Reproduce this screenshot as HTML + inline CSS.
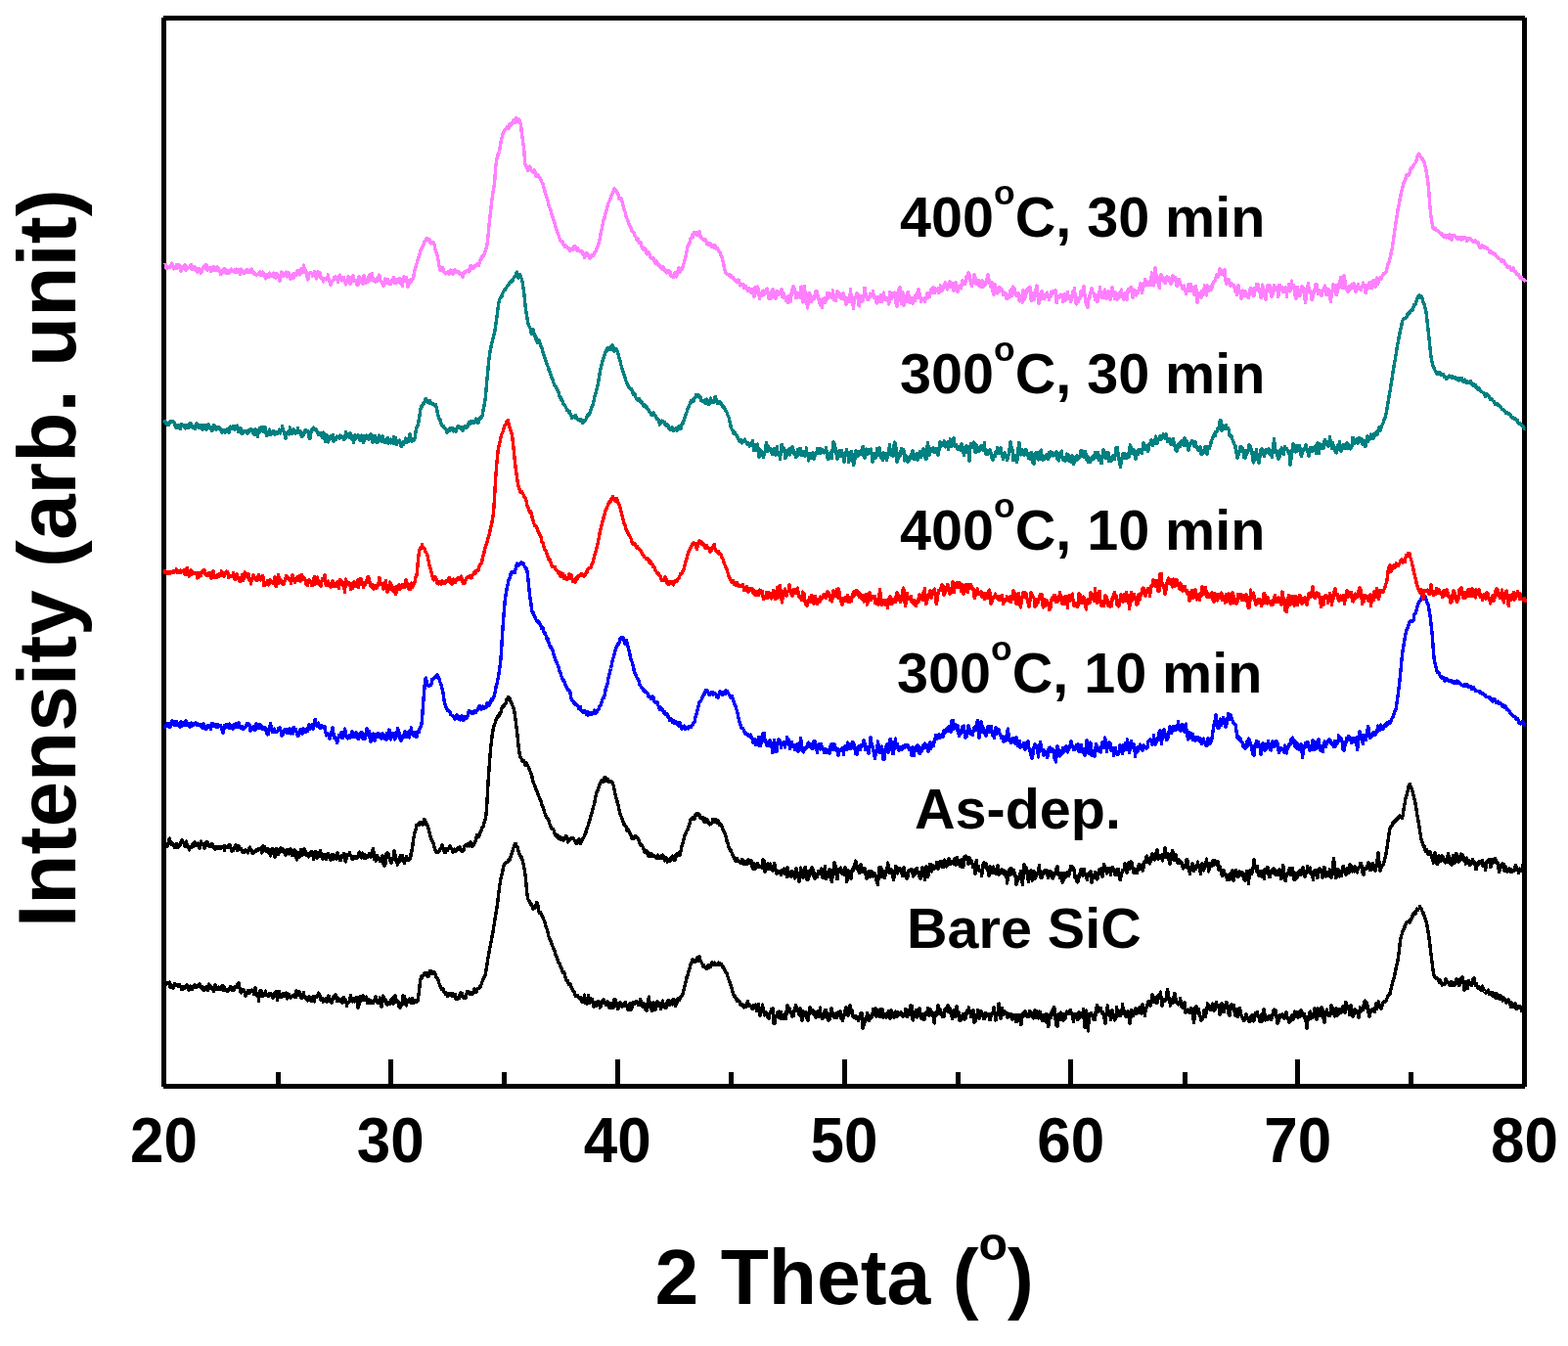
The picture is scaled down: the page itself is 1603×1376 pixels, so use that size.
<!DOCTYPE html>
<html lang="en"><head><meta charset="utf-8"><title>XRD patterns</title>
<style>html,body{margin:0;padding:0;background:#fff}body{width:1603px;height:1376px;overflow:hidden}svg{display:block}text{font-family:"Liberation Sans",Arial,Helvetica,sans-serif;font-weight:bold;fill:#000}</style></head><body>
<svg width="1603" height="1376" viewBox="0 0 1603 1376">
<rect x="0" y="0" width="1603" height="1376" fill="#fff"/>
<g fill="#000" shape-rendering="crispEdges">
<rect x="165" y="18" width="5" height="1093"/>
<rect x="1556" y="18" width="5" height="1093"/>
<rect x="167" y="16" width="1392" height="5"/>
<rect x="167" y="1108" width="1392" height="5"/>
<rect x="282" y="1096" width="5" height="13"/>
<rect x="397" y="1083" width="5" height="26"/>
<rect x="513" y="1096" width="5" height="13"/>
<rect x="629" y="1083" width="5" height="26"/>
<rect x="745" y="1096" width="5" height="13"/>
<rect x="861" y="1083" width="5" height="26"/>
<rect x="977" y="1096" width="5" height="13"/>
<rect x="1092" y="1083" width="5" height="26"/>
<rect x="1209" y="1096" width="5" height="13"/>
<rect x="1324" y="1083" width="5" height="26"/>
<rect x="1440" y="1096" width="5" height="13"/>
</g>
<g shape-rendering="crispEdges">
<polyline points="168,1008.5 168.5,1006.9 169,1004.4 169.5,1006.2 170,1006.3 170.5,1004.8 171,1004.3 171.5,1004.8 172,1004.6 172.5,1004.3 173,1004.5 173.5,1004.1 174,1009.1 174.5,1008.4 175,1006.7 175.5,1007.0 176,1009.4 176.5,1010.1 177,1010.1 177.5,1008.3 178,1007.8 178.5,1005.7 179,1007.3 179.5,1006.7 180,1007.4 180.5,1007.3 181,1007.4 181.5,1007.4 182,1008.4 182.5,1006.6 183,1007.9 183.5,1006.8 184,1007.6 184.5,1009.0 185,1009.5 185.5,1010.7 186,1011.8 186.5,1011.2 187,1010.1 187.5,1008.7 188,1010.1 188.5,1009.7 189,1010.0 189.5,1009.1 190,1008.8 190.5,1007.6 191,1006.9 191.5,1007.9 192,1008.3 192.5,1011.4 193,1012.4 193.5,1011.0 194,1011.4 194.5,1008.1 195,1011.6 195.5,1008.7 196,1008.5 196.5,1011.6 197,1010.3 197.5,1009.4 198,1009.6 198.5,1007.1 199,1006.5 199.5,1007.1 200,1009.1 200.5,1009.1 201,1008.0 201.5,1008.8 202,1008.1 202.5,1008.5 203,1008.1 203.5,1008.0 204,1005.5 204.5,1007.7 205,1008.2 205.5,1009.8 206,1009.5 206.5,1010.4 207,1008.5 207.5,1010.5 208,1012.1 208.5,1012.4 209,1009.4 209.5,1009.6 210,1010.8 210.5,1009.2 211,1011.2 211.5,1010.9 212,1012.1 212.5,1012.3 213,1008.5 213.5,1006.0 214,1006.4 214.5,1009.5 215,1009.2 215.5,1010.7 216,1008.5 216.5,1010.9 217,1009.9 217.5,1010.3 218,1009.7 218.5,1013.3 219,1011.3 219.5,1009.5 220,1007.0 220.5,1009.9 221,1011.3 221.5,1009.4 222,1009.7 222.5,1010.7 223,1011.7 223.5,1009.0 224,1010.8 224.5,1010.3 225,1011.3 225.5,1010.6 226,1009.5 226.5,1009.9 227,1008.3 227.5,1007.5 228,1012.0 228.5,1008.0 229,1009.7 229.5,1009.4 230,1012.7 230.5,1011.1 231,1011.2 231.5,1011.3 232,1012.2 232.5,1013.4 233,1013.7 233.5,1012.1 234,1011.6 234.5,1011.2 235,1009.4 235.5,1010.7 236,1008.2 236.5,1012.1 237,1012.5 237.5,1012.1 238,1012.0 238.5,1012.4 239,1012.3 239.5,1011.7 240,1009.1 240.5,1008.4 241,1009.8 241.5,1008.7 242,1009.0 242.5,1006.1 243,1005.6 243.5,1005.2 244,1004.8 244.5,1008.8 245,1010.0 245.5,1011.3 246,1014.3 246.5,1015.0 247,1013.6 247.5,1011.2 248,1011.2 248.5,1011.9 249,1013.6 249.5,1012.7 250,1014.1 250.5,1016.3 251,1017.9 251.5,1015.8 252,1015.4 252.5,1016.0 253,1013.9 253.5,1012.9 254,1015.1 254.5,1015.0 255,1015.5 255.5,1012.5 256,1014.0 256.5,1013.3 257,1013.2 257.5,1012.1 258,1013.0 258.5,1013.6 259,1013.6 259.5,1016.7 260,1012.1 260.5,1013.7 261,1009.7 261.5,1012.1 262,1015.4 262.5,1016.2 263,1018.8 263.5,1015.5 264,1017.2 264.5,1023.3 265,1017.4 265.5,1016.4 266,1012.6 266.5,1012.6 267,1013.3 267.5,1013.8 268,1016.1 268.5,1018.4 269,1015.9 269.5,1016.8 270,1017.2 270.5,1016.2 271,1016.3 271.5,1013.1 272,1017.7 272.5,1016.9 273,1017.1 273.5,1017.6 274,1018.0 274.5,1016.6 275,1018.3 275.5,1015.9 276,1016.8 276.5,1017.5 277,1016.8 277.5,1015.9 278,1017.4 278.5,1019.1 279,1017.8 279.5,1020.1 280,1017.4 280.5,1016.6 281,1015.3 281.5,1014.6 282,1013.3 282.5,1015.0 283,1017.3 283.5,1022.3 284,1019.5 284.5,1018.4 285,1013.1 285.5,1016.1 286,1015.8 286.5,1018.9 287,1019.2 287.5,1016.5 288,1019.5 288.5,1018.2 289,1015.4 289.5,1015.4 290,1017.8 290.5,1018.1 291,1018.1 291.5,1015.9 292,1016.4 292.5,1018.2 293,1015.1 293.5,1020.9 294,1019.1 294.5,1018.5 295,1016.5 295.5,1016.8 296,1018.4 296.5,1018.2 297,1020.4 297.5,1018.5 298,1019.4 298.5,1018.1 299,1018.7 299.5,1017.8 300,1018.2 300.5,1017.2 301,1019.3 301.5,1018.5 302,1016.8 302.5,1019.5 303,1012.5 303.5,1017.7 304,1017.3 304.5,1017.2 305,1016.0 305.5,1016.6 306,1013.5 306.5,1016.7 307,1016.2 307.5,1019.4 308,1020.5 308.5,1019.6 309,1020.3 309.5,1017.1 310,1017.1 310.5,1014.8 311,1018.3 311.5,1018.9 312,1018.8 312.5,1019.2 313,1021.7 313.5,1020.3 314,1022.5 314.5,1023.1 315,1021.3 315.5,1020.0 316,1019.1 316.5,1021.6 317,1022.5 317.5,1019.7 318,1021.9 318.5,1023.2 319,1022.1 319.5,1020.7 320,1022.2 320.5,1018.8 321,1019.8 321.5,1023.9 322,1020.0 322.5,1019.0 323,1019.0 323.5,1019.6 324,1018.7 324.5,1018.4 325,1017.5 325.5,1015.2 326,1017.5 326.5,1016.3 327,1018.2 327.5,1021.4 328,1022.0 328.5,1021.5 329,1020.3 329.5,1023.0 330,1020.6 330.5,1024.1 331,1023.8 331.5,1022.6 332,1022.9 332.5,1021.0 333,1020.6 333.5,1020.4 334,1024.2 334.5,1021.3 335,1022.7 335.5,1021.1 336,1018.1 336.5,1020.4 337,1023.2 337.5,1023.5 338,1022.6 338.5,1024.3 339,1024.9 339.5,1021.7 340,1020.9 340.5,1019.1 341,1021.1 341.5,1020.8 342,1020.4 342.5,1017.0 343,1016.6 343.5,1019.5 344,1019.7 344.5,1023.1 345,1020.6 345.5,1020.0 346,1023.4 346.5,1023.4 347,1023.8 347.5,1023.7 348,1023.5 348.5,1021.5 349,1021.8 349.5,1023.0 350,1025.7 350.5,1022.7 351,1020.1 351.5,1019.4 352,1023.1 352.5,1022.2 353,1021.4 353.5,1023.4 354,1023.5 354.5,1028.4 355,1026.4 355.5,1024.7 356,1025.5 356.5,1024.9 357,1023.8 357.5,1022.2 358,1020.2 358.5,1017.6 359,1020.1 359.5,1021.6 360,1022.2 360.5,1024.0 361,1020.6 361.5,1022.1 362,1021.9 362.5,1023.9 363,1023.8 363.5,1020.2 364,1021.2 364.5,1019.8 365,1023.0 365.5,1025.9 366,1030.0 366.5,1027.4 367,1027.4 367.5,1025.2 368,1019.2 368.5,1018.6 369,1019.8 369.5,1023.1 370,1021.5 370.5,1021.3 371,1017.8 371.5,1019.9 372,1022.3 372.5,1019.8 373,1019.4 373.5,1021.7 374,1019.3 374.5,1019.1 375,1022.8 375.5,1025.2 376,1022.5 376.5,1021.3 377,1023.0 377.5,1022.4 378,1024.7 378.5,1025.3 379,1025.4 379.5,1023.0 380,1024.2 380.5,1024.1 381,1024.4 381.5,1025.3 382,1022.9 382.5,1023.1 383,1021.6 383.5,1021.4 384,1018.6 384.5,1022.8 385,1024.3 385.5,1023.6 386,1025.4 386.5,1025.0 387,1023.4 387.5,1025.3 388,1022.5 388.5,1019.9 389,1020.9 389.5,1021.7 390,1029.0 390.5,1027.2 391,1022.7 391.5,1018.1 392,1019.0 392.5,1022.1 393,1023.4 393.5,1023.5 394,1021.3 394.5,1025.7 395,1023.9 395.5,1024.9 396,1027.3 396.5,1025.9 397,1025.9 397.5,1026.5 398,1025.1 398.5,1024.7 399,1025.9 399.5,1022.0 400,1022.0 400.5,1022.7 401,1023.5 401.5,1020.2 402,1026.1 402.5,1023.9 403,1021.6 403.5,1019.8 404,1017.6 404.5,1020.8 405,1021.4 405.5,1024.3 406,1024.2 406.5,1024.7 407,1023.5 407.5,1025.9 408,1029.4 408.5,1028.6 409,1030.0 409.5,1028.4 410,1026.0 410.5,1026.5 411,1027.4 411.5,1023.2 412,1017.2 412.5,1019.5 413,1020.9 413.5,1018.4 414,1021.7 414.5,1024.3 415,1027.3 415.5,1028.0 416,1022.2 416.5,1023.9 417,1024.3 417.5,1022.9 418,1022.2 418.5,1023.9 419,1021.1 419.5,1023.1 420,1023.5 420.5,1025.5 421,1024.9 421.5,1020.8 422,1022.1 422.5,1023.2 423,1025.4 423.5,1024.9 424,1023.9 424.5,1023.3 425,1022.2 425.5,1022.7 426,1024.2 426.5,1023.6 427,1023.2 427.5,1020.3 428,1017.2 428.5,1013.0 429,1008.2 429.5,1003.6 430,1000.4 430.5,999.2 431,997.6 431.5,999.7 432,997.8 432.5,997.1 433,996.8 433.5,995.8 434,995.0 434.5,995.9 435,994.2 435.5,994.4 436,997.3 436.5,996.7 437,998.2 437.5,996.7 438,997.9 438.5,994.8 439,995.1 439.5,992.9 440,993.4 440.5,992.8 441,995.0 441.5,995.3 442,995.0 442.5,994.1 443,994.8 443.5,994.1 444,993.7 444.5,994.8 445,995.8 445.5,996.8 446,999.5 446.5,999.9 447,1000.2 447.5,1000.6 448,1002.0 448.5,1004.2 449,1005.3 449.5,1007.1 450,1008.2 450.5,1009.6 451,1010.5 451.5,1011.5 452,1010.2 452.5,1010.8 453,1010.5 453.5,1012.5 454,1014.0 454.5,1014.3 455,1014.7 455.5,1016.6 456,1014.9 456.5,1015.5 457,1016.2 457.5,1016.9 458,1018.8 458.5,1017.0 459,1017.1 459.5,1015.4 460,1015.2 460.5,1015.9 461,1016.0 461.5,1015.8 462,1018.1 462.5,1015.8 463,1016.6 463.5,1017.2 464,1018.4 464.5,1018.5 465,1018.0 465.5,1016.6 466,1021.8 466.5,1021.2 467,1019.8 467.5,1021.7 468,1020.1 468.5,1020.6 469,1020.2 469.5,1020.4 470,1016.5 470.5,1017.1 471,1015.1 471.5,1015.2 472,1015.2 472.5,1016.6 473,1019.8 473.5,1018.3 474,1018.3 474.5,1020.2 475,1019.7 475.5,1019.9 476,1020.1 476.5,1016.9 477,1015.7 477.5,1013.4 478,1014.1 478.5,1014.3 479,1013.4 479.5,1015.2 480,1016.2 480.5,1016.3 481,1014.3 481.5,1016.0 482,1015.0 482.5,1016.5 483,1014.5 483.5,1014.4 484,1015.7 484.5,1012.2 485,1011.1 485.5,1012.5 486,1013.3 486.5,1014.7 487,1014.5 487.5,1012.5 488,1010.9 488.5,1011.0 489,1010.7 489.5,1010.0 490,1009.7 490.5,1008.7 491,1009.2 491.5,1007.5 492,1006.6 492.5,1004.7 493,1003.6 493.5,1002.8 494,1000.8 494.5,999.9 495,998.6 495.5,998.7 496,997.3 496.5,995.7 497,991.8 497.5,988.8 498,985.4 498.5,982.6 499,978.9 499.5,976.6 500,973.4 500.5,971.0 501,967.9 501.5,965.3 502,963.0 502.5,960.1 503,957.4 503.5,955.2 504,952.5 504.5,949.0 505,946.1 505.5,942.8 506,939.4 506.5,936.6 507,933.3 507.5,930.1 508,927.3 508.5,924.2 509,920.4 509.5,915.9 510,911.5 510.5,907.4 511,904.0 511.5,901.4 512,897.9 512.5,895.6 513,894.1 513.5,891.5 514,889.9 514.5,887.1 515,885.0 515.5,883.6 516,883.1 516.5,883.1 517,882.7 517.5,881.4 518,881.8 518.5,881.0 519,880.9 519.5,880.0 520,878.8 520.5,879.2 521,878.9 521.5,878.3 522,876.2 522.5,875.9 523,872.8 523.5,871.0 524,869.9 524.5,867.5 525,866.7 525.5,865.2 526,863.8 526.5,863.2 527,862.2 527.5,864.2 528,865.5 528.5,865.5 529,866.0 529.5,867.2 530,870.3 530.5,872.5 531,873.6 531.5,873.8 532,875.0 532.5,875.5 533,876.8 533.5,876.8 534,879.2 534.5,880.8 535,882.9 535.5,885.5 536,888.2 536.5,890.7 537,893.8 537.5,898.5 538,904.5 538.5,910.9 539,915.1 539.5,917.7 540,919.5 540.5,920.7 541,921.2 541.5,922.8 542,923.5 542.5,923.0 543,925.1 543.5,924.5 544,926.1 544.5,927.8 545,929.0 545.5,927.7 546,926.4 546.5,928.7 547,926.1 547.5,926.6 548,924.7 548.5,922.5 549,924.4 549.5,923.7 550,926.6 550.5,931.1 551,932.6 551.5,933.3 552,933.4 552.5,932.4 553,933.5 553.5,934.6 554,936.1 554.5,937.3 555,937.9 555.5,938.9 556,940.4 556.5,942.3 557,942.7 557.5,944.9 558,946.6 558.5,948.2 559,949.5 559.5,951.0 560,953.0 560.5,955.5 561,957.6 561.5,958.8 562,959.7 562.5,961.2 563,961.5 563.5,962.5 564,965.6 564.5,966.5 565,967.3 565.5,969.0 566,970.5 566.5,970.4 567,972.0 567.5,973.8 568,976.2 568.5,977.5 569,978.1 569.5,980.2 570,980.9 570.5,983.2 571,984.1 571.5,984.8 572,985.0 572.5,986.4 573,988.3 573.5,989.0 574,989.9 574.5,992.2 575,992.6 575.5,994.3 576,994.3 576.5,993.5 577,995.1 577.5,997.1 578,999.1 578.5,1001.6 579,1002.6 579.5,1002.9 580,1002.2 580.5,1003.2 581,1005.6 581.5,1006.4 582,1005.3 582.5,1006.0 583,1006.5 583.5,1006.8 584,1009.3 584.5,1009.5 585,1011.6 585.5,1011.7 586,1013.3 586.5,1013.9 587,1014.0 587.5,1016.9 588,1017.6 588.5,1018.3 589,1018.4 589.5,1017.9 590,1017.8 590.5,1017.8 591,1019.5 591.5,1019.4 592,1020.7 592.5,1019.8 593,1019.9 593.5,1019.6 594,1022.0 594.5,1023.5 595,1024.3 595.5,1024.7 596,1024.1 596.5,1023.9 597,1020.9 597.5,1017.2 598,1020.2 598.5,1025.5 599,1024.5 599.5,1025.0 600,1025.1 600.5,1026.2 601,1023.5 601.5,1017.3 602,1019.6 602.5,1025.6 603,1022.9 603.5,1020.7 604,1022.8 604.5,1023.2 605,1022.2 605.5,1021.3 606,1024.0 606.5,1028.5 607,1029.7 607.5,1025.8 608,1027.9 608.5,1025.5 609,1025.8 609.5,1024.4 610,1024.9 610.5,1028.1 611,1024.7 611.5,1023.3 612,1023.9 612.5,1027.5 613,1028.3 613.5,1030.1 614,1029.7 614.5,1025.5 615,1023.6 615.5,1023.6 616,1023.8 616.5,1024.0 617,1022.1 617.5,1025.6 618,1025.8 618.5,1025.8 619,1025.6 619.5,1027.1 620,1025.6 620.5,1027.1 621,1024.0 621.5,1025.1 622,1025.5 622.5,1028.1 623,1029.9 623.5,1028.4 624,1025.8 624.5,1030.2 625,1027.9 625.5,1027.4 626,1029.7 626.5,1030.4 627,1025.0 627.5,1030.1 628,1021.4 628.5,1027.7 629,1023.9 629.5,1022.0 630,1024.7 630.5,1025.5 631,1028.4 631.5,1031.6 632,1028.3 632.5,1030.5 633,1025.1 633.5,1026.3 634,1024.9 634.5,1025.7 635,1027.5 635.5,1028.0 636,1029.0 636.5,1028.1 637,1028.8 637.5,1026.2 638,1027.6 638.5,1028.6 639,1028.6 639.5,1024.7 640,1026.8 640.5,1028.9 641,1028.0 641.5,1028.5 642,1032.8 642.5,1031.6 643,1030.0 643.5,1027.3 644,1025.8 644.5,1028.2 645,1032.3 645.5,1031.2 646,1029.7 646.5,1028.2 647,1024.8 647.5,1026.3 648,1026.1 648.5,1026.5 649,1025.0 649.5,1025.6 650,1025.7 650.5,1023.9 651,1024.8 651.5,1024.0 652,1025.6 652.5,1027.5 653,1025.9 653.5,1026.5 654,1027.0 654.5,1021.6 655,1022.7 655.5,1024.2 656,1027.1 656.5,1028.4 657,1029.3 657.5,1027.3 658,1025.3 658.5,1028.1 659,1028.2 659.5,1026.7 660,1032.4 660.5,1031.1 661,1033.7 661.5,1031.3 662,1030.6 662.5,1028.4 663,1021.7 663.5,1019.2 664,1025.0 664.5,1027.2 665,1029.3 665.5,1029.5 666,1032.6 666.5,1033.5 667,1030.8 667.5,1028.0 668,1024.6 668.5,1029.3 669,1028.0 669.5,1032.7 670,1032.8 670.5,1031.0 671,1027.0 671.5,1023.9 672,1023.5 672.5,1024.5 673,1028.5 673.5,1026.0 674,1025.2 674.5,1025.6 675,1026.2 675.5,1031.5 676,1030.0 676.5,1025.8 677,1029.1 677.5,1023.0 678,1026.5 678.5,1026.8 679,1027.7 679.5,1027.1 680,1030.6 680.5,1029.4 681,1025.3 681.5,1029.9 682,1025.4 682.5,1027.5 683,1022.9 683.5,1023.9 684,1023.0 684.5,1025.7 685,1027.7 685.5,1024.0 686,1023.3 686.5,1024.6 687,1022.7 687.5,1027.0 688,1021.2 688.5,1025.3 689,1021.4 689.5,1023.0 690,1026.0 690.5,1028.6 691,1027.6 691.5,1025.4 692,1025.5 692.5,1025.1 693,1020.8 693.5,1022.4 694,1022.3 694.5,1022.3 695,1019.9 695.5,1021.0 696,1019.0 696.5,1018.2 697,1018.0 697.5,1017.0 698,1015.7 698.5,1014.4 699,1012.1 699.5,1011.2 700,1008.0 700.5,1005.8 701,1004.5 701.5,1001.5 702,999.6 702.5,997.6 703,997.1 703.5,994.9 704,992.6 704.5,991.8 705,990.0 705.5,988.7 706,986.1 706.5,984.8 707,984.2 707.5,982.7 708,980.8 708.5,982.7 709,982.9 709.5,983.3 710,982.1 710.5,983.2 711,982.1 711.5,981.7 712,981.0 712.5,979.2 713,980.0 713.5,982.2 714,981.2 714.5,981.2 715,978.0 715.5,979.8 716,981.5 716.5,983.0 717,983.6 717.5,984.5 718,985.5 718.5,987.0 719,988.2 719.5,986.6 720,988.7 720.5,988.7 721,989.1 721.5,988.5 722,990.7 722.5,990.2 723,988.9 723.5,988.3 724,987.1 724.5,988.1 725,989.4 725.5,988.5 726,987.5 726.5,988.3 727,985.8 727.5,986.7 728,983.9 728.5,985.4 729,985.7 729.5,985.9 730,984.9 730.5,984.2 731,985.4 731.5,986.4 732,986.2 732.5,986.2 733,986.2 733.5,985.6 734,984.5 734.5,983.9 735,984.5 735.5,986.4 736,985.6 736.5,984.9 737,985.2 737.5,986.0 738,986.8 738.5,987.1 739,989.4 739.5,988.4 740,990.2 740.5,991.6 741,992.7 741.5,992.5 742,994.4 742.5,994.8 743,995.2 743.5,997.8 744,998.5 744.5,1000.1 745,1001.6 745.5,1002.8 746,1004.3 746.5,1006.2 747,1007.1 747.5,1008.8 748,1010.7 748.5,1010.8 749,1013.8 749.5,1014.5 750,1017.5 750.5,1018.4 751,1019.4 751.5,1018.1 752,1020.1 752.5,1021.4 753,1021.6 753.5,1023.2 754,1023.3 754.5,1022.0 755,1023.1 755.5,1023.2 756,1024.5 756.5,1024.8 757,1026.9 757.5,1026.7 758,1027.2 758.5,1026.9 759,1026.3 759.5,1028.1 760,1029.6 760.5,1029.8 761,1027.5 761.5,1027.6 762,1027.5 762.5,1027.3 763,1028.9 763.5,1027.0 764,1024.6 764.5,1023.8 765,1025.7 765.5,1026.3 766,1027.0 766.5,1028.3 767,1028.1 767.5,1028.1 768,1029.2 768.5,1028.4 769,1031.5 769.5,1031.6 770,1029.0 770.5,1027.8 771,1028.3 771.5,1028.0 772,1030.2 772.5,1027.1 773,1030.6 773.5,1033.2 774,1030.1 774.5,1030.9 775,1028.5 775.5,1026.3 776,1030.3 776.5,1034.2 777,1038.4 777.5,1037.0 778,1032.8 778.5,1032.0 779,1030.1 779.5,1027.0 780,1034.4 780.5,1030.7 781,1035.2 781.5,1037.8 782,1034.1 782.5,1036.6 783,1036.6 783.5,1035.2 784,1038.2 784.5,1039.6 785,1037.5 785.5,1039.6 786,1040.9 786.5,1039.1 787,1035.4 787.5,1035.5 788,1034.4 788.5,1031.8 789,1032.6 789.5,1033.1 790,1030.3 790.5,1037.6 791,1046.2 791.5,1046.6 792,1046.6 792.5,1041.3 793,1039.1 793.5,1038.4 794,1038.2 794.5,1035.8 795,1036.1 795.5,1034.5 796,1040.5 796.5,1034.1 797,1035.7 797.5,1041.1 798,1034.4 798.5,1034.8 799,1041.0 799.5,1039.5 800,1041.3 800.5,1041.4 801,1037.1 801.5,1041.2 802,1036.6 802.5,1036.6 803,1036.6 803.5,1041.8 804,1035.0 804.5,1031.4 805,1027.3 805.5,1028.4 806,1030.2 806.5,1033.4 807,1030.8 807.5,1034.0 808,1035.7 808.5,1035.5 809,1035.1 809.5,1039.0 810,1036.8 810.5,1039.1 811,1038.8 811.5,1033.1 812,1034.5 812.5,1032.3 813,1030.7 813.5,1027.4 814,1031.8 814.5,1029.1 815,1031.0 815.5,1034.0 816,1031.2 816.5,1036.9 817,1037.1 817.5,1032.8 818,1030.3 818.5,1038.9 819,1037.5 819.5,1042.7 820,1043.7 820.5,1041.9 821,1037.9 821.5,1033.9 822,1037.9 822.5,1034.7 823,1038.7 823.5,1034.3 824,1037.7 824.5,1037.7 825,1041.7 825.5,1038.6 826,1043.0 826.5,1035.5 827,1034.3 827.5,1036.4 828,1029.3 828.5,1031.4 829,1033.2 829.5,1034.7 830,1035.0 830.5,1035.0 831,1033.1 831.5,1036.8 832,1036.0 832.5,1034.8 833,1038.1 833.5,1035.9 834,1040.7 834.5,1035.0 835,1035.8 835.5,1036.7 836,1033.5 836.5,1039.3 837,1039.3 837.5,1037.2 838,1036.7 838.5,1030.1 839,1037.8 839.5,1038.1 840,1039.7 840.5,1041.5 841,1040.9 841.5,1038.8 842,1036.9 842.5,1036.8 843,1034.1 843.5,1038.2 844,1032.1 844.5,1039.5 845,1039.0 845.5,1035.4 846,1040.9 846.5,1040.5 847,1043.3 847.5,1040.8 848,1042.4 848.5,1042.0 849,1035.8 849.5,1036.4 850,1030.8 850.5,1035.6 851,1035.1 851.5,1038.5 852,1035.2 852.5,1040.0 853,1039.6 853.5,1040.2 854,1039.5 854.5,1037.6 855,1035.5 855.5,1040.5 856,1035.8 856.5,1038.8 857,1035.0 857.5,1036.6 858,1037.3 858.5,1038.7 859,1033.4 859.5,1036.1 860,1041.7 860.5,1037.3 861,1040.8 861.5,1043.5 862,1041.3 862.5,1041.0 863,1038.2 863.5,1035.1 864,1032.7 864.5,1033.2 865,1029.9 865.5,1031.5 866,1032.1 866.5,1030.6 867,1038.5 867.5,1036.9 868,1034.8 868.5,1030.0 869,1027.4 869.5,1032.3 870,1035.4 870.5,1032.5 871,1032.8 871.5,1036.8 872,1039.3 872.5,1038.2 873,1040.2 873.5,1038.5 874,1040.0 874.5,1040.9 875,1041.4 875.5,1039.0 876,1039.5 876.5,1040.5 877,1040.4 877.5,1043.8 878,1040.7 878.5,1039.7 879,1040.9 879.5,1038.3 880,1035.4 880.5,1038.6 881,1036.0 881.5,1041.8 882,1051.2 882.5,1048.8 883,1048.2 883.5,1047.9 884,1043.8 884.5,1041.0 885,1041.6 885.5,1039.1 886,1039.4 886.5,1035.7 887,1036.9 887.5,1039.0 888,1042.8 888.5,1043.7 889,1038.7 889.5,1039.7 890,1041.2 890.5,1040.3 891,1039.1 891.5,1039.8 892,1037.9 892.5,1031.3 893,1037.7 893.5,1035.6 894,1035.4 894.5,1031.3 895,1030.6 895.5,1031.7 896,1039.4 896.5,1038.8 897,1038.4 897.5,1036.3 898,1032.8 898.5,1033.7 899,1036.4 899.5,1039.8 900,1034.7 900.5,1031.7 901,1035.8 901.5,1036.4 902,1031.6 902.5,1036.7 903,1040.8 903.5,1037.1 904,1036.9 904.5,1038.5 905,1038.9 905.5,1036.8 906,1040.2 906.5,1039.4 907,1037.8 907.5,1035.8 908,1036.4 908.5,1033.8 909,1038.7 909.5,1039.6 910,1040.9 910.5,1037.3 911,1033.0 911.5,1035.7 912,1036.0 912.5,1035.6 913,1039.4 913.5,1039.7 914,1040.4 914.5,1035.2 915,1035.6 915.5,1034.0 916,1037.0 916.5,1035.7 917,1039.2 917.5,1038.8 918,1034.8 918.5,1036.5 919,1037.8 919.5,1036.4 920,1037.3 920.5,1037.0 921,1035.0 921.5,1037.9 922,1037.5 922.5,1037.0 923,1038.1 923.5,1039.1 924,1038.1 924.5,1037.7 925,1038.3 925.5,1031.3 926,1031.3 926.5,1036.4 927,1039.0 927.5,1039.1 928,1032.1 928.5,1035.8 929,1032.6 929.5,1037.5 930,1036.7 930.5,1033.5 931,1027.3 931.5,1028.5 932,1028.2 932.5,1037.2 933,1042.4 933.5,1042.9 934,1038.9 934.5,1034.9 935,1034.3 935.5,1039.0 936,1034.2 936.5,1032.3 937,1033.5 937.5,1040.0 938,1039.2 938.5,1035.6 939,1031.5 939.5,1033.9 940,1030.7 940.5,1034.5 941,1036.4 941.5,1039.3 942,1041.2 942.5,1036.8 943,1039.8 943.5,1036.8 944,1038.6 944.5,1042.2 945,1042.1 945.5,1039.4 946,1038.4 946.5,1035.5 947,1036.1 947.5,1035.5 948,1035.6 948.5,1030.7 949,1036.0 949.5,1036.3 950,1038.0 950.5,1033.9 951,1031.5 951.5,1035.6 952,1036.7 952.5,1037.8 953,1037.1 953.5,1035.0 954,1038.0 954.5,1041.5 955,1044.7 955.5,1045.9 956,1036.0 956.5,1036.7 957,1038.1 957.5,1034.1 958,1034.3 958.5,1030.9 959,1027.5 959.5,1029.7 960,1030.9 960.5,1036.2 961,1032.0 961.5,1034.4 962,1037.8 962.5,1037.8 963,1035.4 963.5,1039.2 964,1036.2 964.5,1035.8 965,1039.8 965.5,1035.7 966,1032.2 966.5,1031.0 967,1031.5 967.5,1033.1 968,1033.0 968.5,1033.9 969,1027.7 969.5,1029.5 970,1034.9 970.5,1030.5 971,1031.0 971.5,1035.6 972,1032.9 972.5,1034.4 973,1039.2 973.5,1041.4 974,1035.5 974.5,1035.3 975,1035.8 975.5,1032.6 976,1037.8 976.5,1039.5 977,1035.8 977.5,1034.8 978,1028.4 978.5,1033.0 979,1036.3 979.5,1038.3 980,1034.9 980.5,1039.8 981,1043.1 981.5,1041.7 982,1043.7 982.5,1040.9 983,1038.6 983.5,1039.0 984,1040.1 984.5,1036.6 985,1040.4 985.5,1038.7 986,1042.1 986.5,1040.1 987,1041.2 987.5,1035.2 988,1036.7 988.5,1036.0 989,1032.6 989.5,1033.6 990,1033.0 990.5,1029.9 991,1035.5 991.5,1035.3 992,1033.7 992.5,1039.6 993,1036.1 993.5,1033.4 994,1034.9 994.5,1034.8 995,1032.8 995.5,1040.5 996,1045.1 996.5,1041.1 997,1044.1 997.5,1040.1 998,1038.9 998.5,1040.7 999,1039.5 999.5,1032.6 1000,1037.6 1000.5,1039.4 1001,1041.8 1001.5,1034.7 1002,1034.3 1002.5,1033.8 1003,1035.3 1003.5,1034.3 1004,1037.4 1004.5,1037.0 1005,1039.3 1005.5,1036.7 1006,1041.9 1006.5,1039.9 1007,1039.0 1007.5,1035.8 1008,1039.8 1008.5,1035.9 1009,1037.1 1009.5,1037.2 1010,1037.8 1010.5,1037.3 1011,1037.1 1011.5,1037.4 1012,1042.9 1012.5,1041.8 1013,1039.4 1013.5,1038.5 1014,1035.7 1014.5,1035.0 1015,1034.9 1015.5,1032.7 1016,1029.7 1016.5,1032.7 1017,1034.8 1017.5,1040.9 1018,1042.9 1018.5,1040.3 1019,1035.9 1019.5,1037.8 1020,1037.6 1020.5,1032.3 1021,1026.2 1021.5,1025.9 1022,1030.2 1022.5,1035.8 1023,1041.7 1023.5,1040.1 1024,1036.7 1024.5,1030.4 1025,1036.7 1025.5,1037.7 1026,1034.9 1026.5,1033.6 1027,1036.7 1027.5,1036.6 1028,1036.8 1028.5,1035.0 1029,1035.1 1029.5,1037.6 1030,1040.5 1030.5,1035.9 1031,1038.1 1031.5,1037.7 1032,1036.6 1032.5,1038.0 1033,1038.1 1033.5,1039.4 1034,1036.6 1034.5,1037.8 1035,1042.1 1035.5,1039.0 1036,1041.1 1036.5,1037.7 1037,1038.4 1037.5,1039.1 1038,1042.5 1038.5,1044.3 1039,1040.7 1039.5,1037.8 1040,1040.3 1040.5,1044.1 1041,1043.7 1041.5,1039.6 1042,1037.4 1042.5,1042.2 1043,1041.8 1043.5,1042.9 1044,1047.9 1044.5,1042.6 1045,1036.4 1045.5,1039.9 1046,1039.1 1046.5,1035.4 1047,1037.8 1047.5,1036.0 1048,1033.7 1048.5,1034.6 1049,1037.6 1049.5,1038.9 1050,1039.6 1050.5,1036.4 1051,1038.9 1051.5,1037.6 1052,1039.2 1052.5,1033.9 1053,1033.4 1053.5,1037.5 1054,1038.2 1054.5,1035.3 1055,1038.7 1055.5,1040.0 1056,1038.8 1056.5,1040.8 1057,1038.1 1057.5,1038.1 1058,1033.0 1058.5,1034.4 1059,1040.6 1059.5,1037.9 1060,1033.2 1060.5,1037.0 1061,1036.9 1061.5,1041.0 1062,1036.7 1062.5,1034.0 1063,1034.4 1063.5,1034.3 1064,1037.8 1064.5,1039.8 1065,1042.4 1065.5,1043.5 1066,1042.5 1066.5,1038.0 1067,1038.8 1067.5,1038.4 1068,1039.5 1068.5,1043.9 1069,1037.1 1069.5,1036.6 1070,1036.6 1070.5,1044.3 1071,1045.2 1071.5,1049.3 1072,1048.7 1072.5,1040.5 1073,1038.5 1073.5,1037.1 1074,1040.9 1074.5,1035.7 1075,1037.4 1075.5,1037.7 1076,1033.0 1076.5,1037.2 1077,1030.8 1077.5,1029.3 1078,1030.8 1078.5,1038.1 1079,1042.1 1079.5,1043.1 1080,1048.0 1080.5,1047.1 1081,1049.6 1081.5,1046.0 1082,1037.0 1082.5,1036.3 1083,1037.9 1083.5,1039.9 1084,1042.2 1084.5,1035.1 1085,1037.5 1085.5,1039.2 1086,1039.1 1086.5,1039.9 1087,1043.5 1087.5,1037.4 1088,1036.2 1088.5,1041.6 1089,1038.9 1089.5,1041.1 1090,1036.1 1090.5,1034.1 1091,1034.1 1091.5,1036.1 1092,1036.3 1092.5,1036.4 1093,1034.0 1093.5,1033.6 1094,1035.4 1094.5,1032.4 1095,1035.4 1095.5,1036.7 1096,1035.9 1096.5,1037.2 1097,1041.9 1097.5,1044.7 1098,1038.9 1098.5,1038.0 1099,1036.3 1099.5,1039.7 1100,1036.6 1100.5,1039.8 1101,1040.7 1101.5,1042.3 1102,1038.6 1102.5,1041.4 1103,1035.0 1103.5,1037.1 1104,1040.3 1104.5,1038.1 1105,1037.9 1105.5,1036.0 1106,1039.6 1106.5,1040.0 1107,1035.3 1107.5,1031.7 1108,1038.2 1108.5,1041.8 1109,1050.0 1109.5,1049.3 1110,1038.2 1110.5,1033.1 1111,1036.3 1111.5,1044.6 1112,1049.9 1112.5,1054.0 1113,1042.2 1113.5,1040.9 1114,1037.4 1114.5,1038.8 1115,1035.6 1115.5,1035.5 1116,1037.1 1116.5,1038.8 1117,1039.4 1117.5,1040.7 1118,1042.5 1118.5,1041.9 1119,1037.1 1119.5,1042.8 1120,1036.5 1120.5,1030.5 1121,1031.9 1121.5,1027.6 1122,1028.6 1122.5,1029.5 1123,1034.4 1123.5,1033.9 1124,1033.7 1124.5,1032.6 1125,1032.2 1125.5,1030.7 1126,1034.0 1126.5,1034.6 1127,1036.5 1127.5,1034.8 1128,1036.2 1128.5,1037.3 1129,1040.7 1129.5,1042.0 1130,1046.7 1130.5,1044.1 1131,1035.7 1131.5,1035.0 1132,1029.7 1132.5,1027.9 1133,1035.2 1133.5,1033.8 1134,1037.1 1134.5,1038.2 1135,1037.7 1135.5,1042.4 1136,1037.1 1136.5,1034.1 1137,1032.5 1137.5,1036.2 1138,1039.0 1138.5,1040.7 1139,1040.5 1139.5,1043.0 1140,1041.7 1140.5,1039.1 1141,1040.8 1141.5,1029.8 1142,1032.2 1142.5,1037.1 1143,1035.7 1143.5,1038.0 1144,1033.2 1144.5,1034.3 1145,1037.1 1145.5,1038.6 1146,1037.2 1146.5,1036.9 1147,1033.6 1147.5,1026.8 1148,1031.0 1148.5,1032.2 1149,1033.1 1149.5,1036.2 1150,1034.7 1150.5,1036.9 1151,1039.1 1151.5,1035.8 1152,1035.4 1152.5,1034.4 1153,1034.0 1153.5,1034.2 1154,1040.1 1154.5,1041.8 1155,1046.0 1155.5,1039.3 1156,1040.6 1156.5,1032.8 1157,1034.6 1157.5,1033.5 1158,1033.6 1158.5,1038.3 1159,1034.5 1159.5,1035.1 1160,1036.6 1160.5,1034.5 1161,1030.9 1161.5,1033.2 1162,1036.1 1162.5,1034.3 1163,1034.9 1163.5,1034.7 1164,1035.2 1164.5,1032.9 1165,1029.7 1165.5,1032.8 1166,1029.6 1166.5,1035.8 1167,1036.0 1167.5,1035.3 1168,1026.8 1168.5,1027.5 1169,1030.1 1169.5,1033.3 1170,1033.1 1170.5,1038.6 1171,1033.0 1171.5,1033.8 1172,1030.0 1172.5,1027.0 1173,1027.5 1173.5,1024.0 1174,1026.3 1174.5,1027.4 1175,1023.3 1175.5,1023.7 1176,1028.6 1176.5,1026.8 1177,1022.5 1177.5,1022.5 1178,1016.6 1178.5,1023.3 1179,1021.4 1179.5,1024.3 1180,1023.6 1180.5,1023.3 1181,1020.0 1181.5,1024.9 1182,1021.6 1182.5,1024.4 1183,1025.5 1183.5,1022.0 1184,1018.0 1184.5,1018.9 1185,1019.4 1185.5,1018.2 1186,1015.6 1186.5,1014.1 1187,1020.3 1187.5,1024.8 1188,1028.5 1188.5,1024.3 1189,1021.7 1189.5,1023.1 1190,1021.9 1190.5,1021.6 1191,1023.7 1191.5,1021.9 1192,1022.1 1192.5,1017.8 1193,1014.5 1193.5,1011.7 1194,1014.4 1194.5,1021.6 1195,1022.2 1195.5,1020.8 1196,1024.7 1196.5,1028.1 1197,1024.6 1197.5,1021.8 1198,1023.8 1198.5,1023.3 1199,1025.8 1199.5,1022.0 1200,1020.0 1200.5,1015.8 1201,1015.3 1201.5,1016.5 1202,1021.9 1202.5,1024.8 1203,1023.7 1203.5,1024.8 1204,1025.8 1204.5,1026.9 1205,1026.4 1205.5,1025.8 1206,1024.2 1206.5,1020.6 1207,1023.3 1207.5,1029.0 1208,1028.8 1208.5,1028.9 1209,1029.5 1209.5,1030.3 1210,1030.0 1210.5,1030.6 1211,1024.9 1211.5,1033.2 1212,1035.8 1212.5,1033.8 1213,1033.1 1213.5,1034.5 1214,1033.2 1214.5,1032.1 1215,1034.4 1215.5,1035.0 1216,1035.4 1216.5,1034.0 1217,1035.2 1217.5,1030.7 1218,1033.8 1218.5,1031.0 1219,1031.2 1219.5,1036.1 1220,1040.9 1220.5,1045.4 1221,1041.1 1221.5,1038.7 1222,1029.5 1222.5,1030.9 1223,1028.7 1223.5,1033.5 1224,1034.0 1224.5,1035.5 1225,1031.1 1225.5,1033.8 1226,1037.6 1226.5,1035.7 1227,1038.8 1227.5,1039.5 1228,1043.4 1228.5,1042.6 1229,1041.0 1229.5,1042.0 1230,1040.1 1230.5,1035.7 1231,1032.9 1231.5,1035.9 1232,1039.9 1232.5,1036.9 1233,1036.6 1233.5,1031.2 1234,1031.1 1234.5,1025.9 1235,1026.5 1235.5,1031.1 1236,1028.1 1236.5,1030.5 1237,1032.1 1237.5,1032.1 1238,1030.6 1238.5,1030.6 1239,1027.6 1239.5,1026.2 1240,1029.6 1240.5,1030.5 1241,1033.4 1241.5,1032.7 1242,1026.4 1242.5,1031.4 1243,1027.8 1243.5,1024.7 1244,1028.3 1244.5,1027.7 1245,1027.9 1245.5,1029.2 1246,1028.6 1246.5,1028.0 1247,1037.0 1247.5,1034.3 1248,1035.5 1248.5,1028.7 1249,1025.7 1249.5,1028.6 1250,1031.9 1250.5,1030.4 1251,1034.3 1251.5,1034.3 1252,1031.1 1252.5,1028.4 1253,1027.7 1253.5,1024.6 1254,1025.0 1254.5,1030.0 1255,1028.2 1255.5,1029.8 1256,1036.2 1256.5,1035.6 1257,1038.1 1257.5,1031.5 1258,1031.1 1258.5,1027.7 1259,1026.6 1259.5,1029.8 1260,1027.3 1260.5,1029.9 1261,1031.8 1261.5,1027.3 1262,1033.8 1262.5,1035.3 1263,1038.1 1263.5,1035.6 1264,1034.0 1264.5,1031.5 1265,1034.3 1265.5,1039.4 1266,1037.0 1266.5,1032.6 1267,1033.9 1267.5,1030.7 1268,1032.5 1268.5,1035.6 1269,1038.8 1269.5,1037.9 1270,1039.6 1270.5,1041.4 1271,1041.3 1271.5,1043.7 1272,1040.4 1272.5,1043.0 1273,1040.5 1273.5,1040.7 1274,1036.2 1274.5,1039.3 1275,1039.3 1275.5,1041.7 1276,1042.6 1276.5,1041.1 1277,1044.8 1277.5,1043.1 1278,1043.9 1278.5,1039.8 1279,1040.8 1279.5,1040.3 1280,1038.1 1280.5,1043.7 1281,1037.9 1281.5,1044.0 1282,1040.7 1282.5,1042.4 1283,1036.7 1283.5,1036.7 1284,1035.2 1284.5,1035.0 1285,1038.8 1285.5,1034.8 1286,1039.5 1286.5,1038.6 1287,1040.3 1287.5,1042.7 1288,1044.3 1288.5,1043.4 1289,1041.4 1289.5,1037.2 1290,1044.1 1290.5,1041.8 1291,1038.0 1291.5,1035.1 1292,1031.6 1292.5,1034.1 1293,1037.6 1293.5,1043.0 1294,1041.5 1294.5,1041.7 1295,1041.9 1295.5,1042.5 1296,1039.9 1296.5,1041.8 1297,1041.4 1297.5,1040.5 1298,1038.2 1298.5,1039.0 1299,1041.3 1299.5,1042.3 1300,1039.2 1300.5,1040.4 1301,1037.8 1301.5,1033.5 1302,1035.3 1302.5,1032.1 1303,1034.3 1303.5,1036.4 1304,1036.7 1304.5,1033.0 1305,1039.6 1305.5,1042.7 1306,1046.3 1306.5,1044.0 1307,1044.7 1307.5,1042.1 1308,1037.3 1308.5,1039.9 1309,1040.8 1309.5,1039.2 1310,1038.2 1310.5,1036.9 1311,1036.7 1311.5,1037.6 1312,1040.8 1312.5,1040.0 1313,1041.1 1313.5,1040.5 1314,1037.6 1314.5,1035.5 1315,1034.5 1315.5,1037.2 1316,1041.2 1316.5,1039.9 1317,1040.6 1317.5,1042.9 1318,1045.7 1318.5,1044.1 1319,1040.8 1319.5,1041.6 1320,1043.4 1320.5,1038.1 1321,1037.7 1321.5,1041.9 1322,1042.5 1322.5,1041.4 1323,1039.1 1323.5,1034.0 1324,1035.0 1324.5,1038.3 1325,1038.9 1325.5,1039.4 1326,1037.6 1326.5,1034.5 1327,1040.4 1327.5,1039.4 1328,1036.6 1328.5,1034.8 1329,1039.5 1329.5,1034.8 1330,1032.5 1330.5,1036.5 1331,1038.7 1331.5,1035.8 1332,1038.6 1332.5,1036.3 1333,1037.0 1333.5,1036.3 1334,1041.3 1334.5,1039.6 1335,1043.8 1335.5,1044.0 1336,1051.3 1336.5,1047.2 1337,1041.8 1337.5,1043.1 1338,1040.6 1338.5,1035.3 1339,1038.1 1339.5,1034.1 1340,1041.0 1340.5,1036.2 1341,1038.6 1341.5,1040.0 1342,1040.1 1342.5,1037.3 1343,1035.4 1343.5,1036.2 1344,1030.5 1344.5,1038.2 1345,1039.3 1345.5,1041.5 1346,1042.6 1346.5,1038.9 1347,1030.6 1347.5,1036.0 1348,1034.5 1348.5,1037.7 1349,1038.4 1349.5,1038.3 1350,1030.8 1350.5,1033.5 1351,1029.4 1351.5,1033.7 1352,1032.1 1352.5,1032.5 1353,1041.2 1353.5,1042.4 1354,1045.1 1354.5,1041.3 1355,1037.5 1355.5,1038.1 1356,1034.4 1356.5,1032.2 1357,1036.9 1357.5,1035.5 1358,1038.7 1358.5,1036.0 1359,1037.8 1359.5,1038.4 1360,1037.6 1360.5,1032.9 1361,1027.4 1361.5,1028.7 1362,1030.1 1362.5,1034.8 1363,1036.8 1363.5,1036.3 1364,1035.6 1364.5,1039.0 1365,1035.7 1365.5,1036.1 1366,1030.4 1366.5,1037.7 1367,1038.0 1367.5,1034.2 1368,1036.8 1368.5,1035.1 1369,1031.8 1369.5,1036.0 1370,1031.5 1370.5,1032.9 1371,1035.1 1371.5,1033.5 1372,1032.2 1372.5,1031.4 1373,1028.7 1373.5,1030.9 1374,1032.1 1374.5,1032.0 1375,1035.1 1375.5,1024.6 1376,1025.5 1376.5,1025.3 1377,1029.6 1377.5,1028.2 1378,1029.9 1378.5,1031.6 1379,1029.6 1379.5,1037.6 1380,1034.5 1380.5,1028.0 1381,1029.4 1381.5,1028.2 1382,1032.3 1382.5,1037.3 1383,1039.5 1383.5,1039.0 1384,1035.4 1384.5,1036.2 1385,1031.6 1385.5,1033.5 1386,1032.6 1386.5,1033.4 1387,1033.2 1387.5,1035.9 1388,1035.0 1388.5,1036.2 1389,1040.6 1389.5,1035.9 1390,1034.8 1390.5,1029.9 1391,1033.9 1391.5,1031.4 1392,1032.5 1392.5,1032.0 1393,1031.6 1393.5,1032.6 1394,1029.7 1394.5,1024.8 1395,1029.9 1395.5,1023.2 1396,1030.6 1396.5,1026.6 1397,1024.7 1397.5,1025.8 1398,1028.5 1398.5,1034.9 1399,1032.0 1399.5,1032.2 1400,1039.7 1400.5,1037.3 1401,1032.8 1401.5,1034.6 1402,1032.3 1402.5,1033.4 1403,1032.3 1403.5,1031.8 1404,1033.6 1404.5,1032.5 1405,1031.0 1405.5,1034.2 1406,1030.1 1406.5,1027.4 1407,1026.1 1407.5,1031.5 1408,1026.3 1408.5,1028.3 1409,1028.2 1409.5,1023.9 1410,1026.9 1410.5,1029.1 1411,1030.1 1411.5,1031.0 1412,1031.2 1412.5,1027.4 1413,1028.4 1413.5,1025.6 1414,1024.5 1414.5,1024.3 1415,1023.9 1415.5,1023.8 1416,1024.3 1416.5,1023.0 1417,1023.0 1417.5,1021.0 1418,1020.5 1418.5,1019.5 1419,1017.4 1419.5,1017.0 1420,1017.6 1420.5,1015.5 1421,1016.0 1421.5,1014.2 1422,1010.8 1422.5,1009.3 1423,1007.2 1423.5,1005.4 1424,1003.0 1424.5,1001.8 1425,999.9 1425.5,998.0 1426,995.5 1426.5,993.1 1427,990.3 1427.5,988.4 1428,986.3 1428.5,984.3 1429,981.5 1429.5,977.5 1430,974.6 1430.5,970.5 1431,966.3 1431.5,962.5 1432,959.0 1432.5,956.6 1433,955.7 1433.5,954.0 1434,951.9 1434.5,950.7 1435,949.8 1435.5,948.1 1436,947.2 1436.5,948.0 1437,944.5 1437.5,944.9 1438,942.4 1438.5,942.6 1439,942.3 1439.5,942.1 1440,941.8 1440.5,941.3 1441,943.0 1441.5,941.1 1442,939.8 1442.5,940.3 1443,939.3 1443.5,936.6 1444,936.9 1444.5,934.6 1445,934.5 1445.5,933.2 1446,934.0 1446.5,933.7 1447,934.0 1447.5,932.4 1448,931.2 1448.5,929.1 1449,930.5 1449.5,930.3 1450,929.5 1450.5,929.0 1451,928.9 1451.5,926.4 1452,928.1 1452.5,928.9 1453,929.2 1453.5,930.6 1454,931.3 1454.5,933.1 1455,932.9 1455.5,934.1 1456,935.8 1456.5,937.7 1457,939.1 1457.5,940.8 1458,942.0 1458.5,943.5 1459,946.3 1459.5,948.9 1460,952.4 1460.5,955.2 1461,958.8 1461.5,962.9 1462,967.2 1462.5,971.5 1463,975.7 1463.5,979.7 1464,983.2 1464.5,987.2 1465,991.2 1465.5,995.2 1466,997.0 1466.5,997.9 1467,999.5 1467.5,999.8 1468,999.5 1468.5,1000.3 1469,1000.5 1469.5,1000.1 1470,1000.8 1470.5,1002.4 1471,1003.2 1471.5,1004.4 1472,1003.3 1472.5,1001.9 1473,1004.1 1473.5,1004.0 1474,1006.0 1474.5,1007.1 1475,1006.0 1475.5,1006.1 1476,1005.4 1476.5,1005.3 1477,1006.2 1477.5,1004.5 1478,1000.9 1478.5,1001.6 1479,1002.4 1479.5,1003.8 1480,1004.7 1480.5,1004.4 1481,1005.5 1481.5,1006.9 1482,1005.8 1482.5,1005.9 1483,1006.9 1483.5,1003.6 1484,1007.3 1484.5,1006.6 1485,1004.4 1485.5,1004.5 1486,1004.3 1486.5,1007.1 1487,1006.9 1487.5,1006.1 1488,1005.8 1488.5,1005.2 1489,1000.9 1489.5,1003.9 1490,1001.4 1490.5,1002.1 1491,1001.4 1491.5,1007.4 1492,1004.3 1492.5,1006.7 1493,1000.9 1493.5,1003.2 1494,1002.1 1494.5,1003.8 1495,998.4 1495.5,1000.3 1496,1003.1 1496.5,1005.6 1497,1012.1 1497.5,1010.2 1498,1008.0 1498.5,1007.3 1499,1003.5 1499.5,1004.6 1500,1008.5 1500.5,1010.4 1501,1006.8 1501.5,1002.5 1502,1003.3 1502.5,1004.7 1503,1005.3 1503.5,1005.4 1504,1007.3 1504.5,1007.6 1505,1006.0 1505.5,1004.2 1506,1001.3 1506.5,1000.0 1507,999.8 1507.5,1001.3 1508,1005.5 1508.5,1007.3 1509,1006.4 1509.5,1005.5 1510,1007.6 1510.5,1008.2 1511,1009.9 1511.5,1008.3 1512,1010.1 1512.5,1009.7 1513,1009.2 1513.5,1009.6 1514,1012.2 1514.5,1010.8 1515,1010.3 1515.5,1008.0 1516,1010.4 1516.5,1011.9 1517,1013.0 1517.5,1013.5 1518,1013.0 1518.5,1013.3 1519,1015.6 1519.5,1014.0 1520,1014.6 1520.5,1013.4 1521,1012.6 1521.5,1012.2 1522,1013.9 1522.5,1016.5 1523,1015.1 1523.5,1014.4 1524,1014.5 1524.5,1017.0 1525,1017.1 1525.5,1015.4 1526,1014.2 1526.5,1018.2 1527,1015.2 1527.5,1016.7 1528,1016.8 1528.5,1018.9 1529,1020.1 1529.5,1017.8 1530,1016.1 1530.5,1020.6 1531,1019.8 1531.5,1018.8 1532,1017.4 1532.5,1020.9 1533,1020.1 1533.5,1019.2 1534,1017.9 1534.5,1021.2 1535,1018.3 1535.5,1020.4 1536,1022.2 1536.5,1023.1 1537,1019.5 1537.5,1020.3 1538,1020.7 1538.5,1021.6 1539,1022.4 1539.5,1023.9 1540,1025.3 1540.5,1024.4 1541,1024.2 1541.5,1022.8 1542,1024.5 1542.5,1021.9 1543,1025.3 1543.5,1027.1 1544,1027.2 1544.5,1029.5 1545,1028.9 1545.5,1024.9 1546,1025.5 1546.5,1027.7 1547,1028.6 1547.5,1029.2 1548,1028.2 1548.5,1026.7 1549,1026.0 1549.5,1028.1 1550,1031.6 1550.5,1028.7 1551,1031.0 1551.5,1028.4 1552,1030.2 1552.5,1030.5 1553,1028.5 1553.5,1030.3 1554,1028.9 1554.5,1030.2 1555,1030.7 1555.5,1033.4 1556,1030.7 1556.5,1030.5 1557,1031.9 1557.5,1030.4 1558,1034.9 1558.5,1034.2 1559,1032.2 1559.5,1031.7" fill="none" stroke="#000000" stroke-width="3.4" stroke-linejoin="round" stroke-linecap="butt"/>
<polyline points="168,864.4 168.5,864.6 169,865.8 169.5,864.2 170,862.9 170.5,863.2 171,865.0 171.5,864.1 172,862.3 172.5,859.2 173,858.1 173.5,857.2 174,860.8 174.5,862.5 175,863.5 175.5,863.0 176,861.7 176.5,863.0 177,864.4 177.5,864.6 178,863.8 178.5,866.6 179,863.3 179.5,863.5 180,866.2 180.5,862.4 181,863.3 181.5,864.4 182,866.1 182.5,866.0 183,864.7 183.5,863.9 184,862.8 184.5,863.2 185,860.6 185.5,860.0 186,858.6 186.5,861.2 187,861.4 187.5,861.9 188,861.8 188.5,863.8 189,865.1 189.5,865.1 190,862.3 190.5,860.0 191,863.0 191.5,864.0 192,865.9 192.5,866.0 193,866.5 193.5,869.0 194,866.3 194.5,865.5 195,865.4 195.5,866.5 196,865.9 196.5,863.2 197,865.4 197.5,865.4 198,863.1 198.5,861.5 199,861.0 199.5,863.2 200,863.5 200.5,862.8 201,864.8 201.5,864.2 202,862.7 202.5,862.0 203,864.0 203.5,864.8 204,867.2 204.5,865.8 205,862.0 205.5,860.2 206,862.6 206.5,862.7 207,862.3 207.5,863.5 208,862.2 208.5,864.2 209,867.7 209.5,864.3 210,864.0 210.5,861.2 211,862.3 211.5,863.3 212,860.3 212.5,864.6 213,863.3 213.5,863.3 214,864.9 214.5,864.7 215,865.0 215.5,863.2 216,863.3 216.5,862.9 217,863.1 217.5,864.7 218,866.2 218.5,866.4 219,867.3 219.5,866.4 220,868.3 220.5,865.6 221,865.9 221.5,867.3 222,865.4 222.5,867.2 223,866.3 223.5,865.9 224,865.7 224.5,866.0 225,867.2 225.5,865.3 226,867.3 226.5,867.1 227,866.0 227.5,865.7 228,865.7 228.5,865.7 229,865.0 229.5,869.4 230,866.2 230.5,865.0 231,866.6 231.5,866.3 232,865.5 232.5,865.2 233,866.5 233.5,866.6 234,865.2 234.5,863.5 235,865.3 235.5,864.1 236,866.8 236.5,869.6 237,870.1 237.5,870.1 238,868.5 238.5,869.7 239,868.4 239.5,867.3 240,865.6 240.5,865.6 241,863.7 241.5,865.0 242,867.9 242.5,869.5 243,868.7 243.5,868.3 244,864.7 244.5,866.5 245,867.1 245.5,867.4 246,868.0 246.5,867.3 247,868.6 247.5,868.9 248,870.9 248.5,870.0 249,869.8 249.5,871.2 250,869.5 250.5,869.3 251,868.7 251.5,869.6 252,869.5 252.5,869.8 253,871.2 253.5,871.9 254,869.5 254.5,867.9 255,868.5 255.5,866.0 256,867.4 256.5,869.4 257,868.3 257.5,871.6 258,872.6 258.5,871.7 259,872.2 259.5,871.0 260,870.5 260.5,870.7 261,870.4 261.5,870.0 262,869.1 262.5,869.8 263,869.5 263.5,868.0 264,868.3 264.5,869.0 265,867.9 265.5,867.6 266,868.0 266.5,867.0 267,868.8 267.5,871.8 268,871.1 268.5,868.4 269,865.0 269.5,866.1 270,865.2 270.5,865.5 271,869.1 271.5,867.3 272,870.7 272.5,870.8 273,869.7 273.5,869.0 274,867.8 274.5,868.8 275,872.7 275.5,870.4 276,873.0 276.5,874.9 277,872.8 277.5,870.1 278,868.3 278.5,867.3 279,867.4 279.5,872.1 280,872.8 280.5,873.4 281,876.1 281.5,872.0 282,870.7 282.5,867.4 283,871.8 283.5,869.1 284,873.1 284.5,873.7 285,872.2 285.5,868.7 286,867.6 286.5,868.3 287,867.1 287.5,870.8 288,870.4 288.5,868.7 289,867.3 289.5,869.6 290,869.3 290.5,870.3 291,872.2 291.5,870.9 292,874.1 292.5,873.1 293,868.2 293.5,869.3 294,870.6 294.5,871.0 295,869.7 295.5,873.0 296,871.2 296.5,868.9 297,868.0 297.5,870.4 298,871.1 298.5,874.8 299,873.2 299.5,873.5 300,874.3 300.5,873.4 301,868.8 301.5,869.7 302,869.9 302.5,874.2 303,876.5 303.5,879.0 304,876.8 304.5,873.6 305,872.0 305.5,873.1 306,876.6 306.5,875.5 307,872.6 307.5,868.7 308,869.7 308.5,871.4 309,874.3 309.5,872.3 310,871.6 310.5,872.3 311,867.5 311.5,871.3 312,869.3 312.5,872.7 313,873.9 313.5,872.9 314,872.2 314.5,873.6 315,874.6 315.5,875.8 316,873.7 316.5,873.5 317,874.0 317.5,873.2 318,871.2 318.5,870.4 319,872.7 319.5,874.7 320,873.2 320.5,878.5 321,876.2 321.5,874.8 322,870.9 322.5,871.3 323,871.1 323.5,873.5 324,877.5 324.5,877.0 325,872.5 325.5,872.6 326,871.4 326.5,871.6 327,875.1 327.5,869.4 328,871.6 328.5,873.1 329,876.5 329.5,877.4 330,878.2 330.5,874.6 331,876.8 331.5,873.4 332,874.1 332.5,875.6 333,878.2 333.5,878.6 334,873.8 334.5,874.9 335,873.4 335.5,872.3 336,874.3 336.5,876.0 337,877.2 337.5,877.1 338,879.6 338.5,874.4 339,873.5 339.5,874.9 340,874.8 340.5,878.3 341,874.0 341.5,876.7 342,877.4 342.5,877.1 343,874.8 343.5,875.0 344,878.8 344.5,875.8 345,871.5 345.5,873.7 346,875.3 346.5,875.6 347,878.3 347.5,877.2 348,879.9 348.5,876.7 349,877.1 349.5,874.9 350,876.5 350.5,875.9 351,874.6 351.5,872.8 352,875.5 352.5,876.7 353,880.5 353.5,880.9 354,878.0 354.5,873.8 355,873.6 355.5,874.4 356,874.0 356.5,873.2 357,873.2 357.5,871.7 358,874.1 358.5,874.7 359,875.0 359.5,878.0 360,877.4 360.5,878.2 361,875.2 361.5,876.3 362,876.7 362.5,877.7 363,877.7 363.5,875.4 364,875.9 364.5,875.6 365,877.7 365.5,875.8 366,876.0 366.5,874.6 367,871.4 367.5,870.9 368,872.0 368.5,874.5 369,873.2 369.5,877.1 370,872.8 370.5,872.2 371,873.4 371.5,873.2 372,874.9 372.5,877.7 373,877.5 373.5,877.2 374,874.1 374.5,875.9 375,874.4 375.5,874.5 376,876.0 376.5,874.6 377,873.5 377.5,872.6 378,875.4 378.5,876.0 379,873.3 379.5,876.0 380,875.1 380.5,872.2 381,869.1 381.5,867.6 382,870.8 382.5,871.7 383,878.8 383.5,879.0 384,878.5 384.5,880.1 385,877.1 385.5,874.8 386,877.0 386.5,878.4 387,877.1 387.5,877.3 388,877.4 388.5,880.1 389,880.0 389.5,877.4 390,877.6 390.5,877.9 391,874.6 391.5,876.5 392,882.6 392.5,884.6 393,885.7 393.5,882.8 394,883.6 394.5,876.1 395,872.4 395.5,874.0 396,871.3 396.5,873.0 397,873.3 397.5,874.0 398,877.2 398.5,879.9 399,879.4 399.5,880.2 400,882.5 400.5,880.9 401,879.5 401.5,878.4 402,877.6 402.5,873.9 403,869.6 403.5,874.9 404,874.8 404.5,874.7 405,880.5 405.5,878.7 406,882.1 406.5,884.1 407,881.9 407.5,881.5 408,880.8 408.5,878.6 409,876.2 409.5,874.8 410,876.6 410.5,878.1 411,876.1 411.5,874.3 412,880.4 412.5,877.0 413,881.4 413.5,882.2 414,880.3 414.5,879.7 415,877.4 415.5,875.6 416,876.3 416.5,877.8 417,877.6 417.5,879.6 418,879.2 418.5,877.5 419,877.8 419.5,873.6 420,875.3 420.5,872.7 421,869.8 421.5,866.8 422,863.1 422.5,858.9 423,856.0 423.5,853.6 424,850.5 424.5,848.9 425,847.8 425.5,845.5 426,843.1 426.5,843.1 427,843.3 427.5,842.8 428,843.8 428.5,843.6 429,840.7 429.5,840.8 430,842.8 430.5,841.6 431,840.7 431.5,840.5 432,843.4 432.5,842.4 433,841.9 433.5,837.4 434,837.3 434.5,838.8 435,839.8 435.5,840.7 436,843.2 436.5,842.5 437,844.0 437.5,844.9 438,846.4 438.5,848.9 439,851.1 439.5,853.1 440,855.1 440.5,856.9 441,857.9 441.5,858.8 442,859.8 442.5,861.0 443,862.2 443.5,862.8 444,866.0 444.5,867.9 445,868.5 445.5,870.6 446,871.3 446.5,871.4 447,871.6 447.5,871.2 448,871.7 448.5,870.2 449,869.8 449.5,869.9 450,867.7 450.5,867.6 451,866.6 451.5,865.6 452,863.9 452.5,867.7 453,866.5 453.5,868.5 454,869.7 454.5,870.8 455,871.8 455.5,870.9 456,868.0 456.5,870.1 457,868.8 457.5,869.6 458,868.7 458.5,867.6 459,867.5 459.5,865.2 460,864.9 460.5,865.3 461,866.6 461.5,867.9 462,868.4 462.5,869.7 463,871.3 463.5,869.5 464,868.9 464.5,868.2 465,869.2 465.5,870.3 466,870.0 466.5,869.3 467,867.6 467.5,868.2 468,867.5 468.5,867.5 469,866.2 469.5,866.1 470,865.8 470.5,868.1 471,869.1 471.5,868.0 472,870.3 472.5,870.3 473,870.1 473.5,869.8 474,869.7 474.5,868.2 475,864.3 475.5,864.2 476,863.6 476.5,863.4 477,863.3 477.5,864.8 478,863.0 478.5,863.0 479,863.1 479.5,864.8 480,863.6 480.5,863.3 481,860.6 481.5,862.6 482,864.0 482.5,865.7 483,864.9 483.5,863.6 484,863.0 484.5,863.3 485,862.7 485.5,861.0 486,859.9 486.5,857.7 487,856.2 487.5,853.3 488,855.4 488.5,855.9 489,854.6 489.5,855.2 490,853.9 490.5,852.0 491,850.3 491.5,850.3 492,849.3 492.5,847.4 493,846.3 493.5,845.4 494,844.9 494.5,842.5 495,841.1 495.5,839.3 496,837.8 496.5,835.5 497,832.3 497.5,826.7 498,818.7 498.5,809.5 499,800.8 499.5,793.3 500,786.2 500.5,779.0 501,772.5 501.5,766.1 502,761.3 502.5,757.5 503,752.7 503.5,749.5 504,746.2 504.5,744.5 505,742.5 505.5,740.1 506,739.8 506.5,737.4 507,736.1 507.5,735.9 508,734.4 508.5,732.5 509,732.1 509.5,731.4 510,732.0 510.5,730.0 511,728.7 511.5,729.5 512,727.8 512.5,726.6 513,724.4 513.5,722.6 514,721.6 514.5,721.0 515,722.0 515.5,720.3 516,720.7 516.5,719.2 517,718.8 517.5,716.6 518,714.9 518.5,714.5 519,714.9 519.5,712.4 520,715.3 520.5,715.1 521,714.1 521.5,715.2 522,716.9 522.5,718.1 523,719.1 523.5,719.7 524,721.5 524.5,722.6 525,724.1 525.5,726.5 526,728.3 526.5,731.4 527,735.5 527.5,738.9 528,743.2 528.5,747.2 529,752.0 529.5,756.7 530,761.7 530.5,766.3 531,769.5 531.5,772.0 532,773.8 532.5,775.0 533,775.6 533.5,777.2 534,778.0 534.5,777.1 535,777.1 535.5,778.0 536,778.3 536.5,781.2 537,782.1 537.5,780.2 538,779.4 538.5,781.6 539,782.0 539.5,782.8 540,783.4 540.5,784.0 541,785.8 541.5,787.4 542,788.6 542.5,790.2 543,790.6 543.5,791.5 544,794.5 544.5,797.1 545,798.9 545.5,799.9 546,801.4 546.5,802.0 547,803.6 547.5,805.4 548,806.7 548.5,808.7 549,808.7 549.5,810.2 550,811.9 550.5,812.9 551,814.6 551.5,815.7 552,817.4 552.5,817.5 553,818.9 553.5,819.8 554,822.8 554.5,823.6 555,825.3 555.5,826.5 556,827.6 556.5,829.8 557,831.4 557.5,832.5 558,834.1 558.5,834.7 559,836.0 559.5,836.4 560,836.7 560.5,837.8 561,838.8 561.5,841.3 562,842.7 562.5,843.0 563,845.0 563.5,846.5 564,846.7 564.5,847.2 565,847.3 565.5,847.7 566,848.5 566.5,849.3 567,852.3 567.5,853.6 568,854.4 568.5,854.8 569,854.3 569.5,855.2 570,853.9 570.5,854.2 571,857.6 571.5,855.6 572,856.9 572.5,855.5 573,858.3 573.5,858.4 574,858.7 574.5,857.7 575,857.1 575.5,857.7 576,858.9 576.5,858.0 577,858.4 577.5,857.8 578,855.7 578.5,854.7 579,855.3 579.5,855.4 580,858.3 580.5,860.8 581,859.7 581.5,857.7 582,859.4 582.5,858.8 583,858.7 583.5,857.2 584,857.3 584.5,856.9 585,856.9 585.5,857.1 586,856.8 586.5,858.1 587,858.2 587.5,860.0 588,860.4 588.5,859.4 589,861.8 589.5,862.2 590,860.3 590.5,860.8 591,858.3 591.5,859.5 592,857.6 592.5,859.1 593,861.9 593.5,862.4 594,861.5 594.5,860.7 595,858.5 595.5,858.6 596,856.9 596.5,857.0 597,855.4 597.5,854.5 598,853.1 598.5,852.2 599,850.7 599.5,847.3 600,846.9 600.5,844.9 601,844.8 601.5,842.5 602,841.1 602.5,839.3 603,838.4 603.5,835.8 604,834.0 604.5,833.1 605,831.5 605.5,829.5 606,827.5 606.5,825.4 607,823.6 607.5,822.3 608,819.3 608.5,816.9 609,814.2 609.5,811.3 610,809.6 610.5,808.8 611,808.2 611.5,807.0 612,804.6 612.5,804.0 613,802.3 613.5,799.9 614,799.7 614.5,798.2 615,798.0 615.5,797.9 616,799.1 616.5,799.2 617,798.9 617.5,796.3 618,795.0 618.5,794.8 619,794.8 619.5,795.1 620,798.9 620.5,798.6 621,797.7 621.5,796.7 622,797.8 622.5,799.4 623,799.7 623.5,799.8 624,799.5 624.5,799.5 625,798.6 625.5,799.2 626,800.0 626.5,800.9 627,802.5 627.5,804.0 628,806.8 628.5,809.9 629,811.7 629.5,813.7 630,815.7 630.5,816.6 631,819.6 631.5,822.4 632,823.0 632.5,825.8 633,827.9 633.5,830.1 634,832.3 634.5,833.8 635,834.3 635.5,836.3 636,837.1 636.5,838.7 637,840.2 637.5,842.5 638,842.0 638.5,842.6 639,843.7 639.5,844.3 640,845.1 640.5,846.7 641,849.1 641.5,848.7 642,848.2 642.5,847.9 643,850.2 643.5,850.3 644,852.5 644.5,852.9 645,853.9 645.5,856.3 646,855.9 646.5,857.1 647,855.8 647.5,857.7 648,856.7 648.5,856.4 649,854.4 649.5,854.6 650,855.0 650.5,855.1 651,855.6 651.5,856.8 652,857.3 652.5,858.1 653,858.8 653.5,859.7 654,861.9 654.5,862.3 655,864.3 655.5,863.3 656,864.2 656.5,864.5 657,865.6 657.5,866.6 658,868.6 658.5,868.6 659,871.2 659.5,870.2 660,870.3 660.5,870.9 661,869.9 661.5,870.3 662,873.3 662.5,871.5 663,875.2 663.5,874.6 664,874.3 664.5,874.7 665,875.0 665.5,872.5 666,873.3 666.5,873.7 667,875.3 667.5,874.1 668,875.2 668.5,874.4 669,875.0 669.5,875.2 670,876.1 670.5,876.3 671,877.6 671.5,877.3 672,875.6 672.5,874.0 673,876.9 673.5,875.8 674,877.8 674.5,877.0 675,876.1 675.5,874.9 676,874.5 676.5,877.4 677,876.2 677.5,874.0 678,874.7 678.5,877.8 679,876.7 679.5,880.0 680,876.9 680.5,876.8 681,877.1 681.5,878.8 682,879.5 682.5,881.1 683,878.5 683.5,878.4 684,878.6 684.5,879.0 685,879.9 685.5,877.2 686,877.3 686.5,877.7 687,877.5 687.5,875.2 688,876.4 688.5,877.0 689,879.0 689.5,879.3 690,878.9 690.5,874.6 691,873.3 691.5,872.9 692,874.9 692.5,874.8 693,872.8 693.5,872.1 694,872.5 694.5,872.1 695,874.2 695.5,872.6 696,869.7 696.5,868.4 697,865.0 697.5,864.0 698,862.3 698.5,859.6 699,858.1 699.5,854.9 700,853.4 700.5,853.8 701,852.4 701.5,850.8 702,849.7 702.5,848.4 703,847.8 703.5,846.7 704,845.6 704.5,843.0 705,841.9 705.5,839.9 706,838.1 706.5,837.4 707,837.8 707.5,836.2 708,835.9 708.5,836.5 709,836.3 709.5,837.7 710,837.2 710.5,836.8 711,833.2 711.5,832.7 712,831.4 712.5,831.8 713,832.1 713.5,831.3 714,831.9 714.5,833.5 715,832.6 715.5,833.6 716,836.5 716.5,835.8 717,836.8 717.5,835.5 718,836.1 718.5,835.4 719,837.7 719.5,839.0 720,840.4 720.5,839.7 721,836.8 721.5,837.8 722,840.1 722.5,839.4 723,838.8 723.5,838.2 724,839.6 724.5,841.8 725,841.6 725.5,843.0 726,842.2 726.5,841.7 727,841.2 727.5,841.8 728,841.3 728.5,837.9 729,839.8 729.5,839.0 730,837.7 730.5,837.8 731,840.4 731.5,840.3 732,837.3 732.5,841.0 733,841.1 733.5,840.2 734,840.1 734.5,838.9 735,840.9 735.5,843.7 736,843.0 736.5,842.4 737,843.3 737.5,843.7 738,844.9 738.5,847.6 739,847.7 739.5,848.6 740,849.9 740.5,851.3 741,851.9 741.5,853.8 742,855.3 742.5,856.9 743,859.7 743.5,860.7 744,862.3 744.5,864.3 745,865.8 745.5,867.6 746,867.8 746.5,869.4 747,869.2 747.5,869.8 748,871.4 748.5,873.5 749,873.9 749.5,875.0 750,876.5 750.5,876.1 751,877.9 751.5,879.3 752,880.0 752.5,878.9 753,878.1 753.5,877.6 754,879.6 754.5,880.4 755,880.4 755.5,880.0 756,881.3 756.5,881.7 757,882.2 757.5,880.9 758,879.8 758.5,879.3 759,878.3 759.5,881.0 760,883.2 760.5,881.5 761,883.1 761.5,882.1 762,881.1 762.5,881.3 763,881.5 763.5,883.2 764,881.1 764.5,881.0 765,878.8 765.5,881.0 766,881.2 766.5,882.4 767,880.6 767.5,879.8 768,880.8 768.5,880.3 769,886.6 769.5,887.2 770,888.6 770.5,885.9 771,883.0 771.5,885.8 772,888.0 772.5,886.4 773,886.2 773.5,886.8 774,885.5 774.5,882.4 775,886.1 775.5,883.9 776,886.5 776.5,885.5 777,886.4 777.5,885.4 778,886.5 778.5,885.4 779,887.4 779.5,885.5 780,878.8 780.5,879.1 781,879.4 781.5,884.4 782,891.6 782.5,888.5 783,889.3 783.5,888.8 784,884.4 784.5,883.5 785,883.1 785.5,884.0 786,884.7 786.5,888.2 787,884.5 787.5,883.1 788,885.2 788.5,885.6 789,886.5 789.5,889.4 790,890.3 790.5,889.1 791,887.9 791.5,882.4 792,884.1 792.5,886.0 793,889.4 793.5,889.8 794,893.0 794.5,892.7 795,890.2 795.5,891.1 796,892.8 796.5,890.7 797,890.9 797.5,892.9 798,890.5 798.5,894.7 799,891.5 799.5,889.6 800,891.9 800.5,890.0 801,889.3 801.5,888.2 802,893.7 802.5,891.3 803,893.1 803.5,889.8 804,891.3 804.5,896.2 805,887.0 805.5,892.9 806,893.5 806.5,893.9 807,895.6 807.5,892.0 808,892.6 808.5,891.7 809,896.8 809.5,890.8 810,894.0 810.5,892.8 811,895.8 811.5,895.0 812,894.7 812.5,897.8 813,890.9 813.5,889.6 814,887.9 814.5,890.3 815,896.3 815.5,894.4 816,896.8 816.5,897.0 817,901.1 817.5,898.1 818,893.6 818.5,887.2 819,891.2 819.5,890.1 820,889.7 820.5,890.5 821,897.5 821.5,891.2 822,888.5 822.5,887.4 823,888.4 823.5,886.3 824,891.1 824.5,898.8 825,895.3 825.5,899.4 826,899.6 826.5,897.2 827,890.6 827.5,895.7 828,890.0 828.5,893.0 829,891.2 829.5,893.0 830,886.6 830.5,888.1 831,893.1 831.5,889.2 832,895.8 832.5,896.5 833,898.5 833.5,896.1 834,893.1 834.5,896.9 835,895.7 835.5,896.4 836,893.8 836.5,890.6 837,892.4 837.5,890.4 838,890.5 838.5,890.9 839,892.3 839.5,888.2 840,894.0 840.5,893.8 841,897.7 841.5,895.9 842,897.6 842.5,892.2 843,887.7 843.5,885.6 844,892.2 844.5,898.8 845,896.6 845.5,892.5 846,893.4 846.5,896.4 847,891.3 847.5,890.5 848,888.7 848.5,889.3 849,890.9 849.5,892.7 850,899.8 850.5,901.3 851,896.1 851.5,889.3 852,891.6 852.5,882.8 853,884.3 853.5,881.9 854,884.9 854.5,889.4 855,891.9 855.5,898.5 856,898.8 856.5,894.5 857,889.0 857.5,889.2 858,891.2 858.5,889.9 859,891.6 859.5,887.2 860,892.0 860.5,890.5 861,893.3 861.5,891.4 862,889.6 862.5,892.4 863,894.7 863.5,891.7 864,886.2 864.5,891.0 865,889.1 865.5,901.6 866,900.1 866.5,895.0 867,889.9 867.5,890.5 868,892.8 868.5,893.6 869,894.6 869.5,895.8 870,898.0 870.5,892.2 871,890.2 871.5,888.6 872,889.9 872.5,886.8 873,887.5 873.5,886.8 874,883.6 874.5,880.1 875,880.4 875.5,888.1 876,884.9 876.5,887.9 877,888.9 877.5,887.6 878,890.9 878.5,892.3 879,886.4 879.5,885.1 880,883.5 880.5,890.0 881,890.9 881.5,891.1 882,887.7 882.5,888.5 883,890.1 883.5,890.4 884,887.6 884.5,888.5 885,893.7 885.5,895.9 886,898.1 886.5,892.7 887,894.8 887.5,893.2 888,890.5 888.5,890.7 889,894.7 889.5,896.5 890,890.1 890.5,891.2 891,890.4 891.5,894.3 892,893.9 892.5,894.2 893,895.9 893.5,893.9 894,892.9 894.5,894.1 895,895.2 895.5,898.2 896,899.6 896.5,901.3 897,903.6 897.5,904.5 898,897.8 898.5,891.8 899,886.6 899.5,887.3 900,886.2 900.5,887.6 901,887.9 901.5,896.4 902,891.1 902.5,893.6 903,890.1 903.5,894.9 904,896.8 904.5,897.4 905,894.9 905.5,892.4 906,892.3 906.5,888.7 907,890.0 907.5,882.1 908,884.5 908.5,885.4 909,888.6 909.5,890.9 910,892.8 910.5,890.3 911,888.4 911.5,890.1 912,889.8 912.5,894.4 913,896.3 913.5,899.8 914,896.8 914.5,890.6 915,892.4 915.5,885.7 916,885.9 916.5,887.9 917,888.5 917.5,893.1 918,890.8 918.5,889.0 919,889.7 919.5,887.4 920,889.8 920.5,890.7 921,891.7 921.5,889.1 922,892.6 922.5,895.3 923,892.5 923.5,889.5 924,886.8 924.5,889.2 925,894.4 925.5,895.4 926,894.9 926.5,898.1 927,898.2 927.5,892.9 928,896.0 928.5,890.8 929,890.3 929.5,889.8 930,889.3 930.5,889.0 931,889.2 931.5,888.6 932,891.3 932.5,891.3 933,893.1 933.5,895.8 934,895.5 934.5,889.5 935,890.4 935.5,890.1 936,891.5 936.5,892.8 937,887.6 937.5,887.7 938,891.7 938.5,891.6 939,891.2 939.5,893.3 940,896.6 940.5,897.9 941,898.5 941.5,897.6 942,893.7 942.5,890.1 943,886.9 943.5,892.5 944,888.8 944.5,894.2 945,895.3 945.5,899.3 946,894.7 946.5,891.8 947,885.5 947.5,891.6 948,892.8 948.5,896.3 949,894.6 949.5,887.9 950,886.5 950.5,889.1 951,883.1 951.5,886.5 952,888.3 952.5,890.9 953,887.6 953.5,885.7 954,884.9 954.5,887.3 955,887.9 955.5,887.4 956,886.0 956.5,886.0 957,887.4 957.5,883.6 958,881.2 958.5,884.7 959,888.6 959.5,885.3 960,886.7 960.5,882.8 961,880.2 961.5,882.5 962,880.4 962.5,883.9 963,885.4 963.5,886.1 964,886.8 964.5,883.2 965,879.2 965.5,879.1 966,880.2 966.5,880.6 967,882.4 967.5,886.0 968,884.9 968.5,883.7 969,880.9 969.5,879.1 970,878.0 970.5,879.9 971,883.5 971.5,882.4 972,883.0 972.5,880.3 973,881.5 973.5,882.6 974,881.6 974.5,882.6 975,883.7 975.5,877.9 976,877.6 976.5,880.8 977,884.2 977.5,882.8 978,877.0 978.5,876.3 979,880.8 979.5,881.6 980,879.1 980.5,883.7 981,880.8 981.5,885.4 982,881.0 982.5,882.2 983,878.5 983.5,881.8 984,886.9 984.5,885.0 985,885.2 985.5,876.2 986,876.4 986.5,876.7 987,875.6 987.5,874.9 988,875.7 988.5,878.6 989,879.4 989.5,881.0 990,883.6 990.5,882.8 991,881.4 991.5,876.9 992,882.1 992.5,880.6 993,881.0 993.5,880.1 994,882.6 994.5,886.5 995,883.6 995.5,886.5 996,887.1 996.5,887.5 997,893.2 997.5,888.5 998,881.3 998.5,879.4 999,886.4 999.5,886.8 1000,885.6 1000.5,885.4 1001,890.7 1001.5,890.4 1002,889.8 1002.5,889.2 1003,889.2 1003.5,895.2 1004,892.8 1004.5,887.2 1005,884.7 1005.5,882.2 1006,886.2 1006.5,882.1 1007,883.8 1007.5,883.8 1008,883.1 1008.5,885.9 1009,888.2 1009.5,887.2 1010,889.9 1010.5,888.0 1011,895.4 1011.5,886.6 1012,886.0 1012.5,887.3 1013,887.7 1013.5,887.8 1014,891.3 1014.5,892.3 1015,887.2 1015.5,886.2 1016,888.8 1016.5,891.2 1017,891.4 1017.5,892.4 1018,893.2 1018.5,888.5 1019,889.7 1019.5,887.9 1020,884.4 1020.5,888.1 1021,894.4 1021.5,892.1 1022,891.0 1022.5,891.0 1023,892.3 1023.5,891.9 1024,888.5 1024.5,889.5 1025,891.9 1025.5,891.3 1026,893.5 1026.5,890.0 1027,890.5 1027.5,894.9 1028,890.2 1028.5,896.7 1029,894.3 1029.5,902.9 1030,899.4 1030.5,896.3 1031,891.0 1031.5,889.8 1032,891.9 1032.5,894.4 1033,887.5 1033.5,888.6 1034,887.4 1034.5,888.9 1035,889.5 1035.5,893.3 1036,893.6 1036.5,889.5 1037,891.8 1037.5,892.2 1038,895.9 1038.5,898.6 1039,904.6 1039.5,902.6 1040,901.0 1040.5,900.9 1041,898.6 1041.5,896.1 1042,896.4 1042.5,896.8 1043,892.6 1043.5,890.7 1044,897.6 1044.5,900.0 1045,901.7 1045.5,904.4 1046,895.2 1046.5,890.2 1047,883.7 1047.5,886.0 1048,886.1 1048.5,891.5 1049,886.9 1049.5,888.2 1050,890.4 1050.5,897.8 1051,899.3 1051.5,901.2 1052,898.4 1052.5,895.4 1053,894.9 1053.5,892.2 1054,889.8 1054.5,893.8 1055,898.7 1055.5,900.1 1056,897.9 1056.5,891.3 1057,891.0 1057.5,891.9 1058,898.3 1058.5,894.1 1059,896.5 1059.5,895.2 1060,894.5 1060.5,893.8 1061,893.4 1061.5,887.9 1062,887.7 1062.5,884.6 1063,891.8 1063.5,893.4 1064,897.7 1064.5,894.3 1065,893.4 1065.5,897.0 1066,892.9 1066.5,891.0 1067,890.5 1067.5,891.0 1068,892.2 1068.5,889.6 1069,891.7 1069.5,890.2 1070,890.1 1070.5,892.0 1071,895.2 1071.5,897.7 1072,895.6 1072.5,890.9 1073,894.0 1073.5,892.9 1074,890.8 1074.5,890.9 1075,893.0 1075.5,892.8 1076,897.7 1076.5,898.1 1077,895.0 1077.5,895.2 1078,894.4 1078.5,893.1 1079,893.2 1079.5,888.9 1080,890.8 1080.5,892.2 1081,885.3 1081.5,891.4 1082,894.3 1082.5,894.4 1083,892.9 1083.5,897.3 1084,893.3 1084.5,896.1 1085,893.0 1085.5,895.1 1086,900.6 1086.5,902.1 1087,900.3 1087.5,892.8 1088,892.3 1088.5,894.1 1089,894.5 1089.5,897.0 1090,893.8 1090.5,894.5 1091,891.7 1091.5,894.0 1092,893.0 1092.5,895.7 1093,894.2 1093.5,892.6 1094,889.9 1094.5,885.7 1095,886.2 1095.5,886.0 1096,885.6 1096.5,888.9 1097,888.5 1097.5,886.9 1098,888.7 1098.5,889.0 1099,896.8 1099.5,897.5 1100,895.8 1100.5,895.6 1101,900.8 1101.5,901.8 1102,900.9 1102.5,898.7 1103,897.6 1103.5,893.2 1104,895.0 1104.5,893.5 1105,888.8 1105.5,889.9 1106,889.0 1106.5,893.9 1107,892.2 1107.5,895.1 1108,890.2 1108.5,888.3 1109,893.8 1109.5,893.5 1110,893.2 1110.5,893.9 1111,898.6 1111.5,899.7 1112,894.5 1112.5,895.8 1113,893.0 1113.5,895.1 1114,892.5 1114.5,891.2 1115,891.1 1115.5,893.4 1116,902.7 1116.5,898.3 1117,898.0 1117.5,895.3 1118,894.5 1118.5,895.1 1119,897.2 1119.5,891.3 1120,892.0 1120.5,894.1 1121,897.3 1121.5,898.9 1122,896.2 1122.5,897.5 1123,893.7 1123.5,889.6 1124,891.5 1124.5,888.5 1125,892.3 1125.5,892.6 1126,889.8 1126.5,887.6 1127,896.0 1127.5,893.0 1128,890.6 1128.5,883.5 1129,888.7 1129.5,885.4 1130,887.1 1130.5,887.9 1131,890.6 1131.5,892.9 1132,892.5 1132.5,887.7 1133,890.5 1133.5,891.0 1134,888.0 1134.5,888.6 1135,888.1 1135.5,894.8 1136,890.0 1136.5,888.3 1137,886.6 1137.5,886.6 1138,887.4 1138.5,889.8 1139,889.8 1139.5,892.0 1140,894.8 1140.5,890.0 1141,894.5 1141.5,894.4 1142,890.4 1142.5,894.0 1143,888.1 1143.5,891.7 1144,892.3 1144.5,898.5 1145,896.2 1145.5,899.5 1146,895.1 1146.5,895.2 1147,892.1 1147.5,889.7 1148,890.3 1148.5,889.0 1149,888.4 1149.5,888.2 1150,882.8 1150.5,886.1 1151,886.5 1151.5,887.2 1152,892.0 1152.5,888.0 1153,885.4 1153.5,882.2 1154,883.6 1154.5,884.9 1155,888.5 1155.5,883.4 1156,880.9 1156.5,881.0 1157,882.2 1157.5,883.5 1158,888.2 1158.5,888.7 1159,892.2 1159.5,890.6 1160,892.0 1160.5,888.8 1161,889.5 1161.5,890.7 1162,888.9 1162.5,892.2 1163,890.1 1163.5,888.6 1164,884.6 1164.5,883.4 1165,885.3 1165.5,888.3 1166,886.8 1166.5,888.1 1167,886.1 1167.5,884.0 1168,888.7 1168.5,890.1 1169,886.6 1169.5,886.6 1170,880.3 1170.5,880.1 1171,879.8 1171.5,878.2 1172,875.9 1172.5,875.2 1173,881.1 1173.5,876.9 1174,878.5 1174.5,879.2 1175,880.1 1175.5,882.9 1176,880.5 1176.5,876.2 1177,877.1 1177.5,873.8 1178,872.9 1178.5,875.7 1179,878.6 1179.5,876.2 1180,873.2 1180.5,879.1 1181,877.3 1181.5,875.5 1182,872.5 1182.5,869.0 1183,868.7 1183.5,874.7 1184,878.2 1184.5,876.0 1185,877.1 1185.5,874.9 1186,877.3 1186.5,877.1 1187,876.0 1187.5,874.0 1188,876.7 1188.5,879.8 1189,876.8 1189.5,876.2 1190,873.2 1190.5,870.6 1191,866.8 1191.5,872.1 1192,876.8 1192.5,876.3 1193,875.4 1193.5,872.4 1194,872.8 1194.5,873.6 1195,879.3 1195.5,881.5 1196,883.2 1196.5,879.9 1197,875.8 1197.5,874.4 1198,872.1 1198.5,869.5 1199,870.5 1199.5,872.8 1200,879.6 1200.5,876.3 1201,874.7 1201.5,874.9 1202,873.3 1202.5,875.3 1203,880.0 1203.5,878.1 1204,882.7 1204.5,878.5 1205,879.5 1205.5,879.0 1206,882.4 1206.5,880.3 1207,881.4 1207.5,882.0 1208,882.6 1208.5,882.2 1209,885.9 1209.5,887.8 1210,887.2 1210.5,885.8 1211,886.2 1211.5,886.3 1212,885.0 1212.5,879.5 1213,879.4 1213.5,878.3 1214,880.4 1214.5,888.0 1215,886.8 1215.5,891.1 1216,886.6 1216.5,893.7 1217,887.3 1217.5,889.4 1218,888.4 1218.5,885.0 1219,883.0 1219.5,888.8 1220,888.7 1220.5,890.4 1221,886.0 1221.5,886.1 1222,886.2 1222.5,888.2 1223,886.7 1223.5,884.8 1224,884.2 1224.5,881.0 1225,884.0 1225.5,886.4 1226,887.2 1226.5,889.8 1227,891.2 1227.5,893.4 1228,885.2 1228.5,885.4 1229,882.4 1229.5,887.1 1230,886.3 1230.5,890.0 1231,888.3 1231.5,888.1 1232,883.6 1232.5,885.7 1233,882.3 1233.5,878.1 1234,883.1 1234.5,883.2 1235,884.0 1235.5,891.1 1236,889.1 1236.5,882.7 1237,883.2 1237.5,883.3 1238,883.1 1238.5,882.3 1239,885.6 1239.5,880.4 1240,879.3 1240.5,884.4 1241,884.4 1241.5,881.7 1242,880.0 1242.5,881.6 1243,883.5 1243.5,882.3 1244,883.5 1244.5,884.9 1245,880.6 1245.5,888.5 1246,887.5 1246.5,889.6 1247,888.2 1247.5,886.1 1248,888.6 1248.5,890.0 1249,893.7 1249.5,895.6 1250,890.8 1250.5,891.4 1251,889.4 1251.5,891.0 1252,894.0 1252.5,893.8 1253,894.6 1253.5,896.7 1254,894.6 1254.5,899.3 1255,894.1 1255.5,895.8 1256,894.9 1256.5,896.2 1257,899.1 1257.5,893.7 1258,895.2 1258.5,892.7 1259,892.5 1259.5,891.7 1260,889.9 1260.5,894.6 1261,900.7 1261.5,898.1 1262,893.7 1262.5,893.2 1263,892.9 1263.5,889.6 1264,892.4 1264.5,892.7 1265,896.8 1265.5,894.2 1266,896.1 1266.5,894.0 1267,890.2 1267.5,894.3 1268,892.9 1268.5,894.7 1269,893.1 1269.5,893.7 1270,891.5 1270.5,893.8 1271,895.8 1271.5,895.0 1272,899.1 1272.5,898.7 1273,900.6 1273.5,894.4 1274,893.1 1274.5,890.7 1275,890.3 1275.5,891.2 1276,897.2 1276.5,903.2 1277,897.0 1277.5,896.9 1278,892.3 1278.5,889.8 1279,891.1 1279.5,893.4 1280,892.6 1280.5,890.9 1281,888.0 1281.5,882.8 1282,878.5 1282.5,880.4 1283,886.6 1283.5,886.8 1284,886.6 1284.5,886.0 1285,891.2 1285.5,885.5 1286,892.3 1286.5,892.3 1287,895.8 1287.5,894.1 1288,895.6 1288.5,890.9 1289,891.0 1289.5,892.9 1290,896.7 1290.5,894.6 1291,891.0 1291.5,894.6 1292,895.4 1292.5,898.7 1293,888.9 1293.5,890.9 1294,892.7 1294.5,889.4 1295,890.0 1295.5,886.8 1296,886.4 1296.5,894.0 1297,894.4 1297.5,896.2 1298,895.9 1298.5,896.7 1299,890.8 1299.5,892.6 1300,890.0 1300.5,889.1 1301,888.5 1301.5,892.8 1302,887.7 1302.5,888.2 1303,893.3 1303.5,889.1 1304,894.2 1304.5,890.4 1305,894.6 1305.5,892.3 1306,891.3 1306.5,894.6 1307,894.2 1307.5,890.5 1308,888.7 1308.5,889.6 1309,894.0 1309.5,898.5 1310,897.6 1310.5,897.8 1311,891.5 1311.5,884.5 1312,885.8 1312.5,889.5 1313,894.8 1313.5,895.9 1314,900.7 1314.5,900.2 1315,894.9 1315.5,894.3 1316,893.3 1316.5,893.9 1317,891.9 1317.5,889.9 1318,893.0 1318.5,887.8 1319,888.0 1319.5,894.5 1320,891.3 1320.5,887.6 1321,890.1 1321.5,887.7 1322,892.1 1322.5,893.7 1323,899.5 1323.5,896.2 1324,899.3 1324.5,896.1 1325,892.3 1325.5,894.8 1326,896.5 1326.5,896.8 1327,892.0 1327.5,891.5 1328,890.8 1328.5,891.5 1329,894.6 1329.5,889.8 1330,893.8 1330.5,894.1 1331,892.9 1331.5,890.5 1332,886.8 1332.5,890.4 1333,892.1 1333.5,892.6 1334,896.3 1334.5,894.2 1335,891.8 1335.5,893.1 1336,892.7 1336.5,885.6 1337,890.4 1337.5,891.4 1338,889.2 1338.5,888.7 1339,887.9 1339.5,887.2 1340,893.2 1340.5,893.9 1341,892.0 1341.5,893.9 1342,897.2 1342.5,899.6 1343,894.4 1343.5,893.9 1344,890.0 1344.5,890.4 1345,891.8 1345.5,889.6 1346,892.3 1346.5,897.2 1347,897.7 1347.5,892.1 1348,890.1 1348.5,889.6 1349,887.5 1349.5,889.1 1350,888.6 1350.5,890.2 1351,891.7 1351.5,895.3 1352,897.6 1352.5,893.7 1353,889.0 1353.5,886.4 1354,886.5 1354.5,889.0 1355,895.8 1355.5,895.8 1356,895.9 1356.5,893.5 1357,891.4 1357.5,893.9 1358,895.1 1358.5,895.5 1359,895.2 1359.5,888.9 1360,891.0 1360.5,895.7 1361,896.9 1361.5,892.9 1362,894.8 1362.5,885.5 1363,882.9 1363.5,877.3 1364,881.8 1364.5,888.2 1365,891.0 1365.5,897.5 1366,897.2 1366.5,889.8 1367,889.6 1367.5,888.3 1368,889.0 1368.5,893.5 1369,893.7 1369.5,895.9 1370,890.7 1370.5,891.8 1371,891.6 1371.5,895.6 1372,891.3 1372.5,886.8 1373,888.9 1373.5,885.6 1374,888.2 1374.5,890.6 1375,891.2 1375.5,893.2 1376,894.2 1376.5,891.4 1377,888.3 1377.5,887.4 1378,892.0 1378.5,891.6 1379,892.7 1379.5,886.9 1380,883.7 1380.5,886.6 1381,885.1 1381.5,889.6 1382,890.2 1382.5,890.7 1383,887.8 1383.5,888.0 1384,886.7 1384.5,891.0 1385,886.0 1385.5,890.6 1386,889.8 1386.5,890.7 1387,890.2 1387.5,891.8 1388,888.4 1388.5,889.1 1389,886.8 1389.5,886.8 1390,885.6 1390.5,885.3 1391,882.2 1391.5,882.4 1392,885.3 1392.5,891.3 1393,891.9 1393.5,893.3 1394,894.0 1394.5,893.3 1395,887.8 1395.5,888.5 1396,887.5 1396.5,886.9 1397,888.3 1397.5,886.7 1398,885.2 1398.5,883.8 1399,881.7 1399.5,885.8 1400,888.1 1400.5,889.1 1401,888.5 1401.5,887.8 1402,889.0 1402.5,883.1 1403,884.4 1403.5,882.4 1404,885.2 1404.5,885.4 1405,885.1 1405.5,888.7 1406,890.3 1406.5,886.3 1407,886.3 1407.5,881.3 1408,880.9 1408.5,874.2 1409,872.0 1409.5,876.1 1410,882.1 1410.5,888.9 1411,890.6 1411.5,886.4 1412,887.0 1412.5,884.5 1413,884.6 1413.5,885.1 1414,883.7 1414.5,882.2 1415,881.4 1415.5,879.4 1416,876.7 1416.5,874.7 1417,872.5 1417.5,869.6 1418,867.2 1418.5,863.3 1419,859.8 1419.5,855.8 1420,852.3 1420.5,849.8 1421,846.7 1421.5,845.1 1422,845.1 1422.5,844.5 1423,844.2 1423.5,841.2 1424,841.0 1424.5,840.2 1425,841.4 1425.5,839.2 1426,839.7 1426.5,839.2 1427,838.9 1427.5,837.3 1428,837.8 1428.5,838.1 1429,835.5 1429.5,834.9 1430,835.3 1430.5,835.9 1431,833.5 1431.5,835.6 1432,834.6 1432.5,835.2 1433,836.0 1433.5,836.3 1434,833.9 1434.5,831.9 1435,828.0 1435.5,824.9 1436,822.1 1436.5,819.0 1437,816.0 1437.5,814.5 1438,812.6 1438.5,811.6 1439,809.2 1439.5,807.4 1440,804.1 1440.5,804.3 1441,801.9 1441.5,801.4 1442,803.5 1442.5,805.2 1443,806.2 1443.5,806.8 1444,809.2 1444.5,810.8 1445,813.3 1445.5,815.3 1446,817.0 1446.5,818.3 1447,821.4 1447.5,823.6 1448,827.4 1448.5,830.5 1449,834.1 1449.5,836.3 1450,839.4 1450.5,842.5 1451,845.7 1451.5,849.1 1452,851.8 1452.5,854.8 1453,857.8 1453.5,859.4 1454,860.9 1454.5,862.6 1455,863.6 1455.5,865.1 1456,864.7 1456.5,866.3 1457,868.5 1457.5,870.5 1458,869.3 1458.5,868.3 1459,870.8 1459.5,871.7 1460,873.7 1460.5,872.8 1461,873.7 1461.5,871.4 1462,870.2 1462.5,872.2 1463,874.0 1463.5,876.0 1464,877.8 1464.5,877.7 1465,880.4 1465.5,882.2 1466,877.1 1466.5,874.9 1467,871.3 1467.5,874.9 1468,875.2 1468.5,879.0 1469,883.5 1469.5,883.5 1470,881.7 1470.5,877.6 1471,874.6 1471.5,876.3 1472,877.0 1472.5,878.3 1473,880.0 1473.5,877.1 1474,874.7 1474.5,875.1 1475,875.5 1475.5,879.7 1476,879.3 1476.5,881.0 1477,881.4 1477.5,879.8 1478,881.9 1478.5,878.9 1479,881.7 1479.5,880.1 1480,875.4 1480.5,872.7 1481,876.0 1481.5,875.8 1482,882.2 1482.5,879.5 1483,880.6 1483.5,879.2 1484,884.8 1484.5,881.8 1485,877.2 1485.5,874.6 1486,879.3 1486.5,878.6 1487,878.6 1487.5,882.1 1488,875.4 1488.5,872.5 1489,872.8 1489.5,875.9 1490,878.6 1490.5,877.9 1491,881.1 1491.5,881.0 1492,880.2 1492.5,875.8 1493,877.3 1493.5,873.0 1494,873.7 1494.5,874.4 1495,873.3 1495.5,879.0 1496,875.9 1496.5,877.4 1497,877.0 1497.5,880.6 1498,881.6 1498.5,883.2 1499,879.9 1499.5,877.0 1500,879.3 1500.5,880.2 1501,881.7 1501.5,882.3 1502,879.9 1502.5,884.6 1503,884.4 1503.5,880.7 1504,883.3 1504.5,880.9 1505,882.7 1505.5,878.6 1506,881.8 1506.5,881.6 1507,880.4 1507.5,881.6 1508,883.8 1508.5,885.4 1509,888.9 1509.5,885.5 1510,882.9 1510.5,884.6 1511,881.8 1511.5,881.4 1512,883.1 1512.5,880.7 1513,882.5 1513.5,881.4 1514,881.4 1514.5,880.0 1515,880.1 1515.5,879.3 1516,885.1 1516.5,885.7 1517,885.7 1517.5,883.1 1518,885.2 1518.5,889.8 1519,886.2 1519.5,885.6 1520,881.0 1520.5,880.6 1521,881.5 1521.5,879.8 1522,880.0 1522.5,878.4 1523,881.6 1523.5,882.3 1524,886.9 1524.5,880.8 1525,881.4 1525.5,879.9 1526,878.2 1526.5,881.8 1527,881.9 1527.5,880.8 1528,877.6 1528.5,877.6 1529,879.0 1529.5,880.8 1530,882.1 1530.5,881.6 1531,882.9 1531.5,882.5 1532,886.1 1532.5,891.7 1533,890.4 1533.5,887.3 1534,886.2 1534.5,886.2 1535,883.6 1535.5,885.1 1536,882.7 1536.5,883.1 1537,883.1 1537.5,888.1 1538,890.1 1538.5,887.5 1539,886.1 1539.5,887.3 1540,889.0 1540.5,890.3 1541,891.6 1541.5,888.3 1542,889.8 1542.5,889.1 1543,889.8 1543.5,887.9 1544,891.5 1544.5,891.3 1545,890.3 1545.5,888.9 1546,891.6 1546.5,889.7 1547,889.8 1547.5,890.0 1548,890.1 1548.5,887.9 1549,886.4 1549.5,884.3 1550,886.4 1550.5,889.5 1551,889.1 1551.5,888.5 1552,890.6 1552.5,892.2 1553,891.1 1553.5,888.1 1554,889.7 1554.5,890.5 1555,890.7 1555.5,888.9 1556,888.9 1556.5,888.6 1557,883.4 1557.5,888.1 1558,887.4 1558.5,887.0 1559,886.8 1559.5,885.5" fill="none" stroke="#000000" stroke-width="3.4" stroke-linejoin="round" stroke-linecap="butt"/>
<polyline points="168,741.3 168.5,742.3 169,743.2 169.5,741.8 170,742.6 170.5,741.7 171,740.6 171.5,739.4 172,741.8 172.5,743.0 173,741.5 173.5,742.4 174,743.5 174.5,742.1 175,738.9 175.5,737.8 176,737.1 176.5,739.8 177,740.3 177.5,740.2 178,740.9 178.5,741.6 179,737.8 179.5,738.1 180,738.3 180.5,737.3 181,738.4 181.5,741.8 182,740.5 182.5,741.1 183,740.6 183.5,740.8 184,743.5 184.5,740.2 185,738.1 185.5,742.2 186,739.0 186.5,739.4 187,741.7 187.5,741.8 188,741.3 188.5,741.2 189,737.4 189.5,739.3 190,736.5 190.5,737.8 191,738.3 191.5,739.8 192,741.8 192.5,740.9 193,742.8 193.5,742.8 194,743.2 194.5,739.6 195,741.4 195.5,739.0 196,742.0 196.5,740.7 197,741.6 197.5,739.9 198,740.1 198.5,740.9 199,739.6 199.5,740.5 200,739.0 200.5,739.4 201,741.5 201.5,741.4 202,740.2 202.5,740.0 203,741.7 203.5,741.7 204,740.8 204.5,741.0 205,741.1 205.5,741.6 206,743.6 206.5,743.8 207,744.1 207.5,743.0 208,739.7 208.5,742.4 209,741.9 209.5,742.7 210,745.8 210.5,744.5 211,744.4 211.5,742.9 212,744.1 212.5,741.7 213,742.6 213.5,743.2 214,742.5 214.5,742.7 215,743.0 215.5,745.3 216,740.8 216.5,739.6 217,742.0 217.5,742.3 218,741.0 218.5,740.0 219,741.8 219.5,741.9 220,740.4 220.5,741.7 221,740.7 221.5,742.6 222,743.8 222.5,743.0 223,742.2 223.5,740.9 224,741.8 224.5,741.8 225,742.2 225.5,741.8 226,742.9 226.5,744.1 227,745.9 227.5,746.7 228,749.3 228.5,744.2 229,744.6 229.5,741.7 230,744.0 230.5,743.3 231,742.4 231.5,741.1 232,740.2 232.5,742.1 233,743.0 233.5,742.4 234,744.8 234.5,740.0 235,741.2 235.5,742.2 236,743.9 236.5,741.6 237,744.2 237.5,743.7 238,745.6 238.5,745.0 239,740.7 239.5,740.6 240,741.0 240.5,741.2 241,740.7 241.5,739.9 242,743.9 242.5,740.7 243,743.2 243.5,739.2 244,738.6 244.5,741.0 245,741.7 245.5,741.9 246,744.5 246.5,742.3 247,742.3 247.5,742.5 248,745.5 248.5,745.5 249,745.4 249.5,744.6 250,743.3 250.5,743.7 251,742.8 251.5,741.9 252,741.8 252.5,739.8 253,741.8 253.5,740.6 254,739.4 254.5,741.4 255,741.5 255.5,741.6 256,747.2 256.5,743.6 257,743.3 257.5,743.3 258,744.3 258.5,743.5 259,742.8 259.5,742.6 260,746.2 260.5,746.3 261,746.0 261.5,742.4 262,740.1 262.5,740.9 263,742.1 263.5,741.0 264,740.8 264.5,744.3 265,742.2 265.5,740.7 266,740.5 266.5,744.5 267,744.5 267.5,742.6 268,742.5 268.5,745.6 269,744.4 269.5,744.3 270,744.0 270.5,744.7 271,743.3 271.5,746.7 272,744.6 272.5,748.5 273,750.6 273.5,750.8 274,749.2 274.5,750.6 275,746.4 275.5,744.4 276,743.1 276.5,739.6 277,742.5 277.5,744.0 278,746.8 278.5,748.7 279,748.4 279.5,746.5 280,747.1 280.5,745.1 281,748.0 281.5,748.5 282,747.7 282.5,748.0 283,748.5 283.5,747.6 284,747.5 284.5,744.8 285,745.3 285.5,746.7 286,743.9 286.5,746.4 287,747.1 287.5,748.9 288,752.4 288.5,751.4 289,748.7 289.5,750.5 290,748.1 290.5,747.8 291,746.0 291.5,747.7 292,747.4 292.5,748.8 293,749.1 293.5,745.7 294,747.2 294.5,749.6 295,748.4 295.5,747.4 296,745.0 296.5,745.4 297,746.8 297.5,749.9 298,748.1 298.5,746.9 299,748.9 299.5,750.0 300,744.2 300.5,743.5 301,745.6 301.5,745.7 302,746.0 302.5,745.6 303,747.7 303.5,750.1 304,749.5 304.5,751.6 305,752.8 305.5,748.0 306,748.5 306.5,747.3 307,745.7 307.5,748.7 308,749.2 308.5,749.1 309,750.5 309.5,746.6 310,745.0 310.5,748.9 311,748.2 311.5,746.1 312,745.6 312.5,748.5 313,746.3 313.5,747.5 314,747.8 314.5,746.9 315,743.6 315.5,743.5 316,740.9 316.5,741.6 317,745.2 317.5,744.2 318,742.1 318.5,743.0 319,740.9 319.5,743.3 320,742.6 320.5,745.1 321,739.7 321.5,740.5 322,735.9 322.5,735.8 323,739.1 323.5,741.8 324,739.2 324.5,742.0 325,739.8 325.5,739.1 326,740.3 326.5,743.6 327,744.6 327.5,744.5 328,744.6 328.5,741.8 329,741.9 329.5,742.7 330,742.7 330.5,742.7 331,744.2 331.5,744.1 332,742.2 332.5,746.8 333,748.7 333.5,751.8 334,750.3 334.5,749.5 335,749.8 335.5,750.7 336,751.3 336.5,751.6 337,755.1 337.5,751.0 338,752.3 338.5,750.1 339,748.7 339.5,745.4 340,743.5 340.5,744.9 341,752.3 341.5,754.4 342,753.5 342.5,753.3 343,753.2 343.5,755.9 344,756.9 344.5,759.2 345,758.2 345.5,755.3 346,753.6 346.5,751.7 347,753.3 347.5,753.2 348,750.4 348.5,749.7 349,749.1 349.5,750.5 350,754.9 350.5,752.5 351,752.8 351.5,750.4 352,749.3 352.5,745.2 353,746.9 353.5,750.0 354,752.9 354.5,753.8 355,753.9 355.5,754.9 356,752.2 356.5,753.5 357,753.7 357.5,751.7 358,754.0 358.5,751.1 359,751.6 359.5,750.1 360,747.7 360.5,750.5 361,753.8 361.5,751.5 362,752.7 362.5,753.6 363,751.7 363.5,750.8 364,748.6 364.5,751.2 365,751.2 365.5,753.6 366,755.1 366.5,755.3 367,753.6 367.5,750.1 368,752.1 368.5,751.7 369,751.0 369.5,748.5 370,749.1 370.5,750.4 371,755.7 371.5,752.5 372,751.9 372.5,752.4 373,755.4 373.5,750.7 374,750.3 374.5,748.4 375,744.4 375.5,749.2 376,747.9 376.5,750.5 377,752.0 377.5,747.6 378,753.6 378.5,757.2 379,758.2 379.5,757.8 380,753.4 380.5,750.3 381,753.3 381.5,754.0 382,750.1 382.5,755.6 383,757.0 383.5,756.0 384,752.0 384.5,751.0 385,753.5 385.5,750.0 386,750.2 386.5,751.9 387,749.7 387.5,753.3 388,750.9 388.5,754.0 389,752.6 389.5,753.7 390,755.2 390.5,751.2 391,749.9 391.5,752.5 392,753.0 392.5,751.9 393,755.7 393.5,754.9 394,755.4 394.5,751.7 395,756.2 395.5,749.8 396,751.5 396.5,754.8 397,752.9 397.5,748.8 398,746.1 398.5,749.1 399,751.6 399.5,756.0 400,752.0 400.5,753.7 401,752.5 401.5,751.2 402,749.2 402.5,750.2 403,750.8 403.5,756.1 404,755.7 404.5,754.9 405,753.2 405.5,752.7 406,749.2 406.5,744.4 407,746.7 407.5,746.4 408,749.6 408.5,753.4 409,755.4 409.5,755.8 410,756.9 410.5,754.5 411,754.6 411.5,754.8 412,751.8 412.5,753.0 413,753.4 413.5,749.0 414,747.6 414.5,753.6 415,751.1 415.5,749.9 416,749.0 416.5,750.4 417,751.1 417.5,753.2 418,750.8 418.5,754.0 419,746.6 419.5,750.6 420,749.7 420.5,743.9 421,749.0 421.5,749.0 422,749.4 422.5,752.0 423,752.0 423.5,749.1 424,748.6 424.5,751.6 425,750.9 425.5,753.5 426,752.0 426.5,752.3 427,748.0 427.5,747.2 428,748.8 428.5,747.4 429,745.1 429.5,744.8 430,742.8 430.5,741.5 431,739.6 431.5,735.0 432,728.2 432.5,720.8 433,714.2 433.5,708.3 434,702.2 434.5,696.4 435,693.8 435.5,693.2 436,696.6 436.5,699.7 437,700.6 437.5,700.7 438,701.1 438.5,700.8 439,701.4 439.5,700.3 440,700.8 440.5,700.2 441,699.7 441.5,695.3 442,694.3 442.5,694.7 443,694.3 443.5,693.6 444,692.5 444.5,692.2 445,692.1 445.5,692.6 446,690.5 446.5,690.1 447,689.6 447.5,691.6 448,691.9 448.5,692.8 449,693.8 449.5,696.0 450,697.5 450.5,698.8 451,700.3 451.5,701.5 452,704.0 452.5,705.8 453,708.6 453.5,712.1 454,715.3 454.5,718.1 455,720.4 455.5,722.1 456,723.1 456.5,723.4 457,724.7 457.5,726.5 458,726.3 458.5,726.0 459,726.6 459.5,727.7 460,727.5 460.5,730.3 461,730.6 461.5,731.1 462,731.4 462.5,731.8 463,731.4 463.5,732.7 464,732.4 464.5,734.3 465,735.1 465.5,733.5 466,732.1 466.5,731.2 467,730.8 467.5,732.7 468,733.5 468.5,734.7 469,732.2 469.5,735.5 470,733.2 470.5,736.0 471,734.5 471.5,733.8 472,731.5 472.5,732.9 473,734.5 473.5,736.4 474,736.1 474.5,735.4 475,733.1 475.5,732.4 476,734.1 476.5,733.1 477,734.0 477.5,732.2 478,732.3 478.5,729.2 479,728.2 479.5,726.3 480,726.7 480.5,728.7 481,727.8 481.5,727.8 482,728.1 482.5,729.5 483,728.7 483.5,727.8 484,727.6 484.5,728.8 485,728.5 485.5,726.7 486,728.8 486.5,728.0 487,726.9 487.5,726.4 488,725.8 488.5,724.6 489,723.4 489.5,722.8 490,721.6 490.5,723.3 491,721.4 491.5,724.1 492,725.1 492.5,724.8 493,722.5 493.5,722.0 494,723.6 494.5,724.6 495,723.7 495.5,722.7 496,722.9 496.5,723.3 497,721.5 497.5,722.8 498,718.3 498.5,719.8 499,720.8 499.5,718.3 500,721.3 500.5,720.5 501,719.2 501.5,716.9 502,716.4 502.5,714.8 503,716.2 503.5,715.3 504,713.7 504.5,713.3 505,711.7 505.5,710.3 506,708.1 506.5,705.5 507,702.3 507.5,701.1 508,698.8 508.5,696.1 509,694.1 509.5,692.0 510,688.6 510.5,685.0 511,681.1 511.5,677.8 512,672.9 512.5,665.9 513,657.7 513.5,649.4 514,641.7 514.5,635.1 515,628.8 515.5,622.3 516,616.7 516.5,611.9 517,608.5 517.5,605.5 518,602.6 518.5,600.0 519,598.2 519.5,596.0 520,592.4 520.5,591.4 521,591.2 521.5,589.0 522,587.0 522.5,587.4 523,585.1 523.5,585.2 524,585.0 524.5,585.7 525,585.3 525.5,584.4 526,585.6 526.5,585.5 527,582.0 527.5,579.5 528,577.6 528.5,576.0 529,577.7 529.5,578.5 530,578.2 530.5,577.5 531,577.3 531.5,577.0 532,576.1 532.5,575.9 533,575.0 533.5,576.6 534,576.4 534.5,576.3 535,575.8 535.5,578.1 536,578.6 536.5,579.6 537,580.2 537.5,581.8 538,581.0 538.5,581.8 539,584.6 539.5,588.1 540,592.6 540.5,597.9 541,603.5 541.5,607.4 542,611.4 542.5,614.1 543,617.9 543.5,622.0 544,624.7 544.5,626.4 545,626.5 545.5,626.7 546,629.4 546.5,630.2 547,631.1 547.5,632.1 548,633.4 548.5,634.9 549,634.2 549.5,634.4 550,634.7 550.5,636.1 551,637.0 551.5,636.8 552,637.8 552.5,639.9 553,640.2 553.5,642.2 554,642.4 554.5,642.1 555,642.0 555.5,643.9 556,645.7 556.5,647.9 557,646.9 557.5,648.6 558,649.3 558.5,651.3 559,652.6 559.5,654.5 560,653.1 560.5,654.4 561,656.8 561.5,657.9 562,659.8 562.5,661.1 563,661.9 563.5,661.7 564,662.3 564.5,664.2 565,664.4 565.5,667.8 566,669.1 566.5,669.5 567,672.4 567.5,674.1 568,675.5 568.5,675.3 569,677.3 569.5,679.0 570,679.6 570.5,681.0 571,681.7 571.5,684.2 572,686.0 572.5,687.1 573,687.6 573.5,689.9 574,691.7 574.5,692.3 575,693.9 575.5,695.2 576,694.6 576.5,695.1 577,697.3 577.5,697.8 578,699.6 578.5,701.1 579,702.0 579.5,702.5 580,704.0 580.5,705.3 581,705.3 581.5,705.7 582,706.0 582.5,706.3 583,708.4 583.5,710.7 584,713.8 584.5,715.5 585,716.1 585.5,716.4 586,717.5 586.5,717.1 587,719.3 587.5,719.8 588,718.7 588.5,720.3 589,719.8 589.5,719.9 590,720.6 590.5,721.3 591,722.3 591.5,724.4 592,723.4 592.5,722.5 593,723.5 593.5,722.8 594,726.3 594.5,726.2 595,727.2 595.5,727.8 596,727.1 596.5,726.6 597,728.1 597.5,726.8 598,727.1 598.5,728.6 599,729.4 599.5,730.5 600,729.1 600.5,727.8 601,731.3 601.5,730.2 602,730.1 602.5,730.2 603,729.1 603.5,729.2 604,729.4 604.5,729.1 605,730.7 605.5,729.2 606,729.0 606.5,728.2 607,728.1 607.5,726.2 608,729.8 608.5,728.6 609,729.0 609.5,726.9 610,726.8 610.5,727.9 611,726.0 611.5,725.4 612,725.2 612.5,724.6 613,722.2 613.5,722.0 614,721.6 614.5,719.4 615,717.8 615.5,716.0 616,714.4 616.5,713.9 617,713.1 617.5,713.3 618,711.3 618.5,708.6 619,705.7 619.5,703.1 620,702.6 620.5,700.2 621,699.4 621.5,696.1 622,693.0 622.5,690.7 623,688.9 623.5,687.3 624,684.9 624.5,683.5 625,680.5 625.5,679.0 626,676.3 626.5,674.0 627,672.4 627.5,671.6 628,668.9 628.5,667.1 629,664.9 629.5,664.1 630,662.1 630.5,661.0 631,659.8 631.5,658.9 632,659.1 632.5,658.6 633,657.1 633.5,655.7 634,652.7 634.5,654.1 635,652.9 635.5,651.5 636,651.4 636.5,653.2 637,652.3 637.5,652.2 638,654.7 638.5,656.3 639,657.9 639.5,656.9 640,656.0 640.5,654.3 641,657.5 641.5,659.0 642,661.3 642.5,663.6 643,664.6 643.5,666.9 644,669.7 644.5,671.6 645,673.9 645.5,674.6 646,676.6 646.5,677.7 647,680.1 647.5,681.5 648,684.8 648.5,685.7 649,687.7 649.5,689.2 650,689.3 650.5,690.6 651,692.6 651.5,693.7 652,694.1 652.5,694.2 653,696.4 653.5,698.1 654,700.2 654.5,700.1 655,701.7 655.5,702.1 656,702.7 656.5,703.1 657,704.0 657.5,705.1 658,706.5 658.5,705.4 659,707.1 659.5,706.7 660,707.7 660.5,707.3 661,708.3 661.5,708.4 662,708.9 662.5,710.7 663,712.5 663.5,711.8 664,712.6 664.5,713.0 665,712.9 665.5,714.6 666,713.3 666.5,713.2 667,711.9 667.5,712.2 668,712.9 668.5,714.1 669,717.2 669.5,717.3 670,718.0 670.5,718.6 671,718.8 671.5,718.3 672,718.1 672.5,719.6 673,721.5 673.5,723.2 674,724.5 674.5,725.2 675,724.7 675.5,723.1 676,724.0 676.5,724.0 677,724.7 677.5,725.6 678,727.5 678.5,728.9 679,728.3 679.5,727.4 680,730.1 680.5,729.2 681,730.4 681.5,730.3 682,730.1 682.5,731.4 683,733.6 683.5,732.3 684,734.0 684.5,736.6 685,735.3 685.5,735.6 686,736.3 686.5,735.2 687,736.6 687.5,737.7 688,738.8 688.5,738.9 689,736.7 689.5,738.8 690,738.8 690.5,738.9 691,738.1 691.5,738.6 692,739.6 692.5,739.8 693,741.1 693.5,742.0 694,740.8 694.5,738.4 695,738.4 695.5,742.2 696,742.5 696.5,743.1 697,744.9 697.5,744.4 698,743.8 698.5,742.8 699,743.5 699.5,742.1 700,742.4 700.5,745.6 701,743.3 701.5,744.3 702,743.5 702.5,743.4 703,744.2 703.5,744.9 704,742.6 704.5,743.6 705,742.2 705.5,743.3 706,743.8 706.5,742.5 707,741.8 707.5,742.1 708,741.2 708.5,739.4 709,738.8 709.5,739.0 710,738.0 710.5,735.1 711,733.3 711.5,731.2 712,730.2 712.5,727.8 713,726.7 713.5,724.3 714,721.5 714.5,720.0 715,717.9 715.5,717.6 716,716.3 716.5,716.6 717,715.5 717.5,713.9 718,712.9 718.5,711.1 719,710.4 719.5,709.8 720,710.3 720.5,708.2 721,706.7 721.5,705.6 722,706.2 722.5,706.7 723,706.7 723.5,706.1 724,708.3 724.5,709.3 725,710.1 725.5,710.4 726,710.4 726.5,709.0 727,708.5 727.5,707.6 728,708.2 728.5,708.8 729,710.0 729.5,708.1 730,709.0 730.5,708.3 731,708.5 731.5,710.1 732,710.5 732.5,712.1 733,711.6 733.5,710.7 734,713.2 734.5,710.9 735,710.6 735.5,708.3 736,706.6 736.5,709.2 737,708.5 737.5,707.9 738,708.7 738.5,710.2 739,709.3 739.5,707.5 740,709.1 740.5,709.5 741,706.6 741.5,707.7 742,705.7 742.5,708.8 743,707.5 743.5,706.8 744,708.6 744.5,708.8 745,709.5 745.5,710.4 746,711.3 746.5,710.9 747,712.9 747.5,711.4 748,712.8 748.5,711.7 749,713.8 749.5,716.1 750,716.7 750.5,719.3 751,720.5 751.5,720.7 752,722.1 752.5,723.4 753,725.6 753.5,726.8 754,728.8 754.5,731.0 755,733.7 755.5,735.3 756,737.7 756.5,739.0 757,741.6 757.5,742.9 758,743.8 758.5,744.3 759,744.4 759.5,744.6 760,745.5 760.5,746.9 761,748.3 761.5,750.0 762,749.2 762.5,750.7 763,749.4 763.5,750.0 764,750.7 764.5,751.2 765,751.1 765.5,752.5 766,751.2 766.5,751.7 767,753.7 767.5,751.1 768,754.0 768.5,753.2 769,755.4 769.5,756.7 770,759.0 770.5,759.0 771,759.7 771.5,756.1 772,755.8 772.5,761.7 773,760.8 773.5,759.4 774,759.2 774.5,760.1 775,761.3 775.5,757.8 776,753.1 776.5,755.9 777,762.9 777.5,760.1 778,759.8 778.5,757.9 779,754.2 779.5,750.0 780,750.7 780.5,752.4 781,753.6 781.5,749.7 782,758.3 782.5,759.1 783,759.5 783.5,758.7 784,762.5 784.5,760.2 785,762.1 785.5,761.9 786,760.4 786.5,760.7 787,756.2 787.5,762.4 788,758.9 788.5,761.9 789,761.1 789.5,769.7 790,767.0 790.5,769.2 791,761.8 791.5,756.4 792,758.8 792.5,762.8 793,766.5 793.5,768.1 794,768.7 794.5,761.0 795,760.6 795.5,758.4 796,755.3 796.5,760.0 797,756.6 797.5,758.2 798,758.5 798.5,764.3 799,759.1 799.5,760.0 800,759.6 800.5,759.9 801,761.5 801.5,758.8 802,759.2 802.5,763.9 803,759.2 803.5,759.9 804,760.8 804.5,753.8 805,757.9 805.5,758.6 806,755.5 806.5,761.1 807,761.4 807.5,765.2 808,764.5 808.5,762.9 809,761.4 809.5,758.7 810,761.0 810.5,761.0 811,762.6 811.5,761.8 812,764.0 812.5,766.5 813,765.3 813.5,762.6 814,761.2 814.5,761.4 815,760.6 815.5,764.6 816,768.7 816.5,765.2 817,767.5 817.5,762.0 818,760.7 818.5,754.4 819,757.5 819.5,761.2 820,763.8 820.5,768.0 821,768.6 821.5,769.1 822,764.1 822.5,766.8 823,765.0 823.5,766.1 824,764.2 824.5,763.6 825,764.5 825.5,760.0 826,760.5 826.5,759.1 827,761.6 827.5,762.7 828,762.0 828.5,763.5 829,762.0 829.5,760.5 830,765.6 830.5,761.9 831,765.2 831.5,759.2 832,757.4 832.5,759.5 833,757.9 833.5,761.9 834,762.4 834.5,763.6 835,766.5 835.5,769.4 836,764.1 836.5,763.1 837,760.7 837.5,760.8 838,762.4 838.5,766.0 839,760.2 839.5,760.7 840,762.8 840.5,764.4 841,764.7 841.5,765.5 842,766.7 842.5,769.4 843,766.6 843.5,767.9 844,766.0 844.5,767.1 845,766.2 845.5,769.5 846,768.0 846.5,769.2 847,768.6 847.5,769.2 848,770.1 848.5,770.1 849,762.4 849.5,765.6 850,760.6 850.5,761.9 851,765.2 851.5,766.5 852,764.6 852.5,760.9 853,761.9 853.5,761.0 854,764.2 854.5,765.1 855,767.6 855.5,765.5 856,767.0 856.5,767.9 857,772.8 857.5,766.1 858,767.4 858.5,767.4 859,766.6 859.5,765.9 860,765.9 860.5,767.7 861,767.3 861.5,764.6 862,767.6 862.5,771.7 863,766.2 863.5,763.0 864,762.6 864.5,763.8 865,763.8 865.5,765.1 866,766.1 866.5,759.0 867,762.4 867.5,760.9 868,763.9 868.5,760.5 869,761.8 869.5,765.3 870,764.8 870.5,762.1 871,763.7 871.5,760.6 872,758.2 872.5,763.5 873,761.3 873.5,761.6 874,763.9 874.5,770.5 875,769.4 875.5,767.8 876,771.4 876.5,769.9 877,766.6 877.5,763.2 878,766.9 878.5,765.4 879,765.2 879.5,766.3 880,762.1 880.5,764.0 881,761.6 881.5,761.1 882,762.7 882.5,761.4 883,757.0 883.5,760.8 884,760.0 884.5,766.4 885,765.9 885.5,764.9 886,764.7 886.5,763.4 887,763.5 887.5,766.5 888,770.3 888.5,763.6 889,764.0 889.5,761.4 890,753.6 890.5,761.0 891,759.4 891.5,763.2 892,762.7 892.5,763.3 893,767.1 893.5,772.2 894,771.9 894.5,775.5 895,771.7 895.5,771.6 896,767.4 896.5,767.1 897,764.1 897.5,757.9 898,761.5 898.5,767.2 899,768.8 899.5,769.7 900,768.1 900.5,768.0 901,766.3 901.5,763.2 902,769.9 902.5,771.7 903,776.7 903.5,774.8 904,775.9 904.5,771.2 905,765.5 905.5,764.4 906,762.9 906.5,761.5 907,760.8 907.5,765.0 908,769.0 908.5,768.1 909,764.4 909.5,759.8 910,755.5 910.5,755.6 911,761.3 911.5,758.6 912,766.2 912.5,770.3 913,767.5 913.5,770.2 914,764.4 914.5,764.2 915,759.5 915.5,755.1 916,761.2 916.5,761.6 917,761.1 917.5,760.9 918,764.7 918.5,766.7 919,767.4 919.5,767.2 920,764.0 920.5,763.9 921,765.5 921.5,766.3 922,766.0 922.5,765.3 923,763.0 923.5,763.9 924,762.7 924.5,764.5 925,762.0 925.5,763.4 926,763.8 926.5,761.4 927,762.5 927.5,762.9 928,764.2 928.5,761.9 929,763.6 929.5,766.5 930,765.9 930.5,766.0 931,765.9 931.5,769.0 932,772.5 932.5,766.7 933,763.4 933.5,764.1 934,767.9 934.5,772.7 935,767.2 935.5,768.0 936,764.6 936.5,767.4 937,762.6 937.5,765.1 938,761.2 938.5,765.2 939,765.0 939.5,763.5 940,769.8 940.5,770.2 941,769.4 941.5,764.3 942,767.6 942.5,767.3 943,766.3 943.5,762.8 944,761.5 944.5,763.6 945,761.7 945.5,760.0 946,764.9 946.5,761.5 947,763.7 947.5,762.6 948,763.9 948.5,763.1 949,768.4 949.5,765.6 950,760.4 950.5,761.1 951,759.0 951.5,765.6 952,763.0 952.5,762.5 953,762.6 953.5,761.2 954,762.9 954.5,762.0 955,758.7 955.5,755.1 956,755.8 956.5,751.7 957,753.2 957.5,755.4 958,753.9 958.5,754.8 959,752.7 959.5,753.7 960,750.8 960.5,754.0 961,752.8 961.5,754.1 962,752.8 962.5,751.1 963,752.4 963.5,752.4 964,753.3 964.5,750.4 965,746.8 965.5,746.7 966,749.1 966.5,747.6 967,746.6 967.5,745.2 968,747.4 968.5,747.1 969,747.4 969.5,747.0 970,743.0 970.5,743.3 971,742.2 971.5,746.9 972,747.9 972.5,740.2 973,736.3 973.5,736.5 974,736.2 974.5,741.5 975,745.7 975.5,740.1 976,740.7 976.5,743.1 977,740.7 977.5,744.1 978,744.1 978.5,746.4 979,741.5 979.5,746.8 980,750.0 980.5,752.3 981,750.7 981.5,748.1 982,748.9 982.5,750.1 983,745.9 983.5,743.2 984,748.6 984.5,748.1 985,746.8 985.5,742.2 986,748.9 986.5,749.7 987,754.0 987.5,753.6 988,753.4 988.5,752.8 989,747.8 989.5,746.0 990,741.3 990.5,742.8 991,745.8 991.5,745.4 992,750.7 992.5,750.2 993,747.1 993.5,750.3 994,750.3 994.5,751.3 995,747.9 995.5,744.9 996,743.9 996.5,746.4 997,744.1 997.5,744.6 998,741.6 998.5,743.0 999,738.3 999.5,736.3 1000,747.4 1000.5,746.9 1001,754.3 1001.5,753.5 1002,747.8 1002.5,742.1 1003,737.6 1003.5,742.8 1004,741.5 1004.5,742.7 1005,743.6 1005.5,745.7 1006,749.0 1006.5,748.1 1007,750.0 1007.5,750.3 1008,751.9 1008.5,746.8 1009,745.7 1009.5,745.0 1010,742.5 1010.5,748.2 1011,747.5 1011.5,748.5 1012,746.6 1012.5,742.5 1013,742.2 1013.5,743.9 1014,749.4 1014.5,749.5 1015,751.9 1015.5,751.0 1016,752.5 1016.5,754.7 1017,747.0 1017.5,748.1 1018,743.8 1018.5,750.2 1019,749.3 1019.5,747.5 1020,749.8 1020.5,749.4 1021,745.9 1021.5,749.4 1022,749.8 1022.5,750.7 1023,752.2 1023.5,754.3 1024,754.5 1024.5,752.7 1025,753.6 1025.5,756.0 1026,758.0 1026.5,754.1 1027,755.6 1027.5,756.8 1028,757.2 1028.5,754.7 1029,752.9 1029.5,749.8 1030,747.7 1030.5,745.0 1031,752.1 1031.5,755.7 1032,757.0 1032.5,757.1 1033,756.1 1033.5,759.4 1034,758.9 1034.5,757.0 1035,754.8 1035.5,754.4 1036,756.8 1036.5,758.0 1037,758.1 1037.5,759.8 1038,760.4 1038.5,759.6 1039,753.9 1039.5,758.5 1040,757.0 1040.5,762.2 1041,757.4 1041.5,757.5 1042,757.2 1042.5,759.7 1043,764.4 1043.5,761.2 1044,761.7 1044.5,762.6 1045,762.6 1045.5,763.0 1046,762.3 1046.5,759.4 1047,763.3 1047.5,764.4 1048,766.2 1048.5,765.0 1049,762.7 1049.5,759.6 1050,759.8 1050.5,759.7 1051,757.3 1051.5,761.9 1052,765.7 1052.5,765.6 1053,767.8 1053.5,771.8 1054,767.0 1054.5,775.0 1055,775.2 1055.5,774.8 1056,770.2 1056.5,766.6 1057,763.2 1057.5,764.4 1058,760.4 1058.5,761.4 1059,764.5 1059.5,762.4 1060,764.5 1060.5,764.9 1061,768.8 1061.5,773.9 1062,767.4 1062.5,768.1 1063,760.9 1063.5,758.3 1064,761.4 1064.5,763.0 1065,766.3 1065.5,767.8 1066,766.8 1066.5,767.8 1067,772.2 1067.5,767.2 1068,768.8 1068.5,770.8 1069,771.8 1069.5,768.3 1070,770.8 1070.5,774.4 1071,773.4 1071.5,769.8 1072,765.4 1072.5,764.8 1073,766.8 1073.5,764.0 1074,767.1 1074.5,768.7 1075,767.3 1075.5,767.7 1076,765.5 1076.5,767.1 1077,766.5 1077.5,767.9 1078,775.3 1078.5,775.9 1079,776.9 1079.5,778.9 1080,772.0 1080.5,767.6 1081,762.5 1081.5,765.3 1082,766.1 1082.5,772.7 1083,767.5 1083.5,773.1 1084,768.0 1084.5,769.7 1085,771.2 1085.5,771.1 1086,770.4 1086.5,764.3 1087,765.4 1087.5,767.4 1088,768.6 1088.5,765.4 1089,767.9 1089.5,766.8 1090,763.0 1090.5,767.7 1091,765.2 1091.5,769.0 1092,765.2 1092.5,766.2 1093,765.2 1093.5,763.8 1094,762.9 1094.5,759.6 1095,757.7 1095.5,761.5 1096,761.5 1096.5,763.5 1097,763.1 1097.5,766.8 1098,763.2 1098.5,764.8 1099,764.3 1099.5,766.0 1100,764.6 1100.5,761.6 1101,762.8 1101.5,762.0 1102,760.4 1102.5,767.1 1103,768.1 1103.5,768.4 1104,764.2 1104.5,765.7 1105,761.8 1105.5,761.7 1106,765.2 1106.5,768.3 1107,767.4 1107.5,767.5 1108,769.7 1108.5,770.2 1109,772.0 1109.5,767.8 1110,765.9 1110.5,761.6 1111,756.9 1111.5,759.8 1112,762.1 1112.5,768.0 1113,770.1 1113.5,764.3 1114,762.3 1114.5,759.2 1115,760.2 1115.5,764.5 1116,772.3 1116.5,771.2 1117,768.0 1117.5,767.4 1118,767.7 1118.5,771.9 1119,773.5 1119.5,769.0 1120,765.2 1120.5,760.3 1121,762.5 1121.5,765.3 1122,766.1 1122.5,767.5 1123,766.2 1123.5,764.9 1124,765.6 1124.5,767.4 1125,768.9 1125.5,768.9 1126,762.8 1126.5,764.3 1127,759.2 1127.5,758.8 1128,761.4 1128.5,764.2 1129,763.6 1129.5,754.2 1130,756.3 1130.5,762.9 1131,760.7 1131.5,768.2 1132,764.6 1132.5,763.5 1133,763.4 1133.5,763.8 1134,758.5 1134.5,762.6 1135,759.4 1135.5,760.3 1136,767.2 1136.5,767.4 1137,765.5 1137.5,764.4 1138,766.4 1138.5,772.5 1139,771.5 1139.5,768.9 1140,764.7 1140.5,764.6 1141,769.0 1141.5,770.9 1142,771.5 1142.5,769.7 1143,770.9 1143.5,768.2 1144,769.0 1144.5,765.9 1145,761.7 1145.5,765.3 1146,764.6 1146.5,766.4 1147,767.1 1147.5,770.7 1148,768.2 1148.5,766.7 1149,761.1 1149.5,763.9 1150,762.9 1150.5,766.7 1151,759.1 1151.5,763.0 1152,759.2 1152.5,755.9 1153,762.9 1153.5,765.0 1154,766.4 1154.5,769.3 1155,767.3 1155.5,762.3 1156,759.5 1156.5,757.6 1157,763.1 1157.5,763.8 1158,763.3 1158.5,762.9 1159,760.7 1159.5,763.1 1160,765.6 1160.5,773.7 1161,769.3 1161.5,768.3 1162,766.5 1162.5,767.3 1163,763.9 1163.5,768.1 1164,763.8 1164.5,764.2 1165,765.2 1165.5,761.1 1166,763.3 1166.5,764.7 1167,765.7 1167.5,766.5 1168,765.3 1168.5,767.2 1169,761.3 1169.5,763.2 1170,762.4 1170.5,764.6 1171,764.3 1171.5,764.1 1172,765.5 1172.5,764.7 1173,763.8 1173.5,760.0 1174,757.9 1174.5,757.1 1175,757.1 1175.5,756.0 1176,755.5 1176.5,756.9 1177,757.3 1177.5,761.0 1178,758.2 1178.5,760.8 1179,757.9 1179.5,751.4 1180,755.8 1180.5,755.1 1181,761.6 1181.5,759.1 1182,759.0 1182.5,758.8 1183,754.3 1183.5,755.2 1184,756.8 1184.5,752.1 1185,749.0 1185.5,749.4 1186,746.7 1186.5,752.5 1187,755.8 1187.5,760.5 1188,755.3 1188.5,755.4 1189,749.7 1189.5,749.3 1190,745.8 1190.5,749.3 1191,751.4 1191.5,750.7 1192,753.2 1192.5,756.4 1193,752.1 1193.5,755.8 1194,754.2 1194.5,748.6 1195,749.9 1195.5,743.8 1196,743.0 1196.5,745.5 1197,746.1 1197.5,749.7 1198,748.2 1198.5,745.4 1199,742.6 1199.5,742.4 1200,746.2 1200.5,746.4 1201,745.9 1201.5,746.7 1202,746.2 1202.5,743.6 1203,742.2 1203.5,741.4 1204,744.4 1204.5,737.4 1205,745.6 1205.5,745.7 1206,744.8 1206.5,743.8 1207,747.3 1207.5,741.7 1208,740.6 1208.5,740.8 1209,743.2 1209.5,741.3 1210,741.5 1210.5,745.1 1211,748.7 1211.5,747.5 1212,743.9 1212.5,740.0 1213,748.2 1213.5,752.2 1214,751.4 1214.5,755.9 1215,750.9 1215.5,748.5 1216,750.8 1216.5,750.6 1217,754.8 1217.5,749.5 1218,754.4 1218.5,752.7 1219,750.1 1219.5,756.8 1220,753.5 1220.5,756.5 1221,753.2 1221.5,754.4 1222,755.2 1222.5,757.1 1223,753.7 1223.5,753.8 1224,754.8 1224.5,754.0 1225,754.1 1225.5,755.1 1226,757.0 1226.5,756.6 1227,757.9 1227.5,754.9 1228,756.1 1228.5,760.8 1229,755.6 1229.5,756.9 1230,759.4 1230.5,755.2 1231,757.9 1231.5,759.3 1232,758.5 1232.5,759.0 1233,762.8 1233.5,759.4 1234,762.3 1234.5,758.1 1235,754.8 1235.5,754.9 1236,757.9 1236.5,759.6 1237,760.6 1237.5,759.8 1238,758.2 1238.5,756.0 1239,755.0 1239.5,750.3 1240,747.6 1240.5,743.6 1241,741.9 1241.5,738.0 1242,736.5 1242.5,734.8 1243,730.7 1243.5,733.0 1244,738.6 1244.5,741.5 1245,744.5 1245.5,744.5 1246,742.4 1246.5,743.7 1247,737.6 1247.5,735.1 1248,738.9 1248.5,741.5 1249,739.5 1249.5,736.9 1250,736.2 1250.5,733.4 1251,734.9 1251.5,735.3 1252,740.8 1252.5,739.2 1253,743.3 1253.5,739.2 1254,739.3 1254.5,739.3 1255,736.1 1255.5,729.6 1256,730.2 1256.5,732.9 1257,735.3 1257.5,732.1 1258,730.8 1258.5,731.8 1259,734.7 1259.5,735.2 1260,736.6 1260.5,737.6 1261,739.3 1261.5,739.2 1262,740.3 1262.5,739.9 1263,740.5 1263.5,744.0 1264,746.9 1264.5,752.5 1265,753.7 1265.5,754.9 1266,754.0 1266.5,753.1 1267,754.3 1267.5,756.1 1268,754.7 1268.5,757.3 1269,757.8 1269.5,758.8 1270,758.4 1270.5,762.8 1271,760.8 1271.5,763.1 1272,764.4 1272.5,763.0 1273,765.0 1273.5,764.3 1274,763.2 1274.5,762.4 1275,757.4 1275.5,763.0 1276,757.7 1276.5,755.1 1277,755.2 1277.5,758.9 1278,761.9 1278.5,759.8 1279,761.4 1279.5,764.3 1280,766.2 1280.5,769.4 1281,770.9 1281.5,770.3 1282,772.8 1282.5,769.6 1283,761.9 1283.5,760.1 1284,761.6 1284.5,757.5 1285,763.1 1285.5,762.9 1286,760.6 1286.5,758.7 1287,760.6 1287.5,763.7 1288,762.6 1288.5,764.4 1289,771.3 1289.5,769.2 1290,764.9 1290.5,764.5 1291,759.6 1291.5,762.1 1292,764.8 1292.5,765.9 1293,767.1 1293.5,764.7 1294,761.0 1294.5,766.0 1295,765.5 1295.5,761.1 1296,764.3 1296.5,757.5 1297,764.0 1297.5,762.8 1298,760.3 1298.5,766.7 1299,765.2 1299.5,766.9 1300,762.7 1300.5,762.1 1301,757.6 1301.5,762.0 1302,761.9 1302.5,763.3 1303,763.1 1303.5,762.5 1304,759.9 1304.5,757.6 1305,757.4 1305.5,758.9 1306,759.3 1306.5,764.5 1307,766.7 1307.5,769.4 1308,767.6 1308.5,766.3 1309,765.5 1309.5,764.8 1310,766.9 1310.5,765.3 1311,765.7 1311.5,765.7 1312,765.7 1312.5,766.3 1313,769.1 1313.5,762.1 1314,764.1 1314.5,766.4 1315,768.7 1315.5,770.0 1316,763.2 1316.5,765.5 1317,764.1 1317.5,763.2 1318,761.2 1318.5,760.2 1319,761.0 1319.5,760.3 1320,755.7 1320.5,758.5 1321,754.9 1321.5,754.2 1322,756.5 1322.5,760.0 1323,756.4 1323.5,760.1 1324,763.8 1324.5,761.9 1325,758.3 1325.5,764.8 1326,764.9 1326.5,764.2 1327,762.9 1327.5,761.1 1328,766.1 1328.5,766.0 1329,766.7 1329.5,765.5 1330,761.0 1330.5,763.1 1331,766.4 1331.5,774.2 1332,769.9 1332.5,767.4 1333,764.5 1333.5,764.7 1334,761.6 1334.5,759.6 1335,763.6 1335.5,762.4 1336,763.7 1336.5,759.2 1337,758.3 1337.5,760.5 1338,764.0 1338.5,763.7 1339,767.1 1339.5,764.6 1340,762.6 1340.5,766.4 1341,762.1 1341.5,760.1 1342,756.3 1342.5,760.9 1343,761.8 1343.5,766.7 1344,763.3 1344.5,760.8 1345,761.0 1345.5,758.7 1346,765.1 1346.5,761.5 1347,760.4 1347.5,757.3 1348,755.7 1348.5,760.5 1349,761.8 1349.5,763.2 1350,767.1 1350.5,764.4 1351,765.6 1351.5,763.3 1352,767.6 1352.5,768.5 1353,761.8 1353.5,759.5 1354,758.8 1354.5,757.9 1355,762.6 1355.5,763.2 1356,759.2 1356.5,761.0 1357,757.8 1357.5,758.1 1358,756.4 1358.5,758.5 1359,755.6 1359.5,756.4 1360,756.9 1360.5,759.6 1361,759.1 1361.5,760.7 1362,759.5 1362.5,759.9 1363,761.6 1363.5,763.5 1364,761.5 1364.5,757.8 1365,763.5 1365.5,757.7 1366,760.6 1366.5,757.7 1367,760.3 1367.5,758.2 1368,758.6 1368.5,751.9 1369,757.1 1369.5,757.3 1370,757.0 1370.5,753.9 1371,755.3 1371.5,757.4 1372,757.9 1372.5,760.5 1373,766.1 1373.5,766.5 1374,766.9 1374.5,761.9 1375,762.3 1375.5,759.8 1376,759.0 1376.5,754.8 1377,756.9 1377.5,754.6 1378,754.7 1378.5,752.8 1379,756.7 1379.5,753.2 1380,754.7 1380.5,754.5 1381,754.6 1381.5,759.8 1382,756.7 1382.5,758.0 1383,754.2 1383.5,758.8 1384,758.7 1384.5,755.0 1385,755.1 1385.5,755.9 1386,755.6 1386.5,754.0 1387,759.4 1387.5,766.8 1388,764.1 1388.5,759.5 1389,752.3 1389.5,752.6 1390,747.5 1390.5,752.6 1391,753.1 1391.5,754.9 1392,755.5 1392.5,759.1 1393,756.0 1393.5,760.6 1394,751.1 1394.5,754.0 1395,754.0 1395.5,753.8 1396,756.8 1396.5,756.4 1397,752.6 1397.5,751.6 1398,747.3 1398.5,742.8 1399,746.7 1399.5,744.4 1400,752.8 1400.5,754.7 1401,753.2 1401.5,753.7 1402,753.4 1402.5,751.6 1403,749.5 1403.5,749.2 1404,748.9 1404.5,751.5 1405,749.7 1405.5,749.7 1406,750.9 1406.5,749.8 1407,747.5 1407.5,747.0 1408,747.9 1408.5,742.2 1409,747.7 1409.5,745.7 1410,745.9 1410.5,746.2 1411,746.3 1411.5,741.2 1412,743.0 1412.5,741.9 1413,744.8 1413.5,745.4 1414,744.2 1414.5,744.3 1415,742.9 1415.5,741.9 1416,741.0 1416.5,740.9 1417,740.7 1417.5,742.0 1418,739.0 1418.5,740.6 1419,740.6 1419.5,739.8 1420,737.9 1420.5,738.7 1421,738.9 1421.5,738.5 1422,737.7 1422.5,736.4 1423,734.5 1423.5,733.0 1424,733.5 1424.5,731.9 1425,730.1 1425.5,728.6 1426,727.3 1426.5,726.2 1427,724.7 1427.5,722.7 1428,718.8 1428.5,715.3 1429,711.6 1429.5,708.0 1430,703.6 1430.5,699.7 1431,695.4 1431.5,690.7 1432,685.3 1432.5,679.5 1433,674.5 1433.5,669.8 1434,665.9 1434.5,662.3 1435,659.5 1435.5,656.7 1436,653.5 1436.5,651.4 1437,647.8 1437.5,645.9 1438,644.2 1438.5,642.1 1439,642.6 1439.5,641.4 1440,638.7 1440.5,638.1 1441,636.1 1441.5,636.1 1442,635.0 1442.5,635.2 1443,634.2 1443.5,634.8 1444,635.1 1444.5,634.9 1445,633.8 1445.5,631.3 1446,628.0 1446.5,627.2 1447,626.8 1447.5,625.3 1448,623.6 1448.5,621.8 1449,619.6 1449.5,617.9 1450,616.8 1450.5,615.9 1451,615.1 1451.5,614.1 1452,614.2 1452.5,613.4 1453,612.2 1453.5,609.5 1454,609.0 1454.5,609.5 1455,611.4 1455.5,611.8 1456,609.9 1456.5,610.4 1457,609.6 1457.5,612.3 1458,613.1 1458.5,614.7 1459,616.0 1459.5,616.7 1460,617.9 1460.5,620.3 1461,623.2 1461.5,626.1 1462,629.1 1462.5,633.9 1463,638.0 1463.5,642.1 1464,646.6 1464.5,652.8 1465,659.6 1465.5,666.6 1466,672.2 1466.5,675.7 1467,678.1 1467.5,680.3 1468,682.1 1468.5,684.0 1469,685.7 1469.5,687.6 1470,687.4 1470.5,687.3 1471,688.7 1471.5,688.8 1472,690.5 1472.5,691.4 1473,691.8 1473.5,691.8 1474,693.3 1474.5,692.0 1475,693.2 1475.5,692.7 1476,693.0 1476.5,695.5 1477,696.1 1477.5,695.6 1478,695.2 1478.5,694.4 1479,693.4 1479.5,694.0 1480,695.4 1480.5,695.1 1481,696.3 1481.5,695.6 1482,696.2 1482.5,695.7 1483,695.8 1483.5,695.6 1484,697.4 1484.5,696.8 1485,697.5 1485.5,698.0 1486,697.2 1486.5,697.8 1487,697.0 1487.5,697.9 1488,698.1 1488.5,696.9 1489,697.3 1489.5,696.1 1490,698.7 1490.5,697.3 1491,698.1 1491.5,696.9 1492,697.4 1492.5,698.7 1493,699.3 1493.5,699.1 1494,699.9 1494.5,700.1 1495,700.2 1495.5,700.7 1496,700.2 1496.5,700.8 1497,699.5 1497.5,700.1 1498,700.0 1498.5,701.7 1499,700.6 1499.5,699.9 1500,700.8 1500.5,700.0 1501,702.4 1501.5,702.1 1502,702.4 1502.5,701.9 1503,702.1 1503.5,701.9 1504,703.7 1504.5,704.5 1505,704.7 1505.5,703.3 1506,704.1 1506.5,702.5 1507,704.0 1507.5,704.6 1508,704.5 1508.5,706.4 1509,705.4 1509.5,706.7 1510,706.4 1510.5,706.5 1511,706.6 1511.5,706.6 1512,706.9 1512.5,706.6 1513,707.2 1513.5,708.4 1514,708.5 1514.5,708.4 1515,709.2 1515.5,709.4 1516,708.8 1516.5,709.3 1517,709.6 1517.5,710.0 1518,711.3 1518.5,710.6 1519,711.4 1519.5,712.6 1520,712.5 1520.5,712.3 1521,712.7 1521.5,712.5 1522,712.8 1522.5,713.5 1523,713.1 1523.5,713.9 1524,714.9 1524.5,714.6 1525,714.2 1525.5,716.8 1526,716.6 1526.5,716.9 1527,716.2 1527.5,715.9 1528,714.2 1528.5,716.2 1529,717.4 1529.5,718.6 1530,718.4 1530.5,718.4 1531,717.2 1531.5,717.0 1532,717.9 1532.5,719.2 1533,719.3 1533.5,719.0 1534,718.7 1534.5,719.5 1535,720.4 1535.5,721.8 1536,721.7 1536.5,720.6 1537,721.7 1537.5,722.4 1538,722.9 1538.5,722.6 1539,721.6 1539.5,722.0 1540,723.6 1540.5,725.4 1541,725.3 1541.5,725.1 1542,725.5 1542.5,725.9 1543,726.7 1543.5,728.1 1544,729.4 1544.5,729.9 1545,730.2 1545.5,730.6 1546,731.6 1546.5,731.0 1547,732.0 1547.5,732.3 1548,732.2 1548.5,732.8 1549,733.2 1549.5,735.0 1550,733.7 1550.5,735.4 1551,734.2 1551.5,735.1 1552,735.4 1552.5,737.9 1553,739.0 1553.5,738.2 1554,739.6 1554.5,740.0 1555,738.4 1555.5,738.1 1556,738.2 1556.5,737.9 1557,738.7 1557.5,738.2 1558,739.8 1558.5,741.4 1559,740.5 1559.5,740.7" fill="none" stroke="#0000ff" stroke-width="3.4" stroke-linejoin="round" stroke-linecap="butt"/>
<polyline points="168,583.6 168.5,585.1 169,583.2 169.5,585.2 170,585.4 170.5,586.1 171,585.5 171.5,586.7 172,584.8 172.5,585.1 173,584.5 173.5,585.1 174,586.2 174.5,585.6 175,584.4 175.5,584.8 176,584.4 176.5,585.2 177,585.6 177.5,583.8 178,584.9 178.5,585.0 179,583.5 179.5,583.1 180,583.2 180.5,581.9 181,583.6 181.5,585.7 182,584.7 182.5,584.0 183,583.8 183.5,584.6 184,585.2 184.5,583.1 185,584.9 185.5,584.6 186,584.4 186.5,584.2 187,584.3 187.5,583.2 188,583.0 188.5,584.9 189,587.2 189.5,587.5 190,585.6 190.5,581.9 191,581.4 191.5,580.8 192,583.7 192.5,587.6 193,587.2 193.5,589.1 194,587.4 194.5,587.8 195,582.7 195.5,585.4 196,584.9 196.5,586.9 197,584.7 197.5,585.0 198,586.8 198.5,585.9 199,585.2 199.5,586.3 200,586.4 200.5,587.1 201,587.3 201.5,589.0 202,590.9 202.5,585.8 203,587.4 203.5,585.6 204,589.7 204.5,588.8 205,588.0 205.5,588.6 206,586.4 206.5,585.3 207,583.9 207.5,583.0 208,583.5 208.5,582.5 209,583.1 209.5,586.6 210,585.4 210.5,587.0 211,588.7 211.5,587.8 212,587.7 212.5,588.7 213,587.9 213.5,585.6 214,586.9 214.5,585.3 215,588.8 215.5,588.9 216,591.1 216.5,586.7 217,585.0 217.5,585.9 218,584.0 218.5,587.8 219,590.0 219.5,588.5 220,590.8 220.5,589.7 221,589.7 221.5,590.5 222,587.8 222.5,588.0 223,588.9 223.5,587.6 224,589.8 224.5,586.8 225,588.1 225.5,586.2 226,588.0 226.5,583.9 227,584.5 227.5,586.8 228,588.1 228.5,587.8 229,589.7 229.5,585.6 230,586.9 230.5,585.4 231,585.6 231.5,584.1 232,585.0 232.5,584.4 233,585.7 233.5,590.7 234,588.1 234.5,589.6 235,589.8 235.5,589.5 236,588.9 236.5,589.6 237,589.7 237.5,589.2 238,588.7 238.5,585.7 239,586.4 239.5,588.8 240,592.8 240.5,591.8 241,588.0 241.5,587.3 242,586.5 242.5,589.0 243,591.6 243.5,590.4 244,591.6 244.5,590.4 245,594.0 245.5,590.6 246,594.4 246.5,591.2 247,592.5 247.5,587.8 248,589.7 248.5,593.3 249,592.4 249.5,589.6 250,585.7 250.5,584.9 251,586.1 251.5,588.6 252,589.1 252.5,589.6 253,589.7 253.5,590.3 254,586.6 254.5,589.2 255,593.0 255.5,591.2 256,593.1 256.5,597.0 257,593.2 257.5,593.4 258,591.7 258.5,589.3 259,587.8 259.5,589.0 260,589.9 260.5,591.0 261,590.6 261.5,592.6 262,593.2 262.5,592.6 263,593.2 263.5,589.6 264,589.1 264.5,587.7 265,588.7 265.5,591.4 266,590.4 266.5,592.8 267,591.2 267.5,592.6 268,592.4 268.5,588.3 269,589.8 269.5,594.0 270,598.9 270.5,596.0 271,595.7 271.5,598.0 272,596.3 272.5,595.2 273,594.4 273.5,593.7 274,595.7 274.5,597.8 275,596.8 275.5,594.2 276,593.1 276.5,593.3 277,594.5 277.5,594.1 278,594.9 278.5,595.2 279,595.0 279.5,596.6 280,595.3 280.5,594.2 281,589.4 281.5,594.1 282,599.0 282.5,599.4 283,597.0 283.5,593.8 284,591.4 284.5,587.6 285,590.6 285.5,596.0 286,593.7 286.5,595.1 287,592.8 287.5,593.4 288,596.0 288.5,595.9 289,596.9 289.5,595.1 290,595.5 290.5,596.9 291,593.5 291.5,591.7 292,591.5 292.5,591.3 293,588.2 293.5,591.7 294,591.4 294.5,592.1 295,591.6 295.5,590.9 296,592.2 296.5,592.6 297,593.5 297.5,596.2 298,593.8 298.5,588.7 299,588.1 299.5,589.2 300,590.7 300.5,592.0 301,594.7 301.5,595.2 302,593.9 302.5,592.8 303,593.1 303.5,593.7 304,589.8 304.5,590.3 305,592.2 305.5,589.0 306,588.8 306.5,593.8 307,594.6 307.5,591.6 308,591.0 308.5,587.7 309,591.4 309.5,589.3 310,592.7 310.5,590.9 311,592.7 311.5,590.9 312,592.8 312.5,595.2 313,597.4 313.5,596.3 314,598.3 314.5,598.4 315,594.8 315.5,595.4 316,593.1 316.5,594.0 317,594.9 317.5,594.0 318,595.9 318.5,598.2 319,595.3 319.5,598.8 320,594.1 320.5,591.8 321,593.5 321.5,589.8 322,597.3 322.5,596.9 323,596.0 323.5,592.1 324,592.5 324.5,590.1 325,593.5 325.5,596.6 326,597.3 326.5,596.5 327,594.1 327.5,596.8 328,599.1 328.5,596.2 329,594.3 329.5,591.9 330,592.4 330.5,592.4 331,592.7 331.5,589.7 332,588.1 332.5,592.0 333,596.8 333.5,598.1 334,597.0 334.5,596.6 335,598.7 335.5,594.2 336,597.0 336.5,598.0 337,596.8 337.5,596.4 338,600.1 338.5,596.8 339,597.4 339.5,596.2 340,594.1 340.5,598.7 341,599.0 341.5,597.1 342,596.9 342.5,597.4 343,598.9 343.5,599.2 344,597.5 344.5,595.8 345,594.4 345.5,596.8 346,597.1 346.5,601.6 347,595.9 347.5,592.6 348,595.0 348.5,593.4 349,593.7 349.5,597.4 350,595.2 350.5,595.8 351,598.7 351.5,600.9 352,601.8 352.5,605.4 353,598.6 353.5,592.1 354,594.2 354.5,594.2 355,596.9 355.5,595.6 356,597.0 356.5,595.7 357,596.4 357.5,596.3 358,597.2 358.5,602.8 359,596.4 359.5,596.7 360,596.9 360.5,601.3 361,598.4 361.5,598.8 362,595.0 362.5,596.4 363,599.1 363.5,599.2 364,599.5 364.5,598.4 365,596.0 365.5,593.9 366,592.5 366.5,600.3 367,594.2 367.5,597.6 368,595.9 368.5,592.8 369,591.2 369.5,593.9 370,594.3 370.5,598.0 371,597.2 371.5,600.8 372,598.5 372.5,596.0 373,596.3 373.5,597.2 374,595.6 374.5,595.6 375,594.4 375.5,590.0 376,591.6 376.5,589.4 377,592.3 377.5,591.4 378,596.0 378.5,598.4 379,599.3 379.5,597.6 380,600.3 380.5,598.1 381,597.5 381.5,599.2 382,602.1 382.5,601.2 383,598.4 383.5,598.5 384,598.8 384.5,598.4 385,601.1 385.5,600.2 386,599.4 386.5,597.7 387,598.1 387.5,590.8 388,591.9 388.5,591.7 389,597.5 389.5,597.3 390,597.8 390.5,596.8 391,596.7 391.5,597.8 392,602.4 392.5,596.3 393,599.4 393.5,599.2 394,595.3 394.5,593.8 395,598.5 395.5,602.4 396,605.8 396.5,600.6 397,602.2 397.5,601.8 398,602.6 398.5,595.0 399,596.0 399.5,596.4 400,598.2 400.5,601.0 401,603.6 401.5,599.9 402,600.8 402.5,601.3 403,605.0 403.5,600.5 404,601.5 404.5,607.2 405,606.3 405.5,602.3 406,599.2 406.5,599.6 407,602.6 407.5,600.1 408,597.6 408.5,600.2 409,602.8 409.5,598.7 410,600.3 410.5,598.0 411,599.1 411.5,597.6 412,600.1 412.5,599.4 413,598.2 413.5,599.2 414,599.9 414.5,599.4 415,592.6 415.5,595.9 416,595.5 416.5,598.9 417,597.2 417.5,598.2 418,601.9 418.5,602.2 419,599.7 419.5,602.4 420,599.6 420.5,596.2 421,598.5 421.5,600.3 422,599.1 422.5,597.0 423,596.9 423.5,596.7 424,594.6 424.5,592.7 425,590.2 425.5,589.3 426,587.9 426.5,583.6 427,577.1 427.5,571.3 428,566.9 428.5,565.0 429,561.8 429.5,560.1 430,559.7 430.5,559.4 431,558.8 431.5,556.8 432,560.8 432.5,559.7 433,559.8 433.5,560.6 434,560.5 434.5,562.6 435,563.8 435.5,564.8 436,565.4 436.5,566.1 437,568.1 437.5,570.8 438,572.7 438.5,574.9 439,578.0 439.5,579.9 440,581.2 440.5,583.5 441,585.2 441.5,587.2 442,588.9 442.5,591.1 443,592.5 443.5,593.0 444,590.4 444.5,590.0 445,589.7 445.5,590.0 446,591.9 446.5,595.9 447,594.4 447.5,594.4 448,595.6 448.5,596.9 449,596.8 449.5,594.9 450,595.7 450.5,597.0 451,597.2 451.5,595.4 452,594.1 452.5,596.7 453,596.2 453.5,595.7 454,595.7 454.5,594.9 455,596.7 455.5,595.8 456,594.5 456.5,593.6 457,594.7 457.5,593.1 458,594.0 458.5,591.6 459,592.6 459.5,590.3 460,592.4 460.5,592.2 461,596.0 461.5,595.6 462,597.7 462.5,593.9 463,594.5 463.5,592.2 464,594.6 464.5,593.6 465,593.6 465.5,595.2 466,592.5 466.5,593.8 467,593.3 467.5,591.2 468,590.9 468.5,592.1 469,590.2 469.5,591.4 470,592.0 470.5,591.5 471,590.3 471.5,589.0 472,591.5 472.5,591.9 473,595.0 473.5,596.5 474,596.4 474.5,594.3 475,596.2 475.5,593.6 476,593.3 476.5,591.0 477,590.9 477.5,589.9 478,589.7 478.5,590.1 479,589.3 479.5,588.9 480,590.8 480.5,590.0 481,588.4 481.5,590.8 482,589.3 482.5,590.2 483,587.5 483.5,587.2 484,587.3 484.5,586.7 485,585.0 485.5,584.8 486,586.4 486.5,583.7 487,583.8 487.5,583.0 488,582.4 488.5,582.4 489,583.4 489.5,581.6 490,579.1 490.5,577.9 491,577.2 491.5,576.8 492,576.0 492.5,573.9 493,572.8 493.5,569.0 494,567.9 494.5,565.7 495,564.8 495.5,561.3 496,560.1 496.5,559.2 497,556.8 497.5,555.9 498,553.6 498.5,552.0 499,549.4 499.5,548.6 500,546.8 500.5,544.4 501,542.9 501.5,540.0 502,537.7 502.5,536.9 503,533.8 503.5,530.5 504,527.4 504.5,523.5 505,517.3 505.5,509.0 506,500.2 506.5,491.9 507,484.6 507.5,478.1 508,472.1 508.5,466.4 509,461.9 509.5,458.9 510,456.0 510.5,453.7 511,451.7 511.5,449.7 512,447.3 512.5,444.7 513,443.4 513.5,442.8 514,441.6 514.5,439.7 515,438.6 515.5,436.4 516,434.6 516.5,433.9 517,434.7 517.5,431.8 518,430.6 518.5,430.7 519,430.0 519.5,429.5 520,433.5 520.5,435.3 521,436.4 521.5,438.9 522,440.0 522.5,441.2 523,442.8 523.5,444.8 524,448.8 524.5,453.5 525,458.2 525.5,463.1 526,467.8 526.5,472.0 527,476.6 527.5,480.8 528,484.2 528.5,487.8 529,491.5 529.5,494.3 530,496.7 530.5,498.7 531,499.5 531.5,502.1 532,501.5 532.5,502.9 533,503.7 533.5,502.4 534,504.1 534.5,504.4 535,505.6 535.5,506.6 536,508.6 536.5,508.9 537,509.0 537.5,511.2 538,512.1 538.5,513.5 539,516.9 539.5,518.4 540,519.1 540.5,520.1 541,522.1 541.5,523.3 542,523.9 542.5,522.5 543,523.9 543.5,525.6 544,528.6 544.5,531.0 545,531.8 545.5,534.2 546,535.4 546.5,537.1 547,537.7 547.5,537.5 548,538.5 548.5,537.9 549,540.1 549.5,541.0 550,543.2 550.5,544.7 551,545.2 551.5,546.9 552,547.0 552.5,547.4 553,549.4 553.5,551.4 554,553.7 554.5,554.7 555,554.7 555.5,556.6 556,558.4 556.5,561.1 557,562.4 557.5,562.5 558,563.0 558.5,565.2 559,565.7 559.5,567.9 560,569.2 560.5,570.0 561,571.9 561.5,572.5 562,571.9 562.5,572.9 563,575.0 563.5,577.2 564,577.6 564.5,579.2 565,579.5 565.5,579.8 566,579.7 566.5,579.6 567,580.5 567.5,579.8 568,581.9 568.5,582.4 569,582.7 569.5,583.9 570,583.5 570.5,584.7 571,586.2 571.5,586.4 572,584.7 572.5,588.1 573,587.6 573.5,589.2 574,589.7 574.5,588.4 575,586.1 575.5,587.9 576,590.0 576.5,591.3 577,590.9 577.5,588.4 578,590.0 578.5,590.2 579,590.9 579.5,592.2 580,592.2 580.5,590.1 581,589.4 581.5,588.9 582,586.3 582.5,591.2 583,590.6 583.5,588.9 584,588.0 584.5,591.5 585,591.5 585.5,594.5 586,593.1 586.5,594.7 587,593.1 587.5,593.9 588,595.6 588.5,591.9 589,591.0 589.5,590.9 590,592.7 590.5,590.5 591,589.0 591.5,589.0 592,589.1 592.5,588.6 593,587.3 593.5,587.0 594,586.9 594.5,586.3 595,586.7 595.5,588.3 596,588.7 596.5,588.5 597,589.0 597.5,587.9 598,588.2 598.5,587.1 599,586.2 599.5,584.1 600,585.3 600.5,583.3 601,581.7 601.5,582.0 602,580.4 602.5,580.8 603,580.6 603.5,580.5 604,580.3 604.5,578.5 605,577.3 605.5,576.4 606,575.0 606.5,573.2 607,571.5 607.5,568.9 608,567.3 608.5,565.2 609,563.7 609.5,562.4 610,560.2 610.5,558.1 611,555.6 611.5,553.9 612,551.0 612.5,548.9 613,545.9 613.5,542.7 614,541.0 614.5,538.8 615,536.6 615.5,534.7 616,533.6 616.5,531.5 617,529.7 617.5,527.3 618,526.0 618.5,524.6 619,521.9 619.5,520.3 620,519.6 620.5,519.2 621,517.6 621.5,516.9 622,515.1 622.5,515.1 623,513.1 623.5,513.4 624,513.4 624.5,511.9 625,510.1 625.5,509.6 626,509.0 626.5,507.3 627,508.8 627.5,509.9 628,511.5 628.5,511.6 629,512.1 629.5,511.1 630,510.6 630.5,509.4 631,511.2 631.5,512.5 632,514.4 632.5,515.0 633,515.8 633.5,518.1 634,519.2 634.5,520.7 635,523.1 635.5,525.3 636,527.2 636.5,529.1 637,530.6 637.5,533.0 638,535.1 638.5,535.2 639,537.5 639.5,538.6 640,540.7 640.5,543.0 641,542.3 641.5,544.4 642,545.0 642.5,547.0 643,547.2 643.5,547.6 644,548.4 644.5,549.1 645,550.5 645.5,552.1 646,554.8 646.5,554.6 647,555.7 647.5,556.7 648,556.5 648.5,556.2 649,556.0 649.5,556.4 650,558.2 650.5,559.1 651,560.1 651.5,558.6 652,560.7 652.5,560.8 653,560.8 653.5,561.7 654,561.9 654.5,562.0 655,563.1 655.5,564.5 656,564.7 656.5,566.8 657,567.3 657.5,567.5 658,568.6 658.5,568.6 659,569.9 659.5,569.9 660,570.4 660.5,571.2 661,570.6 661.5,571.4 662,571.3 662.5,571.1 663,572.9 663.5,572.8 664,575.3 664.5,576.0 665,574.0 665.5,575.3 666,575.5 666.5,576.9 667,576.7 667.5,577.6 668,579.8 668.5,578.9 669,579.6 669.5,581.5 670,583.1 670.5,583.8 671,584.4 671.5,586.0 672,585.3 672.5,585.6 673,585.5 673.5,586.2 674,588.0 674.5,589.0 675,588.8 675.5,591.5 676,592.4 676.5,593.5 677,592.8 677.5,592.5 678,593.1 678.5,592.5 679,593.7 679.5,590.1 680,590.0 680.5,591.3 681,591.3 681.5,594.4 682,596.8 682.5,594.5 683,597.3 683.5,596.5 684,597.1 684.5,595.2 685,594.4 685.5,595.1 686,596.1 686.5,595.6 687,594.8 687.5,595.3 688,596.8 688.5,597.9 689,596.3 689.5,594.1 690,594.1 690.5,593.8 691,594.6 691.5,594.7 692,593.7 692.5,593.7 693,591.3 693.5,591.9 694,591.4 694.5,589.9 695,588.5 695.5,586.8 696,586.5 696.5,586.3 697,585.8 697.5,584.5 698,584.4 698.5,583.0 699,581.8 699.5,579.5 700,578.1 700.5,576.0 701,574.1 701.5,572.2 702,571.4 702.5,569.1 703,567.4 703.5,565.1 704,564.2 704.5,562.2 705,562.6 705.5,562.1 706,560.2 706.5,558.7 707,557.5 707.5,556.4 708,557.4 708.5,555.1 709,554.6 709.5,555.2 710,555.6 710.5,556.0 711,555.5 711.5,558.9 712,559.4 712.5,561.6 713,559.2 713.5,555.6 714,555.0 714.5,555.2 715,553.1 715.5,553.6 716,553.5 716.5,553.8 717,556.6 717.5,554.3 718,555.5 718.5,555.0 719,557.5 719.5,555.9 720,558.1 720.5,558.3 721,559.9 721.5,559.7 722,559.9 722.5,557.7 723,559.1 723.5,560.3 724,560.7 724.5,561.0 725,560.4 725.5,562.8 726,564.7 726.5,563.2 727,562.8 727.5,561.1 728,560.0 728.5,560.8 729,558.9 729.5,558.0 730,557.3 730.5,556.7 731,561.5 731.5,561.3 732,563.0 732.5,563.1 733,564.7 733.5,564.0 734,563.8 734.5,563.7 735,566.0 735.5,565.5 736,566.1 736.5,566.4 737,567.2 737.5,569.2 738,570.2 738.5,571.1 739,571.2 739.5,573.1 740,574.7 740.5,575.7 741,577.5 741.5,578.5 742,580.0 742.5,580.4 743,581.5 743.5,583.8 744,585.6 744.5,586.2 745,588.6 745.5,590.1 746,590.7 746.5,592.0 747,592.5 747.5,594.6 748,594.7 748.5,595.4 749,593.8 749.5,593.8 750,596.2 750.5,597.4 751,597.1 751.5,597.3 752,598.1 752.5,595.9 753,597.0 753.5,595.6 754,597.1 754.5,598.7 755,598.7 755.5,599.6 756,599.0 756.5,599.2 757,598.9 757.5,598.4 758,599.7 758.5,598.7 759,598.8 759.5,597.7 760,600.1 760.5,600.2 761,603.9 761.5,601.6 762,603.4 762.5,601.9 763,599.8 763.5,599.8 764,602.4 764.5,604.0 765,605.7 765.5,603.0 766,601.6 766.5,602.2 767,603.5 767.5,601.9 768,603.6 768.5,603.4 769,602.0 769.5,606.0 770,605.8 770.5,605.8 771,603.7 771.5,606.9 772,608.0 772.5,606.6 773,608.1 773.5,605.0 774,606.8 774.5,605.6 775,608.9 775.5,606.2 776,603.9 776.5,603.0 777,604.2 777.5,606.3 778,606.0 778.5,606.8 779,604.1 779.5,606.4 780,610.0 780.5,612.2 781,611.9 781.5,609.7 782,611.5 782.5,611.5 783,609.4 783.5,605.6 784,607.7 784.5,611.7 785,610.8 785.5,608.6 786,606.1 786.5,606.3 787,610.8 787.5,609.0 788,608.7 788.5,611.8 789,607.1 789.5,610.4 790,606.1 790.5,603.6 791,607.9 791.5,604.8 792,609.3 792.5,608.3 793,612.9 793.5,607.2 794,606.4 794.5,600.8 795,611.0 795.5,609.6 796,609.9 796.5,605.2 797,598.2 797.5,598.2 798,604.4 798.5,606.2 799,612.2 799.5,615.9 800,610.4 800.5,609.4 801,604.1 801.5,607.1 802,606.3 802.5,602.1 803,604.7 803.5,608.0 804,609.3 804.5,606.5 805,605.1 805.5,604.5 806,603.6 806.5,603.3 807,597.8 807.5,602.3 808,602.2 808.5,604.7 809,607.2 809.5,608.0 810,609.2 810.5,605.7 811,602.4 811.5,605.8 812,606.5 812.5,604.8 813,605.4 813.5,602.3 814,606.4 814.5,605.5 815,604.2 815.5,601.2 816,606.4 816.5,606.0 817,609.9 817.5,609.7 818,611.6 818.5,609.9 819,612.2 819.5,613.7 820,610.8 820.5,605.0 821,606.2 821.5,606.0 822,607.1 822.5,612.0 823,614.9 823.5,617.5 824,614.7 824.5,616.5 825,619.4 825.5,614.8 826,614.9 826.5,615.4 827,613.0 827.5,610.4 828,610.7 828.5,615.2 829,610.5 829.5,608.5 830,608.3 830.5,611.6 831,612.5 831.5,615.3 832,617.1 832.5,611.0 833,614.0 833.5,609.6 834,612.7 834.5,613.8 835,614.3 835.5,617.8 836,612.9 836.5,613.1 837,615.3 837.5,615.4 838,614.2 838.5,614.3 839,610.1 839.5,612.8 840,610.6 840.5,610.2 841,610.8 841.5,610.9 842,608.0 842.5,607.7 843,607.4 843.5,608.5 844,607.5 844.5,611.3 845,607.4 845.5,605.3 846,604.9 846.5,606.1 847,607.8 847.5,606.4 848,610.5 848.5,608.5 849,613.9 849.5,611.4 850,612.2 850.5,614.8 851,610.7 851.5,611.9 852,603.4 852.5,607.3 853,606.5 853.5,609.4 854,604.9 854.5,605.5 855,607.9 855.5,602.7 856,607.4 856.5,610.9 857,601.6 857.5,602.3 858,605.1 858.5,610.1 859,611.4 859.5,614.2 860,613.7 860.5,611.4 861,618.1 861.5,614.6 862,614.7 862.5,614.3 863,612.1 863.5,612.8 864,612.9 864.5,610.4 865,614.9 865.5,610.7 866,614.2 866.5,608.8 867,610.5 867.5,610.6 868,615.9 868.5,611.7 869,611.7 869.5,611.6 870,613.4 870.5,614.5 871,610.7 871.5,607.7 872,610.8 872.5,608.6 873,604.2 873.5,604.9 874,608.2 874.5,605.4 875,603.5 875.5,603.8 876,605.8 876.5,607.0 877,608.3 877.5,605.1 878,605.6 878.5,610.4 879,608.4 879.5,610.0 880,608.9 880.5,608.1 881,612.2 881.5,611.2 882,608.7 882.5,611.8 883,613.9 883.5,615.2 884,609.0 884.5,610.5 885,609.9 885.5,607.4 886,614.8 886.5,618.1 887,615.6 887.5,613.9 888,611.2 888.5,612.0 889,605.7 889.5,611.7 890,613.1 890.5,613.7 891,611.3 891.5,611.9 892,610.4 892.5,611.1 893,609.2 893.5,611.4 894,612.0 894.5,609.8 895,616.8 895.5,617.1 896,614.2 896.5,615.0 897,612.8 897.5,612.6 898,618.3 898.5,609.3 899,608.5 899.5,602.8 900,607.2 900.5,610.5 901,614.5 901.5,618.3 902,614.6 902.5,613.4 903,613.3 903.5,613.8 904,614.8 904.5,617.9 905,613.7 905.5,617.5 906,613.2 906.5,618.7 907,619.3 907.5,621.7 908,617.8 908.5,612.1 909,615.7 909.5,611.2 910,609.3 910.5,612.3 911,617.7 911.5,616.5 912,617.1 912.5,616.1 913,612.8 913.5,614.5 914,612.9 914.5,614.0 915,615.3 915.5,615.3 916,609.3 916.5,612.0 917,606.0 917.5,612.5 918,613.0 918.5,608.7 919,608.8 919.5,610.9 920,612.2 920.5,615.4 921,613.8 921.5,609.1 922,610.9 922.5,610.8 923,603.2 923.5,601.1 924,603.4 924.5,612.0 925,615.4 925.5,619.5 926,616.2 926.5,613.4 927,608.7 927.5,606.7 928,610.0 928.5,612.4 929,610.7 929.5,612.5 930,612.7 930.5,612.1 931,611.8 931.5,609.3 932,614.9 932.5,613.9 933,616.4 933.5,614.1 934,615.5 934.5,613.5 935,618.1 935.5,617.8 936,614.8 936.5,619.7 937,616.9 937.5,614.4 938,614.6 938.5,612.1 939,615.8 939.5,611.4 940,607.5 940.5,610.6 941,612.9 941.5,611.7 942,609.1 942.5,609.4 943,608.7 943.5,613.3 944,605.9 944.5,605.9 945,604.4 945.5,601.8 946,611.2 946.5,617.0 947,617.7 947.5,616.3 948,612.5 948.5,608.9 949,608.4 949.5,607.0 950,608.4 950.5,608.8 951,603.6 951.5,609.4 952,611.4 952.5,606.4 953,607.0 953.5,607.1 954,603.6 954.5,603.3 955,605.9 955.5,602.0 956,606.5 956.5,612.7 957,615.9 957.5,617.3 958,612.7 958.5,609.0 959,606.4 959.5,603.5 960,604.7 960.5,603.6 961,603.6 961.5,603.6 962,600.6 962.5,601.6 963,598.0 963.5,599.5 964,601.8 964.5,599.2 965,608.4 965.5,606.4 966,606.2 966.5,602.2 967,601.7 967.5,602.3 968,600.8 968.5,597.4 969,598.0 969.5,604.0 970,602.9 970.5,603.7 971,607.4 971.5,605.6 972,606.0 972.5,602.4 973,600.9 973.5,600.8 974,594.9 974.5,596.6 975,597.6 975.5,605.5 976,599.9 976.5,600.4 977,599.2 977.5,596.8 978,596.4 978.5,595.6 979,600.0 979.5,597.0 980,598.1 980.5,597.8 981,596.1 981.5,599.5 982,599.5 982.5,604.7 983,602.4 983.5,602.1 984,597.2 984.5,599.9 985,607.2 985.5,606.9 986,605.6 986.5,604.4 987,603.6 987.5,597.3 988,601.8 988.5,600.1 989,603.0 989.5,605.5 990,598.0 990.5,601.2 991,601.0 991.5,601.0 992,601.6 992.5,597.4 993,600.5 993.5,599.2 994,601.5 994.5,602.5 995,601.5 995.5,603.1 996,610.2 996.5,611.4 997,609.5 997.5,607.0 998,606.4 998.5,603.6 999,602.7 999.5,601.9 1000,605.4 1000.5,605.2 1001,607.9 1001.5,606.4 1002,605.7 1002.5,606.0 1003,605.1 1003.5,606.9 1004,610.7 1004.5,609.2 1005,606.1 1005.5,609.9 1006,609.3 1006.5,612.8 1007,608.2 1007.5,606.5 1008,608.0 1008.5,608.8 1009,609.2 1009.5,609.8 1010,611.8 1010.5,609.1 1011,603.4 1011.5,603.0 1012,606.7 1012.5,608.0 1013,617.3 1013.5,613.4 1014,614.9 1014.5,610.2 1015,610.2 1015.5,611.9 1016,609.8 1016.5,609.7 1017,610.3 1017.5,607.2 1018,608.6 1018.5,610.7 1019,611.0 1019.5,609.5 1020,609.5 1020.5,612.6 1021,613.2 1021.5,609.8 1022,613.0 1022.5,613.1 1023,613.3 1023.5,611.7 1024,610.3 1024.5,608.5 1025,611.9 1025.5,617.6 1026,616.7 1026.5,614.0 1027,613.5 1027.5,612.7 1028,614.0 1028.5,612.3 1029,613.2 1029.5,609.9 1030,613.8 1030.5,613.1 1031,611.1 1031.5,614.6 1032,612.7 1032.5,614.1 1033,609.4 1033.5,615.3 1034,612.4 1034.5,611.0 1035,609.1 1035.5,606.0 1036,603.5 1036.5,609.8 1037,612.0 1037.5,606.6 1038,606.7 1038.5,610.7 1039,617.3 1039.5,616.4 1040,617.8 1040.5,615.8 1041,606.9 1041.5,606.5 1042,614.5 1042.5,618.2 1043,617.3 1043.5,621.0 1044,616.2 1044.5,614.8 1045,610.3 1045.5,608.9 1046,605.9 1046.5,608.6 1047,605.4 1047.5,605.8 1048,610.4 1048.5,606.2 1049,606.9 1049.5,609.3 1050,612.3 1050.5,613.3 1051,615.5 1051.5,618.9 1052,620.6 1052.5,614.9 1053,614.0 1053.5,609.9 1054,605.6 1054.5,609.7 1055,607.4 1055.5,610.4 1056,610.8 1056.5,610.7 1057,611.5 1057.5,612.1 1058,620.6 1058.5,614.0 1059,618.8 1059.5,617.7 1060,612.1 1060.5,616.4 1061,616.2 1061.5,614.6 1062,613.4 1062.5,612.6 1063,609.1 1063.5,607.8 1064,611.3 1064.5,607.9 1065,607.6 1065.5,613.7 1066,619.3 1066.5,621.0 1067,616.6 1067.5,613.3 1068,612.8 1068.5,614.2 1069,619.1 1069.5,617.8 1070,617.1 1070.5,613.9 1071,618.3 1071.5,616.6 1072,617.8 1072.5,623.6 1073,623.5 1073.5,619.9 1074,620.9 1074.5,618.4 1075,613.0 1075.5,611.0 1076,610.7 1076.5,612.1 1077,613.1 1077.5,608.4 1078,608.2 1078.5,610.3 1079,610.0 1079.5,615.6 1080,615.0 1080.5,611.5 1081,610.7 1081.5,615.1 1082,609.3 1082.5,613.3 1083,613.2 1083.5,605.7 1084,609.2 1084.5,608.4 1085,609.9 1085.5,615.7 1086,617.0 1086.5,617.6 1087,617.6 1087.5,613.8 1088,617.1 1088.5,611.1 1089,610.1 1089.5,609.9 1090,611.8 1090.5,617.2 1091,615.7 1091.5,621.2 1092,613.0 1092.5,611.1 1093,608.2 1093.5,610.8 1094,614.3 1094.5,611.7 1095,610.7 1095.5,608.2 1096,610.4 1096.5,607.1 1097,614.3 1097.5,615.7 1098,619.0 1098.5,619.1 1099,619.7 1099.5,618.7 1100,617.1 1100.5,618.3 1101,618.7 1101.5,620.7 1102,619.4 1102.5,609.7 1103,607.0 1103.5,608.6 1104,607.2 1104.5,614.6 1105,609.7 1105.5,611.9 1106,616.9 1106.5,616.1 1107,613.6 1107.5,610.1 1108,610.4 1108.5,611.9 1109,617.4 1109.5,616.8 1110,620.9 1110.5,622.9 1111,617.2 1111.5,614.5 1112,612.6 1112.5,614.3 1113,615.0 1113.5,615.8 1114,611.8 1114.5,616.0 1115,605.8 1115.5,606.2 1116,610.4 1116.5,607.5 1117,611.0 1117.5,612.4 1118,611.7 1118.5,614.6 1119,609.3 1119.5,601.5 1120,607.4 1120.5,610.8 1121,610.9 1121.5,616.4 1122,612.4 1122.5,609.6 1123,609.4 1123.5,612.6 1124,604.1 1124.5,608.3 1125,616.0 1125.5,618.6 1126,619.1 1126.5,619.0 1127,617.0 1127.5,614.4 1128,618.8 1128.5,619.4 1129,616.8 1129.5,616.2 1130,608.9 1130.5,609.7 1131,610.7 1131.5,610.7 1132,613.7 1132.5,615.5 1133,619.5 1133.5,618.1 1134,615.7 1134.5,619.8 1135,620.4 1135.5,617.6 1136,619.7 1136.5,619.7 1137,612.0 1137.5,613.8 1138,609.3 1138.5,610.6 1139,607.5 1139.5,605.6 1140,608.8 1140.5,612.0 1141,608.8 1141.5,617.9 1142,616.5 1142.5,617.3 1143,618.7 1143.5,619.9 1144,617.7 1144.5,618.2 1145,612.9 1145.5,610.2 1146,608.0 1146.5,608.6 1147,612.7 1147.5,614.7 1148,615.0 1148.5,609.1 1149,610.6 1149.5,607.5 1150,611.9 1150.5,613.4 1151,614.4 1151.5,605.5 1152,608.3 1152.5,608.3 1153,612.4 1153.5,613.6 1154,614.8 1154.5,622.6 1155,618.7 1155.5,613.2 1156,608.1 1156.5,605.6 1157,611.3 1157.5,613.9 1158,611.5 1158.5,611.3 1159,607.5 1159.5,607.8 1160,611.5 1160.5,612.7 1161,611.8 1161.5,611.2 1162,618.3 1162.5,617.7 1163,616.8 1163.5,613.0 1164,607.9 1164.5,614.0 1165,610.1 1165.5,612.4 1166,606.9 1166.5,608.9 1167,606.4 1167.5,606.7 1168,602.0 1168.5,603.7 1169,601.1 1169.5,602.7 1170,606.2 1170.5,608.4 1171,609.1 1171.5,608.2 1172,605.6 1172.5,604.4 1173,603.3 1173.5,601.3 1174,603.1 1174.5,605.7 1175,602.6 1175.5,609.8 1176,604.4 1176.5,601.4 1177,598.8 1177.5,599.3 1178,598.3 1178.5,597.6 1179,592.4 1179.5,596.6 1180,596.1 1180.5,598.2 1181,599.2 1181.5,593.8 1182,595.6 1182.5,593.6 1183,597.1 1183.5,598.0 1184,604.0 1184.5,601.7 1185,604.4 1185.5,593.3 1186,587.0 1186.5,586.9 1187,586.2 1187.5,592.0 1188,597.1 1188.5,598.4 1189,598.0 1189.5,599.0 1190,599.7 1190.5,605.4 1191,607.2 1191.5,605.1 1192,603.0 1192.5,602.1 1193,595.8 1193.5,593.4 1194,594.4 1194.5,591.2 1195,596.3 1195.5,593.7 1196,596.1 1196.5,593.3 1197,592.9 1197.5,596.4 1198,597.8 1198.5,600.0 1199,597.2 1199.5,594.7 1200,592.1 1200.5,595.4 1201,599.1 1201.5,596.0 1202,594.9 1202.5,594.3 1203,593.0 1203.5,593.4 1204,598.2 1204.5,597.5 1205,597.9 1205.5,600.6 1206,602.2 1206.5,596.2 1207,597.3 1207.5,598.1 1208,601.1 1208.5,602.1 1209,604.2 1209.5,599.6 1210,600.7 1210.5,600.9 1211,599.2 1211.5,599.3 1212,604.0 1212.5,603.4 1213,605.8 1213.5,603.7 1214,607.7 1214.5,606.7 1215,605.9 1215.5,610.6 1216,614.0 1216.5,610.9 1217,605.9 1217.5,605.6 1218,605.4 1218.5,603.5 1219,608.6 1219.5,611.8 1220,611.7 1220.5,610.8 1221,607.6 1221.5,603.6 1222,602.7 1222.5,606.9 1223,610.7 1223.5,612.9 1224,607.8 1224.5,607.5 1225,607.6 1225.5,609.9 1226,609.9 1226.5,613.2 1227,609.5 1227.5,606.6 1228,609.2 1228.5,605.5 1229,599.7 1229.5,607.7 1230,602.5 1230.5,606.0 1231,604.8 1231.5,606.9 1232,604.1 1232.5,600.5 1233,605.3 1233.5,605.7 1234,610.2 1234.5,609.2 1235,606.9 1235.5,610.5 1236,610.3 1236.5,610.2 1237,609.4 1237.5,609.7 1238,609.6 1238.5,606.5 1239,606.0 1239.5,607.2 1240,613.1 1240.5,614.9 1241,615.4 1241.5,611.9 1242,606.3 1242.5,612.8 1243,611.1 1243.5,607.8 1244,610.7 1244.5,614.0 1245,611.1 1245.5,609.1 1246,607.9 1246.5,611.2 1247,607.9 1247.5,611.5 1248,607.4 1248.5,606.2 1249,606.3 1249.5,613.2 1250,609.2 1250.5,611.9 1251,611.6 1251.5,611.9 1252,613.8 1252.5,616.2 1253,609.1 1253.5,607.5 1254,612.1 1254.5,614.8 1255,608.9 1255.5,609.4 1256,606.6 1256.5,607.0 1257,612.8 1257.5,613.4 1258,617.0 1258.5,612.2 1259,610.9 1259.5,609.7 1260,605.2 1260.5,606.9 1261,608.7 1261.5,616.4 1262,612.9 1262.5,616.8 1263,613.4 1263.5,614.3 1264,617.4 1264.5,612.2 1265,615.8 1265.5,607.3 1266,611.2 1266.5,610.1 1267,607.2 1267.5,608.0 1268,608.9 1268.5,611.5 1269,607.7 1269.5,613.2 1270,610.2 1270.5,608.9 1271,608.4 1271.5,611.4 1272,613.7 1272.5,611.7 1273,611.7 1273.5,608.7 1274,608.1 1274.5,611.1 1275,615.5 1275.5,616.8 1276,620.6 1276.5,621.0 1277,621.7 1277.5,615.4 1278,614.2 1278.5,603.2 1279,612.3 1279.5,609.5 1280,611.6 1280.5,607.3 1281,606.6 1281.5,606.2 1282,609.4 1282.5,612.0 1283,612.7 1283.5,616.8 1284,618.5 1284.5,617.9 1285,613.8 1285.5,614.0 1286,612.7 1286.5,613.8 1287,616.5 1287.5,613.1 1288,612.5 1288.5,615.4 1289,616.5 1289.5,619.7 1290,613.1 1290.5,616.4 1291,617.8 1291.5,611.3 1292,607.2 1292.5,606.3 1293,608.4 1293.5,611.6 1294,610.8 1294.5,614.6 1295,616.8 1295.5,617.1 1296,610.9 1296.5,613.2 1297,614.9 1297.5,616.6 1298,615.8 1298.5,615.4 1299,615.0 1299.5,614.3 1300,618.9 1300.5,618.3 1301,618.2 1301.5,614.0 1302,612.5 1302.5,610.9 1303,612.0 1303.5,608.5 1304,613.8 1304.5,615.4 1305,613.2 1305.5,614.5 1306,615.5 1306.5,613.1 1307,610.8 1307.5,612.0 1308,615.9 1308.5,613.0 1309,615.3 1309.5,616.7 1310,618.8 1310.5,608.3 1311,605.1 1311.5,607.7 1312,611.9 1312.5,612.3 1313,612.6 1313.5,613.5 1314,624.7 1314.5,620.5 1315,625.8 1315.5,625.1 1316,619.4 1316.5,615.5 1317,611.4 1317.5,608.4 1318,612.0 1318.5,615.3 1319,618.7 1319.5,612.2 1320,609.5 1320.5,611.7 1321,613.7 1321.5,612.5 1322,609.2 1322.5,614.5 1323,617.8 1323.5,619.2 1324,615.2 1324.5,609.4 1325,612.0 1325.5,615.8 1326,614.4 1326.5,618.6 1327,614.2 1327.5,612.9 1328,609.8 1328.5,608.4 1329,608.6 1329.5,614.2 1330,616.6 1330.5,616.4 1331,616.9 1331.5,615.0 1332,612.4 1332.5,611.7 1333,613.2 1333.5,612.6 1334,610.9 1334.5,615.7 1335,616.5 1335.5,617.1 1336,618.5 1336.5,616.1 1337,612.6 1337.5,611.1 1338,606.6 1338.5,606.6 1339,608.5 1339.5,609.2 1340,610.6 1340.5,606.1 1341,604.5 1341.5,605.2 1342,599.9 1342.5,602.7 1343,606.2 1343.5,607.9 1344,611.3 1344.5,611.7 1345,608.0 1345.5,608.8 1346,605.7 1346.5,609.3 1347,606.4 1347.5,607.5 1348,606.4 1348.5,607.6 1349,609.5 1349.5,616.3 1350,613.5 1350.5,620.3 1351,610.6 1351.5,614.4 1352,613.3 1352.5,616.7 1353,618.7 1353.5,612.9 1354,609.2 1354.5,611.5 1355,608.7 1355.5,609.2 1356,609.0 1356.5,610.2 1357,609.4 1357.5,616.3 1358,612.1 1358.5,613.2 1359,609.4 1359.5,606.3 1360,608.2 1360.5,613.8 1361,613.5 1361.5,618.2 1362,611.1 1362.5,614.2 1363,609.9 1363.5,611.5 1364,605.1 1364.5,607.6 1365,601.8 1365.5,603.4 1366,607.8 1366.5,609.0 1367,607.2 1367.5,608.4 1368,612.2 1368.5,611.7 1369,614.5 1369.5,613.8 1370,613.7 1370.5,609.0 1371,612.8 1371.5,613.1 1372,609.9 1372.5,612.0 1373,612.4 1373.5,608.3 1374,612.6 1374.5,617.7 1375,612.9 1375.5,610.9 1376,610.6 1376.5,608.0 1377,603.2 1377.5,607.0 1378,610.3 1378.5,608.1 1379,605.5 1379.5,605.4 1380,609.9 1380.5,606.2 1381,606.5 1381.5,605.5 1382,610.5 1382.5,614.3 1383,614.0 1383.5,614.8 1384,611.1 1384.5,608.7 1385,612.1 1385.5,607.2 1386,607.7 1386.5,608.1 1387,608.7 1387.5,607.1 1388,610.5 1388.5,604.4 1389,605.0 1389.5,601.0 1390,600.4 1390.5,602.2 1391,602.3 1391.5,603.3 1392,608.9 1392.5,617.3 1393,614.2 1393.5,612.3 1394,615.0 1394.5,613.7 1395,611.3 1395.5,608.7 1396,610.1 1396.5,610.1 1397,609.7 1397.5,611.7 1398,612.6 1398.5,614.0 1399,614.6 1399.5,612.8 1400,609.2 1400.5,608.4 1401,608.0 1401.5,619.3 1402,615.7 1402.5,614.5 1403,611.8 1403.5,613.1 1404,613.6 1404.5,613.5 1405,604.6 1405.5,608.4 1406,607.9 1406.5,606.3 1407,610.4 1407.5,601.4 1408,605.7 1408.5,605.1 1409,609.7 1409.5,612.3 1410,610.3 1410.5,603.4 1411,603.5 1411.5,604.2 1412,605.4 1412.5,603.4 1413,604.7 1413.5,603.9 1414,605.5 1414.5,603.4 1415,602.7 1415.5,601.5 1416,599.9 1416.5,597.4 1417,596.6 1417.5,594.9 1418,593.1 1418.5,588.9 1419,585.0 1419.5,581.3 1420,580.3 1420.5,579.4 1421,578.1 1421.5,580.3 1422,584.2 1422.5,581.1 1423,582.7 1423.5,580.4 1424,578.3 1424.5,580.3 1425,577.5 1425.5,580.3 1426,577.6 1426.5,578.2 1427,579.2 1427.5,575.9 1428,577.1 1428.5,576.3 1429,577.8 1429.5,578.5 1430,577.0 1430.5,576.8 1431,575.6 1431.5,573.6 1432,572.3 1432.5,573.4 1433,572.1 1433.5,573.0 1434,575.0 1434.5,573.8 1435,572.5 1435.5,574.5 1436,574.8 1436.5,570.6 1437,570.0 1437.5,567.6 1438,567.7 1438.5,568.3 1439,567.8 1439.5,565.6 1440,565.7 1440.5,565.5 1441,565.9 1441.5,568.7 1442,570.6 1442.5,572.2 1443,573.6 1443.5,575.0 1444,578.5 1444.5,580.2 1445,582.4 1445.5,585.3 1446,587.1 1446.5,589.5 1447,590.9 1447.5,592.6 1448,595.4 1448.5,597.6 1449,599.1 1449.5,600.5 1450,601.9 1450.5,604.0 1451,603.7 1451.5,605.8 1452,605.8 1452.5,606.0 1453,602.6 1453.5,607.0 1454,607.0 1454.5,611.9 1455,611.0 1455.5,605.1 1456,603.7 1456.5,603.8 1457,604.0 1457.5,604.3 1458,603.2 1458.5,603.6 1459,603.7 1459.5,603.1 1460,604.4 1460.5,604.0 1461,607.3 1461.5,605.8 1462,607.2 1462.5,601.0 1463,597.3 1463.5,601.6 1464,603.8 1464.5,606.9 1465,605.6 1465.5,608.2 1466,608.3 1466.5,606.6 1467,605.9 1467.5,604.4 1468,607.3 1468.5,601.8 1469,604.2 1469.5,603.5 1470,604.2 1470.5,606.7 1471,604.2 1471.5,602.9 1472,606.9 1472.5,605.9 1473,606.0 1473.5,606.1 1474,608.2 1474.5,610.5 1475,604.6 1475.5,610.0 1476,605.1 1476.5,603.3 1477,606.7 1477.5,608.3 1478,607.0 1478.5,605.4 1479,602.4 1479.5,603.0 1480,609.8 1480.5,606.5 1481,609.7 1481.5,610.0 1482,611.2 1482.5,611.3 1483,616.2 1483.5,612.4 1484,615.1 1484.5,611.6 1485,607.9 1485.5,607.1 1486,603.5 1486.5,606.7 1487,605.3 1487.5,609.6 1488,612.7 1488.5,608.9 1489,613.8 1489.5,615.3 1490,611.6 1490.5,613.9 1491,611.8 1491.5,609.0 1492,603.0 1492.5,603.4 1493,604.2 1493.5,602.4 1494,600.4 1494.5,601.4 1495,608.3 1495.5,608.1 1496,611.0 1496.5,607.1 1497,608.5 1497.5,605.6 1498,611.6 1498.5,607.2 1499,608.1 1499.5,605.5 1500,606.1 1500.5,609.8 1501,602.8 1501.5,607.4 1502,602.9 1502.5,605.5 1503,609.1 1503.5,603.9 1504,604.6 1504.5,602.4 1505,602.0 1505.5,608.3 1506,609.8 1506.5,607.3 1507,609.5 1507.5,606.8 1508,610.1 1508.5,611.0 1509,602.9 1509.5,604.4 1510,603.8 1510.5,607.3 1511,607.4 1511.5,604.3 1512,604.2 1512.5,602.9 1513,609.6 1513.5,610.5 1514,608.0 1514.5,609.8 1515,610.9 1515.5,613.3 1516,611.6 1516.5,609.5 1517,608.1 1517.5,607.4 1518,608.2 1518.5,610.0 1519,612.5 1519.5,609.2 1520,605.9 1520.5,608.3 1521,608.4 1521.5,607.8 1522,612.2 1522.5,612.9 1523,613.7 1523.5,616.9 1524,613.6 1524.5,613.3 1525,613.0 1525.5,611.7 1526,608.6 1526.5,614.4 1527,612.9 1527.5,613.6 1528,610.4 1528.5,609.1 1529,604.0 1529.5,605.8 1530,602.0 1530.5,604.4 1531,608.5 1531.5,603.8 1532,605.4 1532.5,609.4 1533,609.6 1533.5,611.4 1534,610.2 1534.5,608.9 1535,607.3 1535.5,603.2 1536,605.6 1536.5,609.1 1537,614.1 1537.5,615.9 1538,611.5 1538.5,610.6 1539,606.2 1539.5,604.3 1540,605.0 1540.5,604.2 1541,608.8 1541.5,613.4 1542,618.7 1542.5,619.3 1543,612.7 1543.5,608.3 1544,608.2 1544.5,613.7 1545,611.0 1545.5,609.6 1546,607.6 1546.5,610.0 1547,607.1 1547.5,605.6 1548,613.5 1548.5,611.7 1549,612.6 1549.5,609.4 1550,607.1 1550.5,609.3 1551,609.6 1551.5,604.6 1552,608.9 1552.5,609.9 1553,609.7 1553.5,612.3 1554,606.3 1554.5,609.1 1555,612.8 1555.5,612.3 1556,612.8 1556.5,612.9 1557,612.4 1557.5,612.5 1558,612.1 1558.5,611.7 1559,613.2 1559.5,616.3" fill="none" stroke="#ff0000" stroke-width="3.4" stroke-linejoin="round" stroke-linecap="butt"/>
<polyline points="168,432.6 168.5,430.5 169,430.7 169.5,433.0 170,432.8 170.5,433.1 171,433.9 171.5,434.4 172,434.5 172.5,434.5 173,432.1 173.5,432.7 174,431.5 174.5,431.4 175,430.2 175.5,431.3 176,430.2 176.5,431.7 177,430.5 177.5,431.7 178,431.3 178.5,434.2 179,434.1 179.5,435.2 180,437.2 180.5,437.4 181,435.5 181.5,435.5 182,437.1 182.5,434.8 183,434.9 183.5,436.0 184,438.4 184.5,438.5 185,435.3 185.5,433.7 186,434.5 186.5,435.2 187,435.9 187.5,435.8 188,434.5 188.5,436.0 189,435.4 189.5,437.9 190,436.4 190.5,434.3 191,434.8 191.5,437.1 192,434.6 192.5,436.0 193,436.9 193.5,434.9 194,432.8 194.5,432.4 195,432.8 195.5,434.2 196,434.3 196.5,436.2 197,435.5 197.5,437.6 198,435.6 198.5,437.2 199,436.3 199.5,438.3 200,435.0 200.5,434.8 201,432.9 201.5,434.1 202,433.8 202.5,435.8 203,437.1 203.5,437.5 204,437.7 204.5,437.1 205,435.9 205.5,434.4 206,435.4 206.5,434.3 207,439.8 207.5,437.7 208,436.3 208.5,437.0 209,434.5 209.5,434.8 210,436.5 210.5,437.6 211,438.9 211.5,436.5 212,437.3 212.5,436.4 213,433.6 213.5,436.3 214,437.2 214.5,437.0 215,436.8 215.5,439.0 216,439.2 216.5,440.2 217,440.3 217.5,438.1 218,435.2 218.5,437.3 219,434.2 219.5,437.0 220,436.6 220.5,438.8 221,438.8 221.5,436.7 222,438.9 222.5,438.4 223,438.6 223.5,436.7 224,437.8 224.5,439.0 225,438.0 225.5,439.2 226,438.5 226.5,440.4 227,442.5 227.5,441.5 228,439.7 228.5,439.6 229,439.2 229.5,439.9 230,439.6 230.5,442.1 231,440.7 231.5,440.6 232,439.5 232.5,438.7 233,438.9 233.5,439.0 234,442.0 234.5,438.6 235,437.1 235.5,436.2 236,436.6 236.5,438.1 237,437.9 237.5,436.8 238,435.3 238.5,436.3 239,438.0 239.5,437.4 240,438.9 240.5,435.7 241,436.1 241.5,435.5 242,437.7 242.5,435.1 243,437.0 243.5,441.3 244,438.7 244.5,438.1 245,438.1 245.5,439.7 246,437.7 246.5,440.4 247,442.8 247.5,443.3 248,442.9 248.5,442.8 249,442.3 249.5,440.9 250,440.3 250.5,441.4 251,441.8 251.5,441.4 252,440.8 252.5,441.8 253,443.5 253.5,442.6 254,442.4 254.5,439.9 255,441.6 255.5,440.7 256,438.8 256.5,439.9 257,439.0 257.5,439.4 258,439.6 258.5,442.4 259,441.5 259.5,442.3 260,444.2 260.5,439.9 261,438.7 261.5,442.0 262,443.5 262.5,444.9 263,443.1 263.5,446.4 264,441.9 264.5,440.1 265,439.1 265.5,437.5 266,441.2 266.5,437.9 267,437.5 267.5,436.5 268,436.6 268.5,437.2 269,441.0 269.5,437.4 270,437.1 270.5,437.9 271,437.0 271.5,441.2 272,442.5 272.5,445.6 273,444.6 273.5,444.9 274,443.7 274.5,441.1 275,442.5 275.5,439.2 276,443.4 276.5,443.6 277,444.8 277.5,442.7 278,442.8 278.5,441.1 279,441.2 279.5,440.7 280,442.7 280.5,442.3 281,444.1 281.5,443.0 282,441.8 282.5,442.2 283,441.7 283.5,442.1 284,443.1 284.5,441.1 285,440.5 285.5,439.2 286,442.1 286.5,442.9 287,440.3 287.5,440.3 288,439.9 288.5,435.3 289,438.1 289.5,439.0 290,441.7 290.5,441.7 291,444.1 291.5,444.9 292,448.6 292.5,444.7 293,443.0 293.5,443.3 294,441.4 294.5,443.7 295,442.0 295.5,443.8 296,441.6 296.5,436.9 297,439.7 297.5,441.0 298,443.8 298.5,443.6 299,442.9 299.5,441.3 300,438.5 300.5,440.5 301,439.9 301.5,443.0 302,443.1 302.5,442.6 303,442.0 303.5,440.8 304,441.2 304.5,437.5 305,439.8 305.5,442.1 306,441.6 306.5,442.3 307,440.9 307.5,442.1 308,444.5 308.5,446.4 309,445.2 309.5,445.4 310,445.0 310.5,443.5 311,442.1 311.5,442.9 312,439.5 312.5,439.8 313,441.8 313.5,441.3 314,441.6 314.5,440.5 315,442.2 315.5,443.2 316,446.9 316.5,448.4 317,447.9 317.5,445.0 318,441.4 318.5,439.5 319,439.1 319.5,439.1 320,438.6 320.5,437.2 321,438.0 321.5,439.3 322,438.5 322.5,438.5 323,440.4 323.5,439.5 324,440.9 324.5,441.7 325,443.1 325.5,444.3 326,444.6 326.5,444.5 327,443.1 327.5,443.4 328,444.1 328.5,445.8 329,446.5 329.5,447.3 330,442.2 330.5,442.0 331,443.3 331.5,444.4 332,449.1 332.5,451.7 333,449.7 333.5,446.8 334,444.8 334.5,450.0 335,451.1 335.5,451.9 336,449.4 336.5,448.9 337,449.6 337.5,448.6 338,445.6 338.5,445.5 339,447.9 339.5,447.9 340,448.7 340.5,444.8 341,451.1 341.5,450.3 342,450.4 342.5,447.5 343,448.1 343.5,449.4 344,448.2 344.5,446.0 345,446.8 345.5,446.4 346,446.9 346.5,446.1 347,448.1 347.5,445.1 348,445.1 348.5,446.2 349,446.3 349.5,446.2 350,447.5 350.5,446.6 351,448.5 351.5,449.3 352,448.8 352.5,446.3 353,445.7 353.5,441.5 354,442.3 354.5,445.2 355,446.9 355.5,445.8 356,444.8 356.5,446.8 357,447.1 357.5,444.5 358,443.1 358.5,444.1 359,446.9 359.5,448.9 360,445.1 360.5,448.2 361,448.8 361.5,452.6 362,450.2 362.5,447.6 363,444.6 363.5,445.6 364,445.8 364.5,448.0 365,447.3 365.5,447.1 366,444.6 366.5,446.8 367,445.3 367.5,446.2 368,449.9 368.5,450.3 369,449.7 369.5,447.8 370,445.1 370.5,447.4 371,451.0 371.5,452.4 372,450.5 372.5,451.1 373,448.8 373.5,445.4 374,445.5 374.5,445.2 375,446.7 375.5,447.6 376,446.0 376.5,447.9 377,449.7 377.5,448.9 378,448.7 378.5,446.8 379,443.2 379.5,445.9 380,448.3 380.5,449.5 381,452.1 381.5,450.6 382,445.9 382.5,446.6 383,448.7 383.5,445.5 384,450.5 384.5,451.3 385,452.4 385.5,451.1 386,451.5 386.5,451.8 387,447.1 387.5,445.0 388,449.0 388.5,446.2 389,448.7 389.5,448.8 390,450.8 390.5,451.3 391,445.7 391.5,450.5 392,450.2 392.5,448.9 393,450.9 393.5,452.2 394,450.5 394.5,450.8 395,448.9 395.5,449.6 396,452.9 396.5,447.5 397,453.8 397.5,452.2 398,450.7 398.5,450.8 399,450.1 399.5,452.8 400,449.1 400.5,451.2 401,450.2 401.5,452.2 402,453.2 402.5,446.3 403,448.0 403.5,448.0 404,449.2 404.5,447.5 405,453.8 405.5,454.2 406,453.7 406.5,452.6 407,450.3 407.5,450.9 408,450.6 408.5,450.0 409,452.6 409.5,455.2 410,453.3 410.5,456.5 411,455.3 411.5,452.5 412,451.8 412.5,454.7 413,451.9 413.5,450.9 414,450.8 414.5,448.2 415,449.2 415.5,452.2 416,452.0 416.5,451.2 417,450.7 417.5,451.5 418,447.8 418.5,447.0 419,443.5 419.5,447.3 420,449.0 420.5,448.3 421,451.3 421.5,449.1 422,450.2 422.5,450.0 423,450.5 423.5,448.7 424,447.8 424.5,445.1 425,442.2 425.5,438.0 426,437.3 426.5,435.4 427,435.3 427.5,433.5 428,430.8 428.5,427.4 429,424.6 429.5,420.7 430,417.8 430.5,415.6 431,414.9 431.5,415.7 432,414.1 432.5,413.2 433,411.4 433.5,412.4 434,411.2 434.5,409.9 435,408.0 435.5,407.8 436,408.4 436.5,410.2 437,410.3 437.5,411.2 438,410.5 438.5,411.8 439,410.4 439.5,409.3 440,410.7 440.5,412.3 441,412.8 441.5,412.5 442,412.6 442.5,413.3 443,412.9 443.5,413.8 444,414.3 444.5,414.0 445,414.3 445.5,413.3 446,416.1 446.5,417.7 447,420.5 447.5,422.7 448,425.3 448.5,427.5 449,428.2 449.5,430.0 450,430.4 450.5,429.8 451,433.4 451.5,433.5 452,435.0 452.5,435.3 453,436.3 453.5,435.5 454,436.7 454.5,438.0 455,438.3 455.5,438.9 456,438.8 456.5,441.0 457,442.6 457.5,441.8 458,441.1 458.5,439.4 459,438.5 459.5,439.0 460,440.3 460.5,437.9 461,439.6 461.5,438.2 462,439.4 462.5,438.7 463,437.9 463.5,440.8 464,438.6 464.5,438.6 465,439.9 465.5,439.5 466,441.1 466.5,439.0 467,438.3 467.5,436.8 468,436.3 468.5,435.8 469,436.1 469.5,436.8 470,437.6 470.5,436.9 471,438.1 471.5,437.0 472,438.3 472.5,436.6 473,440.2 473.5,438.9 474,437.8 474.5,436.4 475,435.4 475.5,436.7 476,436.2 476.5,437.5 477,437.4 477.5,435.0 478,436.1 478.5,434.9 479,433.1 479.5,431.7 480,431.6 480.5,432.9 481,433.6 481.5,430.7 482,430.4 482.5,430.6 483,432.0 483.5,431.9 484,430.9 484.5,430.5 485,431.9 485.5,430.1 486,431.7 486.5,428.0 487,430.1 487.5,429.9 488,432.7 488.5,429.1 489,432.4 489.5,429.0 490,428.9 490.5,427.6 491,427.9 491.5,426.0 492,426.9 492.5,426.0 493,424.8 493.5,422.3 494,419.4 494.5,417.1 495,414.7 495.5,412.2 496,408.7 496.5,404.1 497,398.2 497.5,392.4 498,387.1 498.5,382.0 499,376.5 499.5,371.2 500,366.6 500.5,362.9 501,359.8 501.5,357.0 502,354.6 502.5,351.9 503,350.4 503.5,347.6 504,345.8 504.5,345.2 505,341.7 505.5,340.3 506,337.6 506.5,333.8 507,331.0 507.5,327.3 508,324.0 508.5,319.8 509,315.4 509.5,312.0 510,308.6 510.5,306.9 511,305.6 511.5,304.4 512,303.7 512.5,302.9 513,303.7 513.5,301.4 514,299.5 514.5,298.8 515,297.6 515.5,296.4 516,296.8 516.5,295.8 517,295.5 517.5,295.1 518,293.4 518.5,292.2 519,292.5 519.5,291.4 520,291.6 520.5,290.4 521,288.9 521.5,289.0 522,288.4 522.5,287.4 523,288.2 523.5,286.6 524,287.3 524.5,285.3 525,284.5 525.5,284.1 526,282.9 526.5,282.3 527,281.8 527.5,279.2 528,278.7 528.5,278.1 529,280.0 529.5,280.5 530,284.2 530.5,282.4 531,282.1 531.5,280.5 532,281.4 532.5,283.9 533,284.4 533.5,286.4 534,287.9 534.5,290.4 535,294.0 535.5,298.0 536,302.0 536.5,306.7 537,312.1 537.5,315.9 538,319.8 538.5,322.2 539,325.8 539.5,329.3 540,331.4 540.5,332.9 541,333.5 541.5,334.7 542,335.5 542.5,337.0 543,339.4 543.5,341.7 544,340.8 544.5,339.5 545,337.0 545.5,339.5 546,341.1 546.5,341.8 547,343.1 547.5,346.1 548,345.1 548.5,348.5 549,348.0 549.5,350.2 550,348.5 550.5,348.1 551,347.9 551.5,349.8 552,350.8 552.5,352.1 553,354.5 553.5,354.9 554,356.2 554.5,357.4 555,360.4 555.5,361.3 556,363.1 556.5,364.4 557,365.9 557.5,367.6 558,368.8 558.5,370.0 559,372.3 559.5,372.7 560,374.5 560.5,375.5 561,378.0 561.5,377.3 562,379.7 562.5,381.3 563,383.2 563.5,383.5 564,385.7 564.5,387.1 565,387.5 565.5,390.1 566,391.6 566.5,392.1 567,393.8 567.5,394.5 568,395.4 568.5,395.1 569,397.5 569.5,397.3 570,399.3 570.5,399.8 571,401.1 571.5,402.9 572,405.0 572.5,406.0 573,406.9 573.5,406.9 574,408.9 574.5,408.8 575,409.3 575.5,412.1 576,413.1 576.5,413.9 577,414.0 577.5,414.7 578,415.4 578.5,416.4 579,417.4 579.5,419.2 580,418.7 580.5,419.0 581,419.7 581.5,421.5 582,421.4 582.5,420.6 583,423.5 583.5,423.1 584,425.2 584.5,427.7 585,426.0 585.5,426.7 586,426.8 586.5,426.2 587,425.4 587.5,426.9 588,425.7 588.5,424.7 589,425.9 589.5,427.1 590,427.7 590.5,428.5 591,429.0 591.5,428.4 592,428.6 592.5,428.5 593,430.1 593.5,429.4 594,428.6 594.5,430.5 595,431.3 595.5,432.3 596,430.6 596.5,429.5 597,430.2 597.5,431.0 598,429.8 598.5,429.2 599,428.7 599.5,427.9 600,426.2 600.5,424.8 601,424.2 601.5,423.6 602,424.3 602.5,423.6 603,421.9 603.5,420.6 604,418.7 604.5,417.1 605,415.7 605.5,414.4 606,414.2 606.5,412.4 607,409.6 607.5,408.0 608,405.1 608.5,403.8 609,401.6 609.5,400.0 610,398.0 610.5,395.7 611,393.8 611.5,391.5 612,389.0 612.5,384.9 613,382.4 613.5,379.5 614,377.1 614.5,375.8 615,373.4 615.5,371.3 616,369.3 616.5,368.6 617,366.1 617.5,364.7 618,362.6 618.5,360.9 619,360.6 619.5,358.4 620,358.9 620.5,356.6 621,357.6 621.5,356.7 622,355.2 622.5,357.3 623,356.6 623.5,356.4 624,357.5 624.5,357.4 625,354.1 625.5,353.1 626,352.8 626.5,353.7 627,354.3 627.5,356.0 628,359.0 628.5,356.8 629,357.3 629.5,356.6 630,356.6 630.5,356.9 631,358.7 631.5,360.0 632,361.5 632.5,363.6 633,365.6 633.5,367.1 634,368.6 634.5,371.2 635,373.6 635.5,374.8 636,376.9 636.5,378.1 637,380.0 637.5,381.4 638,383.4 638.5,385.1 639,386.2 639.5,387.6 640,389.5 640.5,390.2 641,391.5 641.5,393.5 642,393.5 642.5,394.4 643,395.7 643.5,396.3 644,396.5 644.5,397.3 645,397.4 645.5,397.5 646,398.4 646.5,401.0 647,402.1 647.5,403.5 648,402.1 648.5,402.6 649,403.2 649.5,404.8 650,406.4 650.5,407.6 651,407.9 651.5,407.6 652,409.0 652.5,407.5 653,408.7 653.5,407.7 654,408.9 654.5,409.8 655,411.2 655.5,410.2 656,410.9 656.5,412.5 657,413.2 657.5,412.9 658,415.3 658.5,415.4 659,413.5 659.5,414.8 660,416.0 660.5,416.4 661,417.5 661.5,416.0 662,417.4 662.5,418.2 663,419.0 663.5,420.7 664,421.6 664.5,421.5 665,421.3 665.5,422.7 666,424.1 666.5,423.5 667,423.6 667.5,422.8 668,422.0 668.5,424.6 669,424.4 669.5,424.0 670,425.6 670.5,425.1 671,427.0 671.5,427.4 672,428.8 672.5,428.3 673,428.9 673.5,430.0 674,431.7 674.5,434.1 675,433.3 675.5,433.1 676,431.6 676.5,430.1 677,430.3 677.5,431.0 678,431.4 678.5,431.6 679,431.2 679.5,432.3 680,434.4 680.5,434.4 681,435.1 681.5,434.4 682,433.8 682.5,434.9 683,435.2 683.5,436.7 684,437.7 684.5,438.2 685,439.4 685.5,438.9 686,437.8 686.5,438.3 687,436.7 687.5,439.1 688,440.5 688.5,440.5 689,440.4 689.5,439.8 690,439.2 690.5,438.2 691,439.4 691.5,439.1 692,440.2 692.5,438.2 693,436.4 693.5,437.2 694,435.9 694.5,436.0 695,436.4 695.5,438.3 696,438.0 696.5,435.7 697,434.2 697.5,432.5 698,432.8 698.5,430.9 699,429.5 699.5,429.5 700,427.4 700.5,424.9 701,424.3 701.5,422.3 702,421.7 702.5,419.9 703,417.8 703.5,416.6 704,416.1 704.5,415.0 705,413.4 705.5,413.0 706,410.7 706.5,409.8 707,411.2 707.5,410.0 708,409.0 708.5,410.5 709,410.0 709.5,408.7 710,407.0 710.5,406.8 711,405.9 711.5,403.6 712,404.8 712.5,404.8 713,403.6 713.5,403.7 714,403.9 714.5,405.2 715,406.2 715.5,407.0 716,406.1 716.5,409.5 717,408.7 717.5,409.9 718,409.8 718.5,410.7 719,409.9 719.5,410.3 720,411.3 720.5,411.2 721,412.5 721.5,408.5 722,409.0 722.5,408.2 723,411.3 723.5,410.1 724,413.4 724.5,412.0 725,412.9 725.5,409.5 726,408.8 726.5,407.2 727,408.9 727.5,409.4 728,411.2 728.5,409.6 729,410.5 729.5,411.3 730,408.6 730.5,406.7 731,405.7 731.5,405.4 732,408.5 732.5,410.7 733,411.1 733.5,412.6 734,410.6 734.5,410.6 735,410.6 735.5,411.0 736,410.9 736.5,412.1 737,412.0 737.5,412.8 738,413.9 738.5,414.5 739,416.7 739.5,415.8 740,417.1 740.5,416.5 741,418.3 741.5,418.6 742,420.1 742.5,420.4 743,421.4 743.5,422.1 744,424.7 744.5,425.3 745,426.4 745.5,427.9 746,430.9 746.5,432.4 747,435.6 747.5,437.6 748,438.5 748.5,439.3 749,440.3 749.5,442.2 750,443.4 750.5,442.9 751,442.1 751.5,443.6 752,444.4 752.5,444.8 753,444.3 753.5,445.7 754,446.9 754.5,448.4 755,449.5 755.5,449.0 756,451.0 756.5,450.1 757,449.5 757.5,449.4 758,450.4 758.5,452.8 759,452.4 759.5,450.9 760,450.6 760.5,450.4 761,450.6 761.5,449.2 762,450.6 762.5,451.8 763,452.1 763.5,453.6 764,454.4 764.5,453.7 765,452.9 765.5,454.9 766,455.0 766.5,456.1 767,455.7 767.5,454.4 768,453.8 768.5,452.8 769,452.4 769.5,450.8 770,454.6 770.5,459.9 771,460.7 771.5,460.3 772,455.0 772.5,459.7 773,460.7 773.5,457.2 774,458.0 774.5,454.2 775,458.9 775.5,462.0 776,467.2 776.5,466.4 777,459.3 777.5,462.1 778,462.8 778.5,461.1 779,461.3 779.5,462.7 780,465.7 780.5,467.3 781,464.5 781.5,462.7 782,462.4 782.5,458.6 783,455.8 783.5,452.7 784,455.8 784.5,461.2 785,457.1 785.5,456.1 786,460.7 786.5,459.2 787,460.0 787.5,460.1 788,458.6 788.5,463.0 789,463.1 789.5,464.3 790,459.5 790.5,461.1 791,459.0 791.5,462.8 792,458.6 792.5,462.9 793,465.3 793.5,458.5 794,459.9 794.5,456.5 795,463.1 795.5,465.0 796,464.5 796.5,464.3 797,465.2 797.5,469.5 798,464.5 798.5,455.0 799,455.1 799.5,454.6 800,460.5 800.5,460.8 801,459.4 801.5,458.2 802,459.3 802.5,468.8 803,467.1 803.5,468.2 804,461.7 804.5,463.3 805,465.7 805.5,463.5 806,459.5 806.5,461.2 807,459.1 807.5,464.9 808,462.4 808.5,460.7 809,461.5 809.5,462.5 810,456.9 810.5,459.4 811,459.6 811.5,463.2 812,464.2 812.5,464.0 813,462.9 813.5,467.7 814,466.6 814.5,464.6 815,466.0 815.5,459.9 816,460.6 816.5,460.3 817,458.8 817.5,458.5 818,459.3 818.5,458.3 819,465.0 819.5,465.2 820,463.2 820.5,464.0 821,461.9 821.5,464.4 822,465.4 822.5,463.7 823,466.6 823.5,461.1 824,461.2 824.5,457.9 825,464.2 825.5,465.4 826,463.6 826.5,470.9 827,468.5 827.5,464.4 828,463.8 828.5,466.3 829,464.6 829.5,468.7 830,467.6 830.5,466.5 831,462.5 831.5,469.1 832,466.3 832.5,468.9 833,465.7 833.5,463.3 834,462.4 834.5,463.3 835,463.7 835.5,458.8 836,460.1 836.5,463.2 837,461.2 837.5,460.1 838,463.8 838.5,458.5 839,463.4 839.5,462.3 840,459.4 840.5,461.5 841,459.6 841.5,462.7 842,462.0 842.5,462.9 843,462.5 843.5,462.5 844,462.5 844.5,457.8 845,462.0 845.5,466.4 846,468.6 846.5,469.4 847,469.3 847.5,469.1 848,463.6 848.5,465.0 849,462.3 849.5,465.1 850,464.7 850.5,468.3 851,459.7 851.5,458.5 852,451.4 852.5,459.1 853,454.4 853.5,454.7 854,458.2 854.5,460.5 855,464.6 855.5,463.0 856,469.8 856.5,462.0 857,462.6 857.5,463.2 858,462.5 858.5,460.4 859,466.2 859.5,464.3 860,464.1 860.5,460.6 861,464.1 861.5,463.4 862,464.5 862.5,471.8 863,472.6 863.5,469.3 864,463.6 864.5,462.3 865,461.6 865.5,459.8 866,464.8 866.5,464.6 867,462.9 867.5,472.2 868,470.8 868.5,470.5 869,470.2 869.5,466.1 870,462.2 870.5,461.8 871,464.6 871.5,466.3 872,469.8 872.5,475.8 873,474.5 873.5,469.5 874,469.7 874.5,463.5 875,460.7 875.5,463.8 876,462.5 876.5,461.4 877,466.8 877.5,463.7 878,465.5 878.5,462.6 879,464.9 879.5,461.6 880,462.6 880.5,460.2 881,460.1 881.5,457.0 882,457.2 882.5,456.7 883,466.4 883.5,465.6 884,468.5 884.5,462.5 885,461.4 885.5,459.0 886,461.2 886.5,464.5 887,459.3 887.5,460.2 888,462.1 888.5,459.8 889,461.7 889.5,463.2 890,459.6 890.5,459.2 891,463.6 891.5,464.9 892,472.2 892.5,471.0 893,466.4 893.5,464.1 894,463.2 894.5,463.6 895,468.5 895.5,466.8 896,464.0 896.5,458.9 897,465.6 897.5,462.6 898,462.8 898.5,459.7 899,457.3 899.5,461.3 900,465.6 900.5,467.4 901,467.0 901.5,468.7 902,467.2 902.5,470.5 903,463.0 903.5,466.8 904,465.8 904.5,464.5 905,468.4 905.5,463.8 906,466.4 906.5,470.8 907,468.3 907.5,467.9 908,463.6 908.5,460.6 909,458.7 909.5,454.7 910,460.0 910.5,460.8 911,465.8 911.5,463.9 912,464.5 912.5,465.3 913,466.0 913.5,459.7 914,455.6 914.5,452.1 915,452.4 915.5,453.1 916,459.5 916.5,469.8 917,472.4 917.5,470.1 918,463.4 918.5,469.0 919,465.7 919.5,466.6 920,466.4 920.5,463.8 921,461.1 921.5,461.0 922,458.2 922.5,460.9 923,459.2 923.5,460.3 924,461.2 924.5,470.9 925,466.4 925.5,470.2 926,467.5 926.5,466.1 927,467.6 927.5,471.8 928,472.4 928.5,471.4 929,471.5 929.5,467.1 930,468.2 930.5,466.2 931,467.3 931.5,464.9 932,468.9 932.5,466.6 933,460.7 933.5,463.3 934,468.4 934.5,469.6 935,465.9 935.5,464.5 936,468.0 936.5,466.9 937,465.8 937.5,463.8 938,470.8 938.5,465.6 939,463.6 939.5,462.9 940,463.2 940.5,461.8 941,465.0 941.5,467.5 942,466.4 942.5,463.3 943,463.6 943.5,459.5 944,458.9 944.5,462.2 945,464.1 945.5,464.5 946,468.7 946.5,468.3 947,469.8 947.5,465.1 948,456.8 948.5,452.6 949,456.7 949.5,458.8 950,465.8 950.5,459.8 951,459.1 951.5,459.8 952,461.8 952.5,460.3 953,461.4 953.5,459.6 954,458.1 954.5,458.5 955,461.0 955.5,462.1 956,462.0 956.5,458.7 957,458.6 957.5,460.3 958,462.5 958.5,459.6 959,465.2 959.5,460.9 960,460.2 960.5,453.5 961,451.5 961.5,454.1 962,456.3 962.5,455.9 963,452.5 963.5,454.3 964,453.4 964.5,452.3 965,454.0 965.5,450.9 966,456.5 966.5,456.9 967,454.4 967.5,455.8 968,455.3 968.5,452.1 969,456.9 969.5,459.2 970,456.3 970.5,451.3 971,450.7 971.5,448.9 972,451.7 972.5,450.5 973,456.1 973.5,450.4 974,451.6 974.5,450.4 975,447.3 975.5,449.4 976,454.9 976.5,456.3 977,454.3 977.5,455.0 978,456.2 978.5,457.5 979,459.8 979.5,459.6 980,456.3 980.5,458.9 981,459.3 981.5,459.5 982,460.1 982.5,456.8 983,454.0 983.5,456.7 984,456.8 984.5,457.4 985,463.5 985.5,465.3 986,463.1 986.5,462.4 987,459.9 987.5,457.6 988,455.3 988.5,461.9 989,461.3 989.5,461.0 990,462.1 990.5,463.6 991,471.2 991.5,458.9 992,456.7 992.5,453.6 993,457.8 993.5,457.2 994,457.4 994.5,455.6 995,452.6 995.5,452.1 996,453.2 996.5,455.6 997,462.0 997.5,462.8 998,462.7 998.5,455.0 999,460.0 999.5,458.7 1000,461.2 1000.5,461.3 1001,458.0 1001.5,459.8 1002,460.3 1002.5,458.6 1003,456.1 1003.5,457.8 1004,455.7 1004.5,455.9 1005,460.3 1005.5,459.5 1006,458.2 1006.5,452.6 1007,461.3 1007.5,463.8 1008,462.6 1008.5,460.2 1009,461.2 1009.5,464.6 1010,464.3 1010.5,461.6 1011,460.9 1011.5,462.5 1012,459.6 1012.5,461.7 1013,463.4 1013.5,463.3 1014,468.2 1014.5,470.1 1015,470.3 1015.5,469.8 1016,465.9 1016.5,465.6 1017,464.6 1017.5,466.7 1018,461.8 1018.5,462.4 1019,463.0 1019.5,457.8 1020,458.9 1020.5,460.9 1021,463.5 1021.5,459.9 1022,460.6 1022.5,460.0 1023,458.0 1023.5,459.5 1024,463.9 1024.5,465.4 1025,466.8 1025.5,469.7 1026,465.2 1026.5,467.1 1027,462.2 1027.5,466.2 1028,465.4 1028.5,465.7 1029,467.9 1029.5,470.6 1030,468.4 1030.5,468.5 1031,464.8 1031.5,464.6 1032,460.3 1032.5,455.1 1033,451.6 1033.5,454.0 1034,457.8 1034.5,461.4 1035,459.3 1035.5,467.4 1036,470.9 1036.5,470.3 1037,469.3 1037.5,465.8 1038,465.6 1038.5,469.6 1039,467.4 1039.5,472.3 1040,470.2 1040.5,468.3 1041,460.4 1041.5,452.5 1042,452.5 1042.5,455.1 1043,461.0 1043.5,465.0 1044,460.9 1044.5,464.6 1045,461.3 1045.5,459.9 1046,461.8 1046.5,465.0 1047,462.3 1047.5,465.1 1048,460.5 1048.5,459.4 1049,460.1 1049.5,461.5 1050,462.9 1050.5,465.1 1051,464.7 1051.5,468.6 1052,463.3 1052.5,466.5 1053,469.7 1053.5,464.3 1054,463.4 1054.5,462.4 1055,466.3 1055.5,468.5 1056,473.1 1056.5,473.1 1057,474.0 1057.5,470.3 1058,464.0 1058.5,466.1 1059,463.3 1059.5,462.8 1060,468.0 1060.5,468.0 1061,468.5 1061.5,469.8 1062,466.7 1062.5,469.3 1063,462.0 1063.5,461.2 1064,464.2 1064.5,460.2 1065,466.0 1065.5,469.8 1066,470.1 1066.5,469.0 1067,466.6 1067.5,466.6 1068,467.8 1068.5,469.1 1069,468.7 1069.5,465.2 1070,464.8 1070.5,464.9 1071,465.2 1071.5,469.4 1072,465.1 1072.5,462.9 1073,467.4 1073.5,465.0 1074,466.0 1074.5,461.9 1075,462.6 1075.5,462.8 1076,465.7 1076.5,463.6 1077,465.9 1077.5,463.9 1078,464.3 1078.5,463.1 1079,464.2 1079.5,462.3 1080,461.9 1080.5,467.7 1081,469.3 1081.5,469.6 1082,470.7 1082.5,470.8 1083,466.6 1083.5,465.4 1084,462.5 1084.5,464.2 1085,466.7 1085.5,461.0 1086,468.4 1086.5,470.0 1087,468.8 1087.5,469.7 1088,469.3 1088.5,470.5 1089,471.7 1089.5,467.5 1090,469.7 1090.5,464.1 1091,464.1 1091.5,465.5 1092,470.4 1092.5,465.1 1093,471.7 1093.5,469.4 1094,471.4 1094.5,470.2 1095,472.1 1095.5,468.7 1096,465.3 1096.5,471.2 1097,473.3 1097.5,474.5 1098,473.0 1098.5,467.8 1099,471.1 1099.5,468.3 1100,469.5 1100.5,470.6 1101,465.4 1101.5,468.4 1102,467.8 1102.5,469.0 1103,468.7 1103.5,466.8 1104,467.2 1104.5,464.1 1105,461.1 1105.5,460.4 1106,465.4 1106.5,463.6 1107,464.3 1107.5,464.7 1108,467.4 1108.5,461.7 1109,461.6 1109.5,461.6 1110,464.1 1110.5,464.4 1111,470.4 1111.5,466.7 1112,466.7 1112.5,472.5 1113,470.9 1113.5,472.7 1114,471.0 1114.5,472.4 1115,468.4 1115.5,469.5 1116,468.1 1116.5,470.1 1117,467.4 1117.5,469.7 1118,465.4 1118.5,468.7 1119,467.8 1119.5,462.9 1120,463.0 1120.5,463.1 1121,462.6 1121.5,465.0 1122,468.2 1122.5,462.7 1123,467.8 1123.5,465.8 1124,470.9 1124.5,468.4 1125,468.4 1125.5,467.3 1126,473.9 1126.5,471.7 1127,467.2 1127.5,463.0 1128,459.4 1128.5,466.7 1129,463.1 1129.5,468.1 1130,466.8 1130.5,467.8 1131,462.2 1131.5,462.4 1132,465.5 1132.5,468.5 1133,462.8 1133.5,471.6 1134,470.7 1134.5,468.1 1135,468.8 1135.5,467.6 1136,469.4 1136.5,471.1 1137,467.1 1137.5,470.1 1138,465.9 1138.5,467.1 1139,466.0 1139.5,469.6 1140,465.6 1140.5,463.1 1141,457.7 1141.5,460.0 1142,460.7 1142.5,457.5 1143,464.6 1143.5,465.5 1144,468.4 1144.5,475.1 1145,470.1 1145.5,477.6 1146,472.8 1146.5,473.0 1147,468.4 1147.5,465.6 1148,464.0 1148.5,466.3 1149,465.1 1149.5,463.3 1150,464.1 1150.5,468.2 1151,467.8 1151.5,466.8 1152,468.4 1152.5,465.7 1153,464.1 1153.5,464.4 1154,467.2 1154.5,460.8 1155,457.7 1155.5,454.9 1156,458.7 1156.5,457.8 1157,463.9 1157.5,459.7 1158,462.5 1158.5,460.4 1159,460.1 1159.5,465.0 1160,461.1 1160.5,461.5 1161,469.2 1161.5,466.9 1162,462.9 1162.5,461.4 1163,464.8 1163.5,463.7 1164,459.6 1164.5,462.3 1165,460.0 1165.5,461.8 1166,462.3 1166.5,461.5 1167,461.1 1167.5,463.5 1168,458.9 1168.5,457.6 1169,452.3 1169.5,456.4 1170,456.7 1170.5,459.2 1171,457.4 1171.5,457.4 1172,455.7 1172.5,459.6 1173,458.5 1173.5,461.3 1174,457.0 1174.5,459.7 1175,453.9 1175.5,454.9 1176,452.7 1176.5,452.3 1177,449.7 1177.5,451.6 1178,455.7 1178.5,455.2 1179,454.5 1179.5,452.8 1180,451.3 1180.5,450.3 1181,449.5 1181.5,446.0 1182,453.1 1182.5,450.2 1183,453.8 1183.5,451.8 1184,449.2 1184.5,448.2 1185,449.8 1185.5,446.5 1186,445.9 1186.5,446.1 1187,449.0 1187.5,446.2 1188,448.7 1188.5,446.3 1189,446.4 1189.5,443.9 1190,444.2 1190.5,447.8 1191,447.5 1191.5,448.6 1192,443.5 1192.5,448.3 1193,449.0 1193.5,451.5 1194,449.1 1194.5,450.7 1195,450.8 1195.5,450.6 1196,448.7 1196.5,449.6 1197,454.7 1197.5,454.7 1198,451.6 1198.5,450.4 1199,451.2 1199.5,448.4 1200,453.0 1200.5,452.6 1201,455.4 1201.5,458.2 1202,460.1 1202.5,459.4 1203,461.7 1203.5,455.1 1204,457.8 1204.5,455.0 1205,457.2 1205.5,454.5 1206,452.6 1206.5,456.7 1207,453.7 1207.5,452.9 1208,450.6 1208.5,453.9 1209,451.9 1209.5,452.9 1210,455.6 1210.5,450.7 1211,447.7 1211.5,452.4 1212,453.5 1212.5,455.5 1213,450.5 1213.5,453.0 1214,454.0 1214.5,456.3 1215,460.6 1215.5,458.5 1216,456.2 1216.5,453.3 1217,452.5 1217.5,452.8 1218,451.9 1218.5,450.5 1219,450.3 1219.5,453.3 1220,452.4 1220.5,455.9 1221,453.2 1221.5,455.3 1222,451.9 1222.5,456.6 1223,455.3 1223.5,457.5 1224,457.1 1224.5,457.9 1225,460.2 1225.5,459.3 1226,459.2 1226.5,459.1 1227,457.0 1227.5,459.9 1228,464.2 1228.5,464.6 1229,460.2 1229.5,463.9 1230,463.7 1230.5,460.5 1231,461.0 1231.5,460.3 1232,456.5 1232.5,461.2 1233,458.0 1233.5,457.0 1234,464.4 1234.5,460.5 1235,456.9 1235.5,457.7 1236,457.9 1236.5,458.1 1237,456.6 1237.5,454.7 1238,452.6 1238.5,450.5 1239,449.6 1239.5,448.2 1240,446.7 1240.5,447.0 1241,445.3 1241.5,443.3 1242,445.5 1242.5,445.4 1243,441.1 1243.5,441.8 1244,441.8 1244.5,440.0 1245,438.3 1245.5,437.0 1246,438.0 1246.5,436.2 1247,430.4 1247.5,429.8 1248,430.0 1248.5,434.5 1249,440.4 1249.5,434.3 1250,436.4 1250.5,434.9 1251,435.3 1251.5,435.9 1252,438.9 1252.5,437.4 1253,436.3 1253.5,434.7 1254,436.7 1254.5,437.4 1255,437.9 1255.5,437.7 1256,439.0 1256.5,441.3 1257,445.3 1257.5,446.0 1258,444.9 1258.5,445.1 1259,445.2 1259.5,448.1 1260,449.4 1260.5,451.3 1261,452.1 1261.5,453.9 1262,454.5 1262.5,455.5 1263,456.1 1263.5,461.8 1264,463.3 1264.5,465.1 1265,468.6 1265.5,466.8 1266,465.6 1266.5,464.3 1267,462.5 1267.5,457.8 1268,457.9 1268.5,456.6 1269,459.3 1269.5,457.3 1270,457.7 1270.5,461.1 1271,460.0 1271.5,467.5 1272,466.1 1272.5,467.4 1273,468.1 1273.5,461.1 1274,464.8 1274.5,463.8 1275,460.5 1275.5,463.0 1276,460.6 1276.5,456.7 1277,454.7 1277.5,456.9 1278,459.5 1278.5,456.5 1279,459.1 1279.5,461.4 1280,464.3 1280.5,462.6 1281,471.5 1281.5,472.8 1282,466.7 1282.5,470.4 1283,462.7 1283.5,465.4 1284,469.8 1284.5,459.7 1285,465.6 1285.5,463.9 1286,468.1 1286.5,469.6 1287,473.5 1287.5,471.4 1288,465.0 1288.5,464.2 1289,459.7 1289.5,464.6 1290,458.3 1290.5,464.2 1291,464.4 1291.5,465.0 1292,463.5 1292.5,466.3 1293,462.7 1293.5,463.6 1294,459.8 1294.5,461.7 1295,460.9 1295.5,461.9 1296,460.2 1296.5,460.3 1297,458.3 1297.5,462.9 1298,464.7 1298.5,464.4 1299,465.4 1299.5,461.1 1300,463.7 1300.5,467.4 1301,462.0 1301.5,457.6 1302,455.4 1302.5,448.4 1303,454.4 1303.5,456.9 1304,460.2 1304.5,460.2 1305,463.6 1305.5,461.7 1306,465.6 1306.5,468.4 1307,468.9 1307.5,463.5 1308,467.0 1308.5,461.3 1309,459.8 1309.5,460.6 1310,459.5 1310.5,457.9 1311,459.0 1311.5,461.6 1312,463.7 1312.5,464.2 1313,458.9 1313.5,456.7 1314,457.6 1314.5,458.3 1315,458.9 1315.5,458.4 1316,460.2 1316.5,461.3 1317,460.7 1317.5,462.2 1318,463.8 1318.5,465.0 1319,475.1 1319.5,471.1 1320,468.4 1320.5,466.7 1321,460.6 1321.5,456.2 1322,453.8 1322.5,458.9 1323,458.0 1323.5,459.1 1324,461.0 1324.5,462.0 1325,460.6 1325.5,455.7 1326,460.0 1326.5,461.2 1327,456.6 1327.5,457.3 1328,460.0 1328.5,455.8 1329,458.5 1329.5,463.2 1330,465.6 1330.5,466.7 1331,463.7 1331.5,462.6 1332,459.2 1332.5,459.5 1333,460.3 1333.5,458.6 1334,459.0 1334.5,457.1 1335,454.8 1335.5,457.6 1336,458.4 1336.5,461.9 1337,461.0 1337.5,462.3 1338,466.1 1338.5,466.1 1339,461.1 1339.5,460.3 1340,457.2 1340.5,457.6 1341,461.2 1341.5,459.7 1342,459.0 1342.5,461.1 1343,460.0 1343.5,459.6 1344,456.7 1344.5,460.3 1345,457.0 1345.5,463.4 1346,454.8 1346.5,457.4 1347,452.8 1347.5,454.0 1348,462.8 1348.5,463.6 1349,457.5 1349.5,454.1 1350,455.8 1350.5,454.7 1351,456.6 1351.5,458.3 1352,458.1 1352.5,457.1 1353,458.3 1353.5,453.4 1354,451.5 1354.5,449.5 1355,451.0 1355.5,452.1 1356,454.7 1356.5,453.5 1357,453.4 1357.5,454.0 1358,456.4 1358.5,453.8 1359,452.8 1359.5,446.7 1360,450.5 1360.5,452.1 1361,455.9 1361.5,458.3 1362,455.8 1362.5,452.5 1363,454.8 1363.5,458.2 1364,457.2 1364.5,458.6 1365,461.1 1365.5,460.6 1366,462.9 1366.5,462.9 1367,459.5 1367.5,457.5 1368,455.0 1368.5,455.1 1369,454.8 1369.5,451.8 1370,455.8 1370.5,457.1 1371,461.2 1371.5,458.4 1372,458.2 1372.5,455.0 1373,456.9 1373.5,454.9 1374,458.4 1374.5,455.6 1375,454.5 1375.5,458.1 1376,458.2 1376.5,454.8 1377,452.7 1377.5,455.4 1378,456.2 1378.5,458.1 1379,457.4 1379.5,455.1 1380,457.8 1380.5,458.8 1381,456.8 1381.5,457.6 1382,456.7 1382.5,452.3 1383,447.1 1383.5,449.9 1384,452.6 1384.5,452.4 1385,453.8 1385.5,451.5 1386,449.8 1386.5,450.9 1387,448.3 1387.5,448.7 1388,453.4 1388.5,450.9 1389,450.2 1389.5,447.9 1390,448.0 1390.5,451.7 1391,448.7 1391.5,452.0 1392,449.0 1392.5,451.0 1393,453.8 1393.5,454.2 1394,453.8 1394.5,450.4 1395,450.8 1395.5,456.0 1396,456.8 1396.5,453.1 1397,449.8 1397.5,448.6 1398,446.0 1398.5,451.4 1399,448.0 1399.5,449.5 1400,446.2 1400.5,446.3 1401,447.2 1401.5,444.2 1402,447.0 1402.5,448.3 1403,446.1 1403.5,444.1 1404,448.4 1404.5,446.6 1405,443.7 1405.5,445.0 1406,445.2 1406.5,442.2 1407,443.7 1407.5,443.8 1408,440.7 1408.5,444.1 1409,440.7 1409.5,439.4 1410,436.8 1410.5,438.9 1411,440.1 1411.5,439.4 1412,437.0 1412.5,435.1 1413,434.4 1413.5,433.0 1414,432.4 1414.5,431.9 1415,428.8 1415.5,428.2 1416,427.2 1416.5,424.6 1417,422.9 1417.5,420.8 1418,418.0 1418.5,414.9 1419,411.7 1419.5,408.8 1420,405.6 1420.5,402.8 1421,400.4 1421.5,396.8 1422,394.0 1422.5,390.8 1423,388.0 1423.5,384.2 1424,380.6 1424.5,377.1 1425,374.8 1425.5,371.7 1426,369.0 1426.5,366.2 1427,363.1 1427.5,360.1 1428,356.6 1428.5,353.6 1429,350.9 1429.5,348.0 1430,345.4 1430.5,342.7 1431,340.6 1431.5,338.3 1432,336.0 1432.5,333.9 1433,331.4 1433.5,329.4 1434,327.5 1434.5,327.1 1435,325.6 1435.5,325.5 1436,325.3 1436.5,325.2 1437,324.7 1437.5,324.6 1438,324.0 1438.5,321.1 1439,322.1 1439.5,321.4 1440,319.9 1440.5,320.6 1441,319.4 1441.5,320.0 1442,318.3 1442.5,317.6 1443,317.4 1443.5,316.5 1444,316.9 1444.5,314.6 1445,313.9 1445.5,311.5 1446,312.4 1446.5,312.1 1447,310.8 1447.5,309.8 1448,307.7 1448.5,306.7 1449,305.0 1449.5,303.7 1450,302.8 1450.5,302.3 1451,301.7 1451.5,303.9 1452,303.3 1452.5,303.1 1453,302.8 1453.5,302.9 1454,305.0 1454.5,306.3 1455,309.4 1455.5,310.2 1456,311.0 1456.5,312.8 1457,314.4 1457.5,317.1 1458,319.4 1458.5,323.6 1459,328.1 1459.5,332.3 1460,337.1 1460.5,341.8 1461,346.3 1461.5,350.6 1462,355.8 1462.5,360.1 1463,364.4 1463.5,367.9 1464,370.2 1464.5,372.0 1465,373.9 1465.5,374.9 1466,376.2 1466.5,377.1 1467,378.6 1467.5,379.9 1468,380.5 1468.5,381.3 1469,382.2 1469.5,382.2 1470,380.9 1470.5,380.6 1471,381.7 1471.5,382.2 1472,380.5 1472.5,381.8 1473,382.1 1473.5,383.3 1474,383.5 1474.5,383.0 1475,383.7 1475.5,382.3 1476,383.5 1476.5,385.2 1477,385.5 1477.5,385.3 1478,386.0 1478.5,386.4 1479,387.8 1479.5,385.5 1480,385.6 1480.5,385.3 1481,385.4 1481.5,384.1 1482,385.7 1482.5,384.7 1483,385.1 1483.5,385.2 1484,386.3 1484.5,385.1 1485,384.8 1485.5,386.3 1486,385.6 1486.5,385.9 1487,386.5 1487.5,385.7 1488,387.0 1488.5,386.0 1489,387.8 1489.5,387.1 1490,388.0 1490.5,386.5 1491,388.2 1491.5,388.8 1492,387.2 1492.5,388.6 1493,387.9 1493.5,386.7 1494,387.1 1494.5,386.9 1495,388.3 1495.5,388.0 1496,390.0 1496.5,389.3 1497,388.3 1497.5,388.1 1498,389.9 1498.5,390.0 1499,391.4 1499.5,390.8 1500,390.1 1500.5,391.6 1501,391.3 1501.5,391.4 1502,391.4 1502.5,391.1 1503,390.7 1503.5,389.6 1504,391.3 1504.5,392.4 1505,392.2 1505.5,393.2 1506,394.4 1506.5,394.0 1507,392.8 1507.5,392.9 1508,393.4 1508.5,393.8 1509,396.4 1509.5,395.8 1510,397.1 1510.5,396.5 1511,398.8 1511.5,397.9 1512,398.4 1512.5,397.2 1513,398.6 1513.5,399.1 1514,400.3 1514.5,400.2 1515,400.5 1515.5,400.9 1516,401.6 1516.5,401.6 1517,402.6 1517.5,402.4 1518,404.5 1518.5,405.3 1519,404.9 1519.5,404.2 1520,404.5 1520.5,402.9 1521,403.7 1521.5,403.9 1522,404.5 1522.5,406.5 1523,407.6 1523.5,408.4 1524,407.8 1524.5,408.5 1525,407.5 1525.5,409.0 1526,409.6 1526.5,409.9 1527,410.2 1527.5,410.6 1528,411.7 1528.5,413.6 1529,412.8 1529.5,412.7 1530,412.4 1530.5,412.4 1531,413.3 1531.5,414.4 1532,414.2 1532.5,415.0 1533,415.1 1533.5,416.0 1534,416.1 1534.5,416.9 1535,417.6 1535.5,418.3 1536,418.7 1536.5,418.3 1537,419.3 1537.5,418.9 1538,420.2 1538.5,420.9 1539,421.6 1539.5,422.2 1540,421.2 1540.5,421.7 1541,422.3 1541.5,422.1 1542,423.1 1542.5,423.3 1543,423.8 1543.5,422.9 1544,424.5 1544.5,424.0 1545,425.8 1545.5,426.2 1546,427.2 1546.5,426.6 1547,427.7 1547.5,427.2 1548,427.9 1548.5,427.7 1549,428.7 1549.5,428.8 1550,428.8 1550.5,429.2 1551,430.2 1551.5,429.7 1552,432.3 1552.5,432.8 1553,432.3 1553.5,432.7 1554,432.8 1554.5,433.8 1555,434.0 1555.5,434.5 1556,435.6 1556.5,435.1 1557,436.2 1557.5,436.7 1558,437.7 1558.5,438.0 1559,438.7 1559.5,438.6" fill="none" stroke="#008080" stroke-width="3.4" stroke-linejoin="round" stroke-linecap="butt"/>
<polyline points="168,270.8 168.5,270.8 169,270.3 169.5,270.9 170,273.8 170.5,274.5 171,273.4 171.5,273.1 172,272.2 172.5,273.5 173,273.8 173.5,273.4 174,272.6 174.5,272.4 175,271.0 175.5,269.1 176,269.4 176.5,271.8 177,273.4 177.5,274.9 178,274.2 178.5,274.1 179,273.7 179.5,274.4 180,271.6 180.5,270.5 181,272.5 181.5,273.9 182,270.8 182.5,271.0 183,270.9 183.5,271.6 184,273.8 184.5,275.3 185,277.2 185.5,274.6 186,275.3 186.5,272.5 187,273.7 187.5,273.3 188,271.9 188.5,273.5 189,270.7 189.5,271.5 190,276.0 190.5,273.6 191,272.8 191.5,274.6 192,274.6 192.5,273.7 193,273.4 193.5,273.1 194,272.5 194.5,274.0 195,270.2 195.5,271.2 196,273.0 196.5,275.3 197,274.6 197.5,274.4 198,274.7 198.5,273.2 199,272.3 199.5,274.8 200,276.0 200.5,275.8 201,274.6 201.5,275.9 202,278.0 202.5,274.9 203,274.8 203.5,275.4 204,274.3 204.5,276.8 205,277.4 205.5,279.1 206,278.2 206.5,276.1 207,275.7 207.5,274.4 208,272.7 208.5,273.4 209,274.7 209.5,273.5 210,270.7 210.5,272.4 211,270.9 211.5,273.3 212,276.2 212.5,275.7 213,273.6 213.5,274.2 214,273.2 214.5,273.9 215,275.3 215.5,277.4 216,277.2 216.5,275.4 217,275.4 217.5,273.5 218,274.1 218.5,272.4 219,274.4 219.5,274.0 220,276.9 220.5,274.7 221,274.1 221.5,273.8 222,272.8 222.5,274.3 223,273.3 223.5,276.6 224,276.3 224.5,276.7 225,276.8 225.5,280.7 226,280.4 226.5,279.9 227,277.6 227.5,278.2 228,275.8 228.5,276.2 229,274.9 229.5,277.0 230,275.1 230.5,278.3 231,278.1 231.5,279.6 232,277.4 232.5,276.2 233,276.2 233.5,276.2 234,279.4 234.5,277.8 235,278.5 235.5,277.8 236,275.9 236.5,275.3 237,276.2 237.5,276.2 238,277.8 238.5,276.9 239,276.5 239.5,277.9 240,276.1 240.5,277.5 241,278.7 241.5,275.1 242,277.0 242.5,276.7 243,278.2 243.5,276.8 244,277.7 244.5,275.9 245,278.0 245.5,280.4 246,277.5 246.5,275.2 247,278.7 247.5,275.9 248,276.9 248.5,278.6 249,279.6 249.5,279.1 250,279.6 250.5,277.3 251,278.3 251.5,276.8 252,278.6 252.5,275.7 253,276.2 253.5,278.0 254,277.3 254.5,278.2 255,277.3 255.5,276.2 256,277.1 256.5,278.2 257,278.2 257.5,275.2 258,276.8 258.5,277.4 259,277.7 259.5,278.7 260,280.0 260.5,279.6 261,280.7 261.5,279.9 262,281.0 262.5,280.9 263,280.9 263.5,280.3 264,280.4 264.5,280.1 265,279.3 265.5,279.1 266,277.3 266.5,281.0 267,281.8 267.5,279.8 268,279.7 268.5,278.0 269,278.3 269.5,279.9 270,279.9 270.5,282.2 271,283.1 271.5,284.8 272,283.6 272.5,280.9 273,282.5 273.5,281.8 274,282.4 274.5,283.5 275,279.7 275.5,279.0 276,279.7 276.5,282.2 277,281.2 277.5,281.8 278,282.1 278.5,280.4 279,280.7 279.5,279.1 280,280.6 280.5,283.2 281,279.7 281.5,280.9 282,284.0 282.5,284.0 283,282.0 283.5,279.9 284,280.7 284.5,281.4 285,284.7 285.5,283.2 286,287.2 286.5,284.3 287,282.6 287.5,282.3 288,278.1 288.5,281.9 289,282.1 289.5,282.0 290,282.6 290.5,281.4 291,281.2 291.5,279.8 292,280.3 292.5,278.2 293,279.9 293.5,283.0 294,282.0 294.5,281.8 295,278.9 295.5,282.8 296,283.0 296.5,282.9 297,284.9 297.5,284.1 298,282.4 298.5,283.6 299,281.0 299.5,280.2 300,282.2 300.5,284.1 301,279.4 301.5,279.4 302,281.7 302.5,281.6 303,281.5 303.5,279.6 304,276.2 304.5,279.6 305,278.6 305.5,276.6 306,277.6 306.5,281.0 307,280.5 307.5,278.8 308,274.5 308.5,275.7 309,278.7 309.5,278.5 310,275.6 310.5,271.1 311,275.4 311.5,274.6 312,278.0 312.5,276.8 313,277.6 313.5,281.3 314,283.0 314.5,285.8 315,285.2 315.5,284.0 316,279.1 316.5,279.2 317,279.1 317.5,278.7 318,279.1 318.5,279.6 319,279.3 319.5,282.1 320,279.8 320.5,279.4 321,281.1 321.5,277.4 322,278.3 322.5,282.9 323,283.1 323.5,284.8 324,283.0 324.5,282.2 325,277.8 325.5,280.4 326,280.7 326.5,280.8 327,283.0 327.5,279.0 328,283.7 328.5,284.7 329,285.2 329.5,285.5 330,284.5 330.5,288.0 331,286.3 331.5,285.9 332,284.4 332.5,284.3 333,285.1 333.5,285.9 334,285.4 334.5,283.3 335,283.0 335.5,280.9 336,286.3 336.5,285.2 337,287.8 337.5,288.6 338,291.7 338.5,287.6 339,288.3 339.5,287.6 340,287.0 340.5,286.9 341,286.8 341.5,283.5 342,283.6 342.5,285.4 343,285.3 343.5,282.9 344,283.8 344.5,284.4 345,286.5 345.5,288.3 346,285.4 346.5,285.2 347,281.7 347.5,281.2 348,282.6 348.5,285.7 349,286.5 349.5,287.1 350,286.5 350.5,285.5 351,286.8 351.5,283.5 352,287.1 352.5,288.2 353,288.6 353.5,291.0 354,289.3 354.5,286.9 355,286.3 355.5,286.4 356,282.7 356.5,286.4 357,287.9 357.5,283.7 358,290.7 358.5,289.3 359,288.6 359.5,286.2 360,285.8 360.5,284.0 361,281.9 361.5,286.0 362,287.1 362.5,286.9 363,286.4 363.5,286.8 364,286.7 364.5,287.1 365,291.2 365.5,286.6 366,291.5 366.5,286.3 367,282.8 367.5,285.0 368,287.4 368.5,284.4 369,287.5 369.5,287.0 370,288.9 370.5,288.7 371,290.4 371.5,288.0 372,282.0 372.5,285.4 373,287.5 373.5,287.3 374,288.9 374.5,286.8 375,285.5 375.5,288.4 376,287.7 376.5,287.7 377,282.9 377.5,284.5 378,280.8 378.5,283.8 379,281.1 379.5,286.4 380,284.2 380.5,279.5 381,285.1 381.5,286.3 382,287.2 382.5,285.8 383,287.2 383.5,285.4 384,286.6 384.5,288.2 385,284.9 385.5,286.0 386,287.0 386.5,285.5 387,283.7 387.5,281.0 388,281.6 388.5,285.1 389,287.4 389.5,287.3 390,287.8 390.5,289.1 391,289.0 391.5,290.3 392,292.7 392.5,291.6 393,289.4 393.5,285.1 394,287.5 394.5,288.7 395,289.2 395.5,288.8 396,288.9 396.5,285.8 397,289.1 397.5,287.3 398,290.0 398.5,288.5 399,288.9 399.5,290.6 400,286.7 400.5,287.9 401,288.7 401.5,287.5 402,285.1 402.5,283.6 403,289.7 403.5,285.4 404,289.9 404.5,287.8 405,286.2 405.5,288.2 406,285.9 406.5,286.5 407,288.3 407.5,285.8 408,286.9 408.5,286.6 409,284.2 409.5,287.5 410,290.8 410.5,288.2 411,291.6 411.5,292.3 412,285.0 412.5,286.2 413,282.9 413.5,286.8 414,286.9 414.5,286.8 415,285.5 415.5,283.4 416,287.5 416.5,287.4 417,293.5 417.5,289.2 418,290.1 418.5,287.1 419,286.2 419.5,286.9 420,288.3 420.5,285.6 421,286.0 421.5,285.6 422,284.7 422.5,284.0 423,281.4 423.5,279.3 424,276.2 424.5,273.1 425,273.3 425.5,271.3 426,269.5 426.5,267.9 427,265.6 427.5,264.9 428,262.6 428.5,260.9 429,260.0 429.5,257.8 430,255.8 430.5,254.6 431,253.8 431.5,252.3 432,251.8 432.5,250.1 433,249.6 433.5,249.4 434,246.3 434.5,246.4 435,246.1 435.5,245.1 436,243.4 436.5,243.6 437,245.2 437.5,243.9 438,244.8 438.5,244.8 439,244.9 439.5,246.6 440,247.7 440.5,248.9 441,247.8 441.5,247.7 442,247.8 442.5,248.3 443,248.0 443.5,249.0 444,249.6 444.5,253.0 445,255.2 445.5,256.5 446,258.3 446.5,260.3 447,260.9 447.5,264.0 448,266.1 448.5,268.9 449,272.0 449.5,273.6 450,275.8 450.5,276.3 451,276.1 451.5,276.3 452,275.9 452.5,273.3 453,274.8 453.5,275.6 454,278.1 454.5,278.1 455,279.4 455.5,279.8 456,278.8 456.5,278.9 457,278.8 457.5,278.6 458,277.7 458.5,279.0 459,280.4 459.5,278.5 460,277.5 460.5,276.1 461,276.2 461.5,276.2 462,279.1 462.5,278.9 463,280.3 463.5,278.8 464,277.4 464.5,277.0 465,275.3 465.5,278.6 466,277.8 466.5,277.7 467,278.6 467.5,278.7 468,277.6 468.5,277.8 469,277.7 469.5,279.2 470,279.8 470.5,280.2 471,280.4 471.5,279.5 472,279.2 472.5,281.0 473,283.1 473.5,280.2 474,280.2 474.5,278.2 475,279.7 475.5,278.9 476,277.7 476.5,277.8 477,276.4 477.5,277.0 478,276.4 478.5,276.0 479,275.8 479.5,277.9 480,277.4 480.5,273.8 481,272.1 481.5,271.7 482,272.6 482.5,272.1 483,274.9 483.5,274.1 484,272.7 484.5,273.8 485,272.3 485.5,271.5 486,272.4 486.5,272.0 487,271.1 487.5,271.6 488,269.8 488.5,270.6 489,269.9 489.5,271.5 490,269.1 490.5,268.0 491,265.7 491.5,264.5 492,265.0 492.5,262.6 493,262.4 493.5,261.5 494,261.8 494.5,262.0 495,260.0 495.5,258.1 496,256.8 496.5,255.4 497,253.8 497.5,251.9 498,250.2 498.5,246.2 499,241.5 499.5,236.0 500,230.3 500.5,225.5 501,221.1 501.5,216.6 502,212.0 502.5,208.0 503,203.9 503.5,200.1 504,196.4 504.5,193.4 505,190.4 505.5,187.5 506,181.5 506.5,173.6 507,168.5 507.5,165.1 508,161.9 508.5,160.1 509,158.1 509.5,158.8 510,155.6 510.5,155.5 511,152.0 511.5,148.7 512,145.8 512.5,142.7 513,141.1 513.5,138.5 514,137.6 514.5,135.4 515,134.7 515.5,134.1 516,133.1 516.5,132.6 517,132.2 517.5,131.2 518,130.8 518.5,129.8 519,131.0 519.5,130.8 520,131.3 520.5,128.3 521,127.3 521.5,126.8 522,127.9 522.5,127.7 523,127.0 523.5,125.7 524,126.0 524.5,124.5 525,122.7 525.5,124.5 526,125.5 526.5,125.3 527,123.2 527.5,120.8 528,120.9 528.5,123.8 529,124.4 529.5,124.1 530,123.3 530.5,122.0 531,123.1 531.5,124.4 532,126.1 532.5,126.9 533,132.5 533.5,137.8 534,140.7 534.5,144.5 535,147.3 535.5,151.0 536,156.0 536.5,164.6 537,168.0 537.5,169.4 538,170.3 538.5,170.3 539,171.9 539.5,174.2 540,172.6 540.5,172.0 541,170.5 541.5,170.2 542,170.6 542.5,171.9 543,174.5 543.5,174.9 544,174.5 544.5,174.7 545,175.9 545.5,176.1 546,174.1 546.5,174.3 547,175.9 547.5,178.6 548,180.3 548.5,179.0 549,178.6 549.5,178.5 550,179.0 550.5,180.6 551,181.1 551.5,181.8 552,182.3 552.5,182.7 553,183.6 553.5,185.7 554,186.5 554.5,187.7 555,188.1 555.5,189.7 556,191.4 556.5,193.9 557,195.3 557.5,198.1 558,198.6 558.5,200.1 559,202.4 559.5,202.8 560,204.4 560.5,206.7 561,210.0 561.5,211.1 562,212.6 562.5,213.1 563,214.7 563.5,217.3 564,218.9 564.5,221.1 565,222.0 565.5,224.7 566,225.2 566.5,227.4 567,227.6 567.5,230.2 568,232.0 568.5,233.1 569,234.9 569.5,236.8 570,238.1 570.5,239.2 571,240.3 571.5,242.0 572,243.4 572.5,245.1 573,246.3 573.5,246.9 574,247.3 574.5,247.3 575,246.3 575.5,248.1 576,250.2 576.5,250.0 577,250.3 577.5,252.4 578,250.8 578.5,252.6 579,252.3 579.5,252.8 580,252.9 580.5,253.8 581,254.5 581.5,253.3 582,255.2 582.5,255.9 583,256.7 583.5,255.6 584,255.6 584.5,254.4 585,253.4 585.5,255.2 586,255.7 586.5,253.0 587,251.5 587.5,251.7 588,253.8 588.5,254.2 589,252.9 589.5,254.7 590,256.0 590.5,253.7 591,254.4 591.5,255.2 592,255.4 592.5,256.2 593,256.6 593.5,257.4 594,256.7 594.5,257.7 595,256.8 595.5,259.1 596,258.9 596.5,259.3 597,261.2 597.5,263.6 598,262.1 598.5,259.1 599,259.4 599.5,258.8 600,259.4 600.5,259.4 601,261.0 601.5,261.7 602,260.5 602.5,262.4 603,264.4 603.5,262.5 604,262.3 604.5,263.1 605,260.7 605.5,260.7 606,261.2 606.5,261.3 607,260.5 607.5,258.4 608,257.6 608.5,257.3 609,257.5 609.5,256.0 610,253.7 610.5,253.1 611,251.9 611.5,250.7 612,249.3 612.5,246.5 613,245.0 613.5,241.8 614,239.7 614.5,237.1 615,235.4 615.5,232.8 616,230.0 616.5,227.7 617,225.3 617.5,224.3 618,222.6 618.5,219.9 619,218.4 619.5,216.9 620,215.0 620.5,212.8 621,210.7 621.5,209.3 622,207.3 622.5,206.9 623,205.4 623.5,204.7 624,202.7 624.5,201.5 625,200.6 625.5,198.5 626,198.3 626.5,197.0 627,195.4 627.5,195.0 628,193.1 628.5,194.4 629,193.4 629.5,195.4 630,195.6 630.5,195.6 631,196.7 631.5,197.8 632,198.5 632.5,200.7 633,203.0 633.5,202.3 634,203.0 634.5,203.6 635,203.1 635.5,204.5 636,205.9 636.5,208.2 637,210.1 637.5,211.7 638,214.2 638.5,215.4 639,216.6 639.5,218.2 640,220.8 640.5,222.1 641,223.3 641.5,224.4 642,225.7 642.5,227.2 643,229.3 643.5,229.7 644,230.7 644.5,232.0 645,232.9 645.5,234.5 646,235.9 646.5,236.6 647,237.0 647.5,237.3 648,237.9 648.5,239.3 649,241.3 649.5,241.0 650,242.6 650.5,243.7 651,245.7 651.5,244.5 652,244.0 652.5,245.3 653,246.8 653.5,248.5 654,248.5 654.5,247.7 655,247.9 655.5,249.5 656,251.5 656.5,253.9 657,253.0 657.5,253.9 658,255.4 658.5,253.4 659,255.1 659.5,254.6 660,254.4 660.5,259.0 661,258.1 661.5,259.9 662,258.4 662.5,257.5 663,259.5 663.5,258.7 664,260.3 664.5,261.5 665,262.7 665.5,263.7 666,263.4 666.5,263.9 667,264.7 667.5,264.5 668,264.0 668.5,265.2 669,266.7 669.5,267.8 670,269.2 670.5,266.9 671,266.8 671.5,268.1 672,269.0 672.5,270.3 673,270.0 673.5,270.0 674,272.1 674.5,272.4 675,272.0 675.5,272.1 676,274.0 676.5,273.8 677,275.6 677.5,275.1 678,273.0 678.5,274.2 679,274.6 679.5,276.9 680,275.4 680.5,276.3 681,277.5 681.5,279.0 682,277.1 682.5,278.0 683,276.9 683.5,276.7 684,279.8 684.5,278.3 685,278.1 685.5,281.6 686,281.4 686.5,282.5 687,281.2 687.5,282.7 688,281.2 688.5,283.4 689,282.9 689.5,282.5 690,279.0 690.5,279.2 691,281.2 691.5,282.8 692,280.6 692.5,278.2 693,276.9 693.5,275.8 694,273.4 694.5,276.8 695,278.2 695.5,277.6 696,276.1 696.5,274.1 697,274.8 697.5,273.5 698,273.3 698.5,270.2 699,269.7 699.5,268.1 700,266.0 700.5,263.7 701,261.9 701.5,260.3 702,257.2 702.5,254.0 703,252.3 703.5,250.8 704,249.9 704.5,249.6 705,248.3 705.5,246.6 706,244.2 706.5,244.0 707,243.1 707.5,240.8 708,241.1 708.5,242.6 709,238.8 709.5,237.8 710,237.2 710.5,237.4 711,239.4 711.5,237.8 712,239.6 712.5,239.3 713,240.8 713.5,240.6 714,240.5 714.5,239.0 715,237.0 715.5,239.4 716,241.9 716.5,241.4 717,243.2 717.5,244.0 718,243.8 718.5,244.2 719,244.8 719.5,245.7 720,245.5 720.5,245.6 721,244.9 721.5,246.7 722,246.9 722.5,249.2 723,249.3 723.5,249.6 724,249.2 724.5,250.2 725,249.1 725.5,249.9 726,249.1 726.5,249.4 727,250.8 727.5,252.1 728,251.6 728.5,252.1 729,250.5 729.5,251.0 730,253.3 730.5,253.1 731,251.1 731.5,252.8 732,253.7 732.5,254.0 733,254.8 733.5,253.8 734,255.1 734.5,255.2 735,257.4 735.5,257.8 736,257.8 736.5,258.6 737,261.6 737.5,261.5 738,263.3 738.5,264.9 739,266.6 739.5,268.3 740,271.6 740.5,273.1 741,275.8 741.5,277.8 742,279.1 742.5,279.6 743,280.6 743.5,279.9 744,280.3 744.5,280.5 745,280.3 745.5,280.8 746,282.5 746.5,282.8 747,281.2 747.5,282.5 748,283.8 748.5,283.4 749,283.2 749.5,284.2 750,285.2 750.5,286.0 751,285.8 751.5,286.2 752,286.8 752.5,287.8 753,288.0 753.5,288.1 754,287.3 754.5,286.0 755,286.4 755.5,286.4 756,288.8 756.5,292.0 757,291.3 757.5,290.1 758,291.3 758.5,290.5 759,290.5 759.5,291.2 760,291.1 760.5,294.6 761,293.8 761.5,293.8 762,294.0 762.5,292.3 763,294.5 763.5,294.5 764,295.8 764.5,297.4 765,297.4 765.5,294.5 766,296.2 766.5,295.5 767,298.0 767.5,295.9 768,295.3 768.5,299.5 769,298.3 769.5,295.9 770,296.3 770.5,299.9 771,303.0 771.5,298.5 772,293.2 772.5,299.8 773,296.8 773.5,298.3 774,296.6 774.5,293.2 775,296.1 775.5,295.6 776,301.7 776.5,305.3 777,302.4 777.5,302.2 778,299.6 778.5,299.2 779,302.8 779.5,300.7 780,297.1 780.5,297.1 781,301.1 781.5,300.1 782,298.8 782.5,298.2 783,297.8 783.5,295.8 784,297.8 784.5,295.1 785,300.0 785.5,299.4 786,305.5 786.5,304.7 787,300.5 787.5,303.6 788,305.0 788.5,298.1 789,301.5 789.5,296.2 790,303.5 790.5,295.9 791,297.7 791.5,299.9 792,300.8 792.5,299.6 793,305.4 793.5,304.1 794,301.3 794.5,299.2 795,297.2 795.5,300.2 796,298.8 796.5,301.1 797,299.0 797.5,299.3 798,300.6 798.5,298.1 799,296.1 799.5,303.4 800,302.0 800.5,301.0 801,300.1 801.5,304.4 802,304.0 802.5,303.5 803,304.4 803.5,307.3 804,306.6 804.5,306.0 805,305.4 805.5,309.6 806,303.2 806.5,302.6 807,303.3 807.5,305.0 808,308.8 808.5,302.4 809,301.9 809.5,296.5 810,296.4 810.5,297.9 811,292.9 811.5,295.5 812,294.7 812.5,296.9 813,297.7 813.5,304.5 814,304.0 814.5,304.5 815,302.2 815.5,300.9 816,299.4 816.5,301.3 817,302.1 817.5,303.8 818,298.9 818.5,299.8 819,293.1 819.5,293.2 820,303.0 820.5,308.8 821,308.9 821.5,300.1 822,295.5 822.5,292.4 823,299.3 823.5,303.6 824,300.1 824.5,305.4 825,309.1 825.5,315.0 826,309.7 826.5,309.4 827,303.6 827.5,299.8 828,302.1 828.5,300.9 829,303.1 829.5,308.4 830,306.1 830.5,306.3 831,303.8 831.5,303.1 832,302.6 832.5,305.7 833,303.8 833.5,298.7 834,300.9 834.5,297.8 835,300.7 835.5,298.6 836,302.5 836.5,304.9 837,305.0 837.5,308.4 838,310.4 838.5,312.0 839,307.2 839.5,307.0 840,307.9 840.5,314.3 841,305.7 841.5,306.3 842,306.2 842.5,308.6 843,305.0 843.5,309.3 844,308.0 844.5,305.6 845,306.3 845.5,299.5 846,302.0 846.5,304.8 847,304.0 847.5,301.5 848,299.5 848.5,301.0 849,301.7 849.5,303.5 850,304.4 850.5,302.9 851,301.3 851.5,296.9 852,302.4 852.5,306.4 853,302.0 853.5,307.0 854,305.0 854.5,307.6 855,303.6 855.5,300.2 856,297.7 856.5,301.0 857,302.9 857.5,299.7 858,303.6 858.5,300.0 859,301.9 859.5,304.8 860,301.9 860.5,301.2 861,305.9 861.5,302.9 862,299.9 862.5,302.1 863,302.2 863.5,304.0 864,306.3 864.5,309.1 865,311.8 865.5,304.4 866,304.9 866.5,304.7 867,304.2 867.5,308.5 868,303.7 868.5,302.1 869,302.6 869.5,295.7 870,301.9 870.5,307.2 871,309.2 871.5,311.1 872,311.5 872.5,315.3 873,309.0 873.5,305.5 874,303.9 874.5,304.0 875,304.1 875.5,304.3 876,299.2 876.5,301.0 877,301.0 877.5,303.7 878,311.7 878.5,312.8 879,308.3 879.5,307.2 880,302.5 880.5,308.8 881,308.0 881.5,303.2 882,306.9 882.5,305.4 883,302.3 883.5,298.4 884,294.1 884.5,298.0 885,300.0 885.5,302.6 886,304.2 886.5,304.7 887,306.8 887.5,306.4 888,304.4 888.5,304.0 889,304.3 889.5,300.2 890,301.6 890.5,300.2 891,300.2 891.5,300.3 892,302.8 892.5,297.4 893,301.3 893.5,304.4 894,303.9 894.5,304.0 895,303.3 895.5,308.6 896,308.9 896.5,309.9 897,306.1 897.5,303.5 898,305.6 898.5,303.3 899,308.0 899.5,307.9 900,304.1 900.5,301.4 901,305.0 901.5,308.3 902,306.6 902.5,302.1 903,303.9 903.5,299.2 904,304.0 904.5,306.4 905,306.1 905.5,304.5 906,304.6 906.5,304.3 907,306.0 907.5,305.5 908,307.2 908.5,311.1 909,309.2 909.5,298.3 910,302.7 910.5,299.2 911,300.9 911.5,305.3 912,300.9 912.5,301.8 913,300.2 913.5,302.4 914,299.2 914.5,298.9 915,304.5 915.5,304.3 916,310.3 916.5,310.0 917,313.4 917.5,306.3 918,298.3 918.5,299.6 919,295.7 919.5,294.5 920,293.4 920.5,296.7 921,307.9 921.5,310.6 922,304.5 922.5,298.5 923,300.3 923.5,306.7 924,312.5 924.5,312.0 925,308.4 925.5,307.9 926,302.3 926.5,302.6 927,308.0 927.5,300.8 928,298.7 928.5,298.8 929,303.6 929.5,302.3 930,309.7 930.5,304.1 931,304.1 931.5,306.6 932,306.3 932.5,308.8 933,310.5 933.5,306.7 934,306.8 934.5,304.2 935,305.5 935.5,307.4 936,301.6 936.5,301.1 937,303.2 937.5,304.2 938,299.3 938.5,298.9 939,295.9 939.5,297.2 940,299.7 940.5,300.3 941,304.7 941.5,308.4 942,305.2 942.5,307.0 943,305.4 943.5,306.4 944,306.4 944.5,306.3 945,305.1 945.5,308.4 946,306.1 946.5,306.1 947,305.2 947.5,301.4 948,299.9 948.5,304.8 949,303.1 949.5,302.0 950,299.2 950.5,303.5 951,299.3 951.5,296.1 952,298.4 952.5,297.9 953,298.8 953.5,298.7 954,293.4 954.5,297.0 955,299.9 955.5,297.7 956,297.5 956.5,295.0 957,295.4 957.5,297.2 958,296.5 958.5,297.1 959,295.0 959.5,299.7 960,297.3 960.5,298.3 961,295.5 961.5,291.9 962,294.7 962.5,292.5 963,297.6 963.5,294.0 964,292.9 964.5,294.3 965,292.2 965.5,291.1 966,289.8 966.5,288.9 967,292.2 967.5,293.8 968,292.1 968.5,295.9 969,291.4 969.5,290.1 970,292.8 970.5,290.9 971,288.0 971.5,293.5 972,289.0 972.5,289.8 973,292.9 973.5,289.7 974,292.1 974.5,292.3 975,297.3 975.5,295.8 976,292.9 976.5,290.1 977,288.3 977.5,290.9 978,291.5 978.5,293.1 979,298.4 979.5,297.5 980,295.2 980.5,293.9 981,293.3 981.5,292.5 982,292.5 982.5,294.8 983,291.3 983.5,289.8 984,286.9 984.5,287.2 985,289.6 985.5,289.5 986,288.9 986.5,290.3 987,287.5 987.5,287.2 988,283.0 988.5,284.6 989,281.3 989.5,283.0 990,278.6 990.5,283.8 991,280.9 991.5,285.8 992,286.1 992.5,289.5 993,291.5 993.5,292.7 994,290.4 994.5,288.2 995,287.8 995.5,281.1 996,280.9 996.5,283.6 997,284.9 997.5,284.4 998,290.8 998.5,288.1 999,286.8 999.5,291.0 1000,286.5 1000.5,289.4 1001,287.0 1001.5,291.3 1002,292.8 1002.5,293.1 1003,292.6 1003.5,289.2 1004,286.8 1004.5,290.5 1005,293.9 1005.5,288.4 1006,290.7 1006.5,289.4 1007,289.0 1007.5,290.8 1008,289.4 1008.5,286.8 1009,284.5 1009.5,286.9 1010,280.4 1010.5,285.3 1011,285.3 1011.5,286.8 1012,289.7 1012.5,291.0 1013,293.8 1013.5,289.8 1014,288.8 1014.5,289.9 1015,297.4 1015.5,300.4 1016,301.1 1016.5,297.2 1017,296.1 1017.5,290.9 1018,293.6 1018.5,297.6 1019,297.8 1019.5,299.9 1020,296.7 1020.5,294.0 1021,298.0 1021.5,296.3 1022,297.0 1022.5,293.9 1023,295.8 1023.5,297.0 1024,296.6 1024.5,296.1 1025,298.4 1025.5,299.8 1026,301.8 1026.5,300.0 1027,299.4 1027.5,300.7 1028,299.5 1028.5,302.0 1029,305.4 1029.5,305.7 1030,303.3 1030.5,303.7 1031,303.3 1031.5,304.0 1032,301.8 1032.5,297.0 1033,300.8 1033.5,302.8 1034,302.6 1034.5,302.6 1035,295.5 1035.5,293.1 1036,294.0 1036.5,294.3 1037,294.6 1037.5,300.3 1038,298.6 1038.5,300.7 1039,302.6 1039.5,300.4 1040,301.2 1040.5,302.7 1041,299.3 1041.5,301.9 1042,307.1 1042.5,308.0 1043,305.9 1043.5,302.8 1044,303.2 1044.5,306.8 1045,307.5 1045.5,309.2 1046,297.0 1046.5,304.6 1047,306.1 1047.5,303.0 1048,302.9 1048.5,303.3 1049,299.5 1049.5,297.8 1050,296.0 1050.5,295.8 1051,294.7 1051.5,297.1 1052,295.0 1052.5,293.5 1053,293.5 1053.5,305.7 1054,304.2 1054.5,307.6 1055,299.2 1055.5,299.8 1056,306.9 1056.5,304.3 1057,301.1 1057.5,305.3 1058,303.4 1058.5,299.1 1059,296.0 1059.5,295.1 1060,292.1 1060.5,298.3 1061,300.3 1061.5,303.7 1062,310.1 1062.5,305.3 1063,307.2 1063.5,306.3 1064,302.9 1064.5,301.1 1065,297.5 1065.5,302.7 1066,305.9 1066.5,304.3 1067,305.3 1067.5,305.6 1068,303.2 1068.5,303.9 1069,300.4 1069.5,303.0 1070,302.1 1070.5,299.0 1071,302.6 1071.5,303.9 1072,304.2 1072.5,306.5 1073,301.5 1073.5,302.2 1074,303.4 1074.5,298.6 1075,301.3 1075.5,300.0 1076,297.5 1076.5,298.4 1077,298.4 1077.5,298.0 1078,299.7 1078.5,298.3 1079,297.1 1079.5,300.6 1080,309.8 1080.5,308.9 1081,302.5 1081.5,303.3 1082,304.1 1082.5,303.4 1083,304.1 1083.5,302.4 1084,302.6 1084.5,301.0 1085,301.2 1085.5,302.5 1086,301.2 1086.5,308.3 1087,307.0 1087.5,308.1 1088,305.3 1088.5,300.5 1089,302.5 1089.5,306.9 1090,303.4 1090.5,304.8 1091,302.8 1091.5,298.8 1092,305.7 1092.5,304.5 1093,303.7 1093.5,303.4 1094,302.8 1094.5,308.4 1095,304.7 1095.5,306.6 1096,302.9 1096.5,303.5 1097,297.8 1097.5,302.4 1098,297.7 1098.5,294.6 1099,301.4 1099.5,310.0 1100,306.3 1100.5,310.9 1101,306.1 1101.5,305.2 1102,304.8 1102.5,308.6 1103,304.5 1103.5,305.6 1104,305.2 1104.5,301.0 1105,297.4 1105.5,302.5 1106,298.9 1106.5,299.7 1107,300.5 1107.5,297.6 1108,293.0 1108.5,295.2 1109,302.5 1109.5,303.7 1110,308.8 1110.5,309.7 1111,311.9 1111.5,311.6 1112,314.1 1112.5,307.1 1113,306.0 1113.5,302.6 1114,304.6 1114.5,302.5 1115,299.1 1115.5,298.4 1116,294.8 1116.5,299.0 1117,298.6 1117.5,299.7 1118,299.6 1118.5,302.2 1119,300.9 1119.5,306.3 1120,303.7 1120.5,304.9 1121,307.4 1121.5,308.6 1122,308.4 1122.5,304.6 1123,300.5 1123.5,302.1 1124,299.4 1124.5,293.8 1125,301.1 1125.5,298.8 1126,304.8 1126.5,300.2 1127,300.6 1127.5,304.4 1128,303.4 1128.5,301.0 1129,297.5 1129.5,296.2 1130,299.1 1130.5,299.8 1131,305.7 1131.5,303.3 1132,301.5 1132.5,300.2 1133,297.6 1133.5,298.2 1134,301.8 1134.5,299.6 1135,306.1 1135.5,305.5 1136,302.1 1136.5,299.9 1137,293.8 1137.5,299.1 1138,299.1 1138.5,302.8 1139,302.1 1139.5,305.3 1140,298.9 1140.5,304.7 1141,304.9 1141.5,302.3 1142,306.4 1142.5,301.6 1143,301.9 1143.5,305.1 1144,299.7 1144.5,299.0 1145,303.6 1145.5,302.1 1146,302.2 1146.5,296.2 1147,302.0 1147.5,303.1 1148,300.9 1148.5,305.4 1149,306.4 1149.5,306.2 1150,302.7 1150.5,299.7 1151,302.9 1151.5,305.4 1152,305.9 1152.5,302.8 1153,296.8 1153.5,295.3 1154,296.1 1154.5,297.9 1155,297.0 1155.5,296.8 1156,293.7 1156.5,293.7 1157,294.4 1157.5,299.4 1158,304.2 1158.5,302.8 1159,299.6 1159.5,298.5 1160,296.7 1160.5,298.4 1161,301.3 1161.5,301.9 1162,299.3 1162.5,298.1 1163,297.2 1163.5,299.7 1164,296.9 1164.5,295.4 1165,294.0 1165.5,293.8 1166,289.5 1166.5,293.0 1167,295.8 1167.5,299.5 1168,296.5 1168.5,293.4 1169,293.6 1169.5,290.9 1170,289.2 1170.5,285.7 1171,286.9 1171.5,288.6 1172,289.8 1172.5,291.6 1173,289.6 1173.5,291.3 1174,288.7 1174.5,290.1 1175,287.8 1175.5,288.2 1176,291.0 1176.5,291.4 1177,284.1 1177.5,278.9 1178,285.8 1178.5,287.9 1179,289.2 1179.5,292.0 1180,288.0 1180.5,274.6 1181,273.7 1181.5,282.0 1182,284.6 1182.5,281.3 1183,283.9 1183.5,282.9 1184,287.4 1184.5,292.5 1185,291.2 1185.5,294.4 1186,284.6 1186.5,285.5 1187,280.4 1187.5,282.0 1188,284.9 1188.5,286.0 1189,287.5 1189.5,284.0 1190,288.0 1190.5,288.5 1191,284.8 1191.5,289.7 1192,285.1 1192.5,283.2 1193,282.7 1193.5,284.0 1194,284.3 1194.5,286.7 1195,287.5 1195.5,284.2 1196,288.0 1196.5,288.4 1197,290.1 1197.5,289.9 1198,288.2 1198.5,282.9 1199,282.1 1199.5,286.4 1200,284.3 1200.5,284.0 1201,283.2 1201.5,283.8 1202,285.2 1202.5,291.9 1203,288.8 1203.5,292.8 1204,290.5 1204.5,287.4 1205,285.5 1205.5,285.7 1206,289.2 1206.5,288.8 1207,291.7 1207.5,291.5 1208,292.0 1208.5,293.9 1209,295.7 1209.5,295.4 1210,292.5 1210.5,292.1 1211,294.6 1211.5,295.6 1212,297.2 1212.5,300.8 1213,298.3 1213.5,298.0 1214,295.1 1214.5,292.0 1215,290.9 1215.5,294.3 1216,294.5 1216.5,297.1 1217,294.6 1217.5,290.6 1218,293.4 1218.5,297.5 1219,294.1 1219.5,296.5 1220,295.4 1220.5,293.4 1221,301.2 1221.5,299.3 1222,296.6 1222.5,292.7 1223,297.0 1223.5,304.0 1224,309.0 1224.5,301.6 1225,300.7 1225.5,299.8 1226,301.5 1226.5,303.0 1227,300.7 1227.5,301.7 1228,304.3 1228.5,297.9 1229,298.3 1229.5,297.2 1230,299.2 1230.5,300.8 1231,296.7 1231.5,291.9 1232,294.0 1232.5,293.3 1233,299.6 1233.5,302.0 1234,297.6 1234.5,291.9 1235,294.8 1235.5,295.9 1236,296.9 1236.5,296.6 1237,293.8 1237.5,293.0 1238,295.9 1238.5,295.6 1239,293.7 1239.5,291.2 1240,289.9 1240.5,289.8 1241,287.9 1241.5,287.6 1242,286.9 1242.5,286.0 1243,283.9 1243.5,283.4 1244,280.3 1244.5,283.5 1245,283.1 1245.5,281.6 1246,281.7 1246.5,278.6 1247,274.8 1247.5,280.4 1248,277.1 1248.5,277.0 1249,280.9 1249.5,276.8 1250,280.1 1250.5,280.8 1251,279.0 1251.5,278.5 1252,275.5 1252.5,280.5 1253,287.3 1253.5,289.6 1254,290.5 1254.5,285.6 1255,286.1 1255.5,286.5 1256,286.1 1256.5,288.1 1257,288.3 1257.5,291.2 1258,292.2 1258.5,290.6 1259,290.0 1259.5,290.2 1260,291.1 1260.5,291.9 1261,292.3 1261.5,291.6 1262,292.8 1262.5,297.4 1263,297.6 1263.5,297.6 1264,299.3 1264.5,301.3 1265,298.0 1265.5,295.5 1266,291.7 1266.5,295.7 1267,297.6 1267.5,298.6 1268,300.1 1268.5,303.0 1269,305.6 1269.5,303.2 1270,297.1 1270.5,300.7 1271,297.1 1271.5,299.9 1272,297.9 1272.5,302.8 1273,299.5 1273.5,298.2 1274,300.0 1274.5,302.9 1275,301.7 1275.5,302.1 1276,301.4 1276.5,304.3 1277,301.7 1277.5,296.9 1278,296.1 1278.5,294.5 1279,294.9 1279.5,296.4 1280,299.2 1280.5,300.7 1281,298.1 1281.5,299.6 1282,302.9 1282.5,294.7 1283,297.2 1283.5,294.5 1284,295.7 1284.5,290.5 1285,296.7 1285.5,295.4 1286,293.1 1286.5,291.0 1287,295.4 1287.5,298.7 1288,296.0 1288.5,301.2 1289,304.4 1289.5,304.6 1290,296.4 1290.5,291.0 1291,292.4 1291.5,298.6 1292,297.4 1292.5,296.8 1293,302.9 1293.5,304.3 1294,306.1 1294.5,295.9 1295,296.4 1295.5,292.6 1296,291.5 1296.5,297.8 1297,297.5 1297.5,294.9 1298,292.0 1298.5,293.7 1299,299.3 1299.5,298.7 1300,303.8 1300.5,298.4 1301,301.1 1301.5,296.4 1302,293.9 1302.5,291.8 1303,297.1 1303.5,296.0 1304,296.4 1304.5,296.3 1305,294.1 1305.5,294.9 1306,294.0 1306.5,303.7 1307,296.2 1307.5,301.6 1308,291.1 1308.5,297.1 1309,296.3 1309.5,296.5 1310,295.7 1310.5,293.4 1311,297.0 1311.5,298.4 1312,297.0 1312.5,295.9 1313,295.1 1313.5,295.8 1314,293.2 1314.5,298.6 1315,297.0 1315.5,303.2 1316,295.7 1316.5,294.7 1317,294.5 1317.5,290.8 1318,291.4 1318.5,298.1 1319,297.6 1319.5,295.6 1320,292.1 1320.5,287.0 1321,291.3 1321.5,294.3 1322,292.7 1322.5,291.5 1323,295.6 1323.5,293.5 1324,302.2 1324.5,301.9 1325,305.5 1325.5,297.6 1326,299.0 1326.5,293.6 1327,296.7 1327.5,301.8 1328,300.5 1328.5,302.7 1329,302.5 1329.5,298.5 1330,295.2 1330.5,295.6 1331,292.2 1331.5,296.1 1332,298.4 1332.5,294.3 1333,295.7 1333.5,302.2 1334,305.2 1334.5,309.5 1335,304.7 1335.5,299.8 1336,294.5 1336.5,298.3 1337,293.1 1337.5,289.5 1338,295.1 1338.5,296.0 1339,297.4 1339.5,299.9 1340,298.8 1340.5,298.1 1341,306.0 1341.5,306.3 1342,302.7 1342.5,303.5 1343,298.4 1343.5,299.2 1344,295.9 1344.5,293.0 1345,290.5 1345.5,292.8 1346,290.6 1346.5,294.6 1347,297.5 1347.5,300.8 1348,297.6 1348.5,296.8 1349,298.8 1349.5,300.6 1350,301.6 1350.5,300.2 1351,302.4 1351.5,297.1 1352,297.9 1352.5,297.0 1353,296.0 1353.5,296.6 1354,293.6 1354.5,292.1 1355,297.4 1355.5,294.0 1356,301.0 1356.5,301.3 1357,297.3 1357.5,297.3 1358,295.8 1358.5,298.5 1359,300.3 1359.5,304.6 1360,304.9 1360.5,308.8 1361,302.7 1361.5,300.1 1362,296.2 1362.5,297.5 1363,290.7 1363.5,295.3 1364,295.2 1364.5,292.6 1365,292.1 1365.5,294.7 1366,300.7 1366.5,301.6 1367,298.3 1367.5,291.0 1368,295.6 1368.5,295.0 1369,294.4 1369.5,292.0 1370,288.0 1370.5,283.3 1371,286.5 1371.5,290.4 1372,294.6 1372.5,294.6 1373,291.4 1373.5,290.1 1374,281.6 1374.5,283.0 1375,287.9 1375.5,295.0 1376,295.6 1376.5,294.3 1377,294.4 1377.5,294.3 1378,298.7 1378.5,295.1 1379,292.2 1379.5,293.9 1380,296.3 1380.5,293.2 1381,295.3 1381.5,291.1 1382,291.2 1382.5,294.4 1383,291.3 1383.5,291.2 1384,289.9 1384.5,292.4 1385,295.1 1385.5,295.0 1386,298.8 1386.5,295.7 1387,293.7 1387.5,292.5 1388,293.6 1388.5,290.7 1389,295.3 1389.5,294.9 1390,294.5 1390.5,296.0 1391,293.2 1391.5,296.4 1392,294.3 1392.5,293.9 1393,292.7 1393.5,289.0 1394,291.2 1394.5,292.3 1395,292.6 1395.5,296.7 1396,299.7 1396.5,299.0 1397,295.9 1397.5,291.5 1398,292.1 1398.5,294.7 1399,290.8 1399.5,294.5 1400,288.7 1400.5,289.8 1401,291.3 1401.5,288.4 1402,290.0 1402.5,294.6 1403,292.5 1403.5,292.0 1404,286.9 1404.5,286.8 1405,287.2 1405.5,290.2 1406,293.2 1406.5,288.2 1407,286.0 1407.5,284.1 1408,288.1 1408.5,290.5 1409,289.4 1409.5,288.5 1410,284.9 1410.5,285.8 1411,284.1 1411.5,283.4 1412,284.9 1412.5,283.6 1413,282.7 1413.5,281.2 1414,281.2 1414.5,279.7 1415,279.2 1415.5,279.7 1416,279.4 1416.5,278.2 1417,277.9 1417.5,275.6 1418,274.1 1418.5,272.9 1419,270.1 1419.5,270.0 1420,267.8 1420.5,266.4 1421,263.9 1421.5,261.9 1422,259.5 1422.5,257.3 1423,255.0 1423.5,252.4 1424,248.9 1424.5,246.0 1425,241.4 1425.5,238.0 1426,234.2 1426.5,230.9 1427,227.6 1427.5,224.2 1428,221.4 1428.5,218.0 1429,214.4 1429.5,212.4 1430,210.2 1430.5,207.3 1431,204.7 1431.5,202.3 1432,199.6 1432.5,197.1 1433,194.8 1433.5,192.9 1434,190.8 1434.5,188.1 1435,187.0 1435.5,186.2 1436,184.8 1436.5,184.7 1437,182.7 1437.5,180.1 1438,178.5 1438.5,178.3 1439,178.6 1439.5,179.3 1440,179.0 1440.5,178.4 1441,177.3 1441.5,174.3 1442,173.3 1442.5,171.4 1443,172.3 1443.5,171.7 1444,171.2 1444.5,170.6 1445,169.3 1445.5,168.3 1446,167.6 1446.5,167.1 1447,166.5 1447.5,165.5 1448,163.8 1448.5,161.8 1449,159.6 1449.5,158.4 1450,158.4 1450.5,157.1 1451,157.4 1451.5,158.6 1452,160.2 1452.5,160.8 1453,160.6 1453.5,161.5 1454,163.2 1454.5,162.7 1455,164.0 1455.5,164.2 1456,166.1 1456.5,168.1 1457,169.3 1457.5,172.3 1458,174.4 1458.5,177.4 1459,180.7 1459.5,184.2 1460,187.7 1460.5,192.6 1461,198.7 1461.5,205.9 1462,212.2 1462.5,217.5 1463,221.2 1463.5,225.2 1464,228.2 1464.5,230.2 1465,232.7 1465.5,233.2 1466,232.8 1466.5,234.6 1467,233.2 1467.5,234.8 1468,234.9 1468.5,235.8 1469,235.7 1469.5,235.5 1470,236.0 1470.5,236.0 1471,236.7 1471.5,238.0 1472,238.5 1472.5,239.0 1473,238.4 1473.5,239.4 1474,238.8 1474.5,240.1 1475,240.8 1475.5,239.9 1476,242.3 1476.5,241.8 1477,241.3 1477.5,242.7 1478,240.9 1478.5,242.8 1479,240.9 1479.5,240.8 1480,241.6 1480.5,242.4 1481,243.2 1481.5,240.6 1482,240.0 1482.5,240.5 1483,243.1 1483.5,242.4 1484,245.1 1484.5,242.0 1485,241.7 1485.5,240.6 1486,240.7 1486.5,241.4 1487,240.7 1487.5,241.6 1488,241.7 1488.5,242.3 1489,243.6 1489.5,243.1 1490,244.0 1490.5,243.6 1491,242.5 1491.5,243.2 1492,244.3 1492.5,243.8 1493,243.4 1493.5,242.7 1494,245.3 1494.5,243.8 1495,242.8 1495.5,244.0 1496,244.2 1496.5,242.3 1497,242.7 1497.5,242.6 1498,243.6 1498.5,243.3 1499,244.3 1499.5,246.3 1500,245.3 1500.5,245.3 1501,244.0 1501.5,243.7 1502,244.0 1502.5,243.9 1503,243.8 1503.5,244.6 1504,245.2 1504.5,246.0 1505,245.8 1505.5,247.1 1506,247.3 1506.5,247.6 1507,246.7 1507.5,246.7 1508,245.3 1508.5,246.8 1509,247.2 1509.5,247.3 1510,248.4 1510.5,248.3 1511,248.1 1511.5,248.6 1512,251.0 1512.5,252.4 1513,253.5 1513.5,253.4 1514,252.2 1514.5,251.6 1515,251.0 1515.5,252.2 1516,251.5 1516.5,252.0 1517,253.4 1517.5,252.2 1518,253.1 1518.5,253.3 1519,253.6 1519.5,253.0 1520,254.5 1520.5,253.3 1521,254.7 1521.5,255.0 1522,255.5 1522.5,256.8 1523,258.0 1523.5,257.5 1524,257.0 1524.5,257.2 1525,258.0 1525.5,258.9 1526,258.2 1526.5,259.0 1527,258.8 1527.5,259.5 1528,259.5 1528.5,259.6 1529,261.5 1529.5,261.4 1530,261.7 1530.5,262.6 1531,262.9 1531.5,263.5 1532,263.9 1532.5,264.2 1533,264.5 1533.5,265.1 1534,265.4 1534.5,265.3 1535,267.0 1535.5,265.8 1536,266.3 1536.5,266.4 1537,267.4 1537.5,266.5 1538,268.1 1538.5,269.8 1539,270.2 1539.5,270.8 1540,270.6 1540.5,271.5 1541,272.9 1541.5,272.3 1542,272.2 1542.5,273.4 1543,272.3 1543.5,273.2 1544,274.2 1544.5,276.0 1545,276.2 1545.5,275.6 1546,274.7 1546.5,274.1 1547,274.0 1547.5,276.5 1548,277.4 1548.5,277.9 1549,277.6 1549.5,277.7 1550,279.1 1550.5,280.5 1551,280.0 1551.5,280.8 1552,280.8 1552.5,280.6 1553,282.3 1553.5,283.1 1554,284.3 1554.5,282.9 1555,284.0 1555.5,283.7 1556,285.0 1556.5,285.5 1557,285.7 1557.5,285.7 1558,286.5 1558.5,286.4 1559,286.8 1559.5,288.4" fill="none" stroke="#ff80ff" stroke-width="3.4" stroke-linejoin="round" stroke-linecap="butt"/>
</g>
<g font-size="62.0" text-anchor="middle" transform="translate(0,1188.0) scale(1,1.035) translate(0,-1188.0)">
<text x="167.5" y="1188.0">20</text>
<text x="399.3" y="1188.0">30</text>
<text x="631.2" y="1188.0">40</text>
<text x="863.0" y="1188.0">50</text>
<text x="1094.8" y="1188.0">60</text>
<text x="1326.7" y="1188.0">70</text>
<text x="1558.5" y="1188.0">80</text>
</g>
<text x="669.5" y="1333" font-size="80.5">2 Theta (<tspan font-size="48.3" dy="-45.5">o</tspan><tspan dy="45.5">)</tspan></text>
<text transform="translate(77.2,948) rotate(-90)" font-size="83.85">Intensity (arb. unit)</text>
<text x="920" y="242" font-size="57.5">400<tspan font-size="35.6" dy="-33">o</tspan><tspan dy="33">C, 30 min</tspan></text>
<text x="920" y="402" font-size="57.5">300<tspan font-size="35.6" dy="-33">o</tspan><tspan dy="33">C, 30 min</tspan></text>
<text x="920" y="562" font-size="57.5">400<tspan font-size="35.6" dy="-33">o</tspan><tspan dy="33">C, 10 min</tspan></text>
<text x="917" y="708" font-size="57.5">300<tspan font-size="35.6" dy="-33">o</tspan><tspan dy="33">C, 10 min</tspan></text>
<text x="935" y="847.3" font-size="57.5">As-dep.</text>
<text x="927" y="968.5" font-size="57.5">Bare SiC</text>

</svg></body></html>
